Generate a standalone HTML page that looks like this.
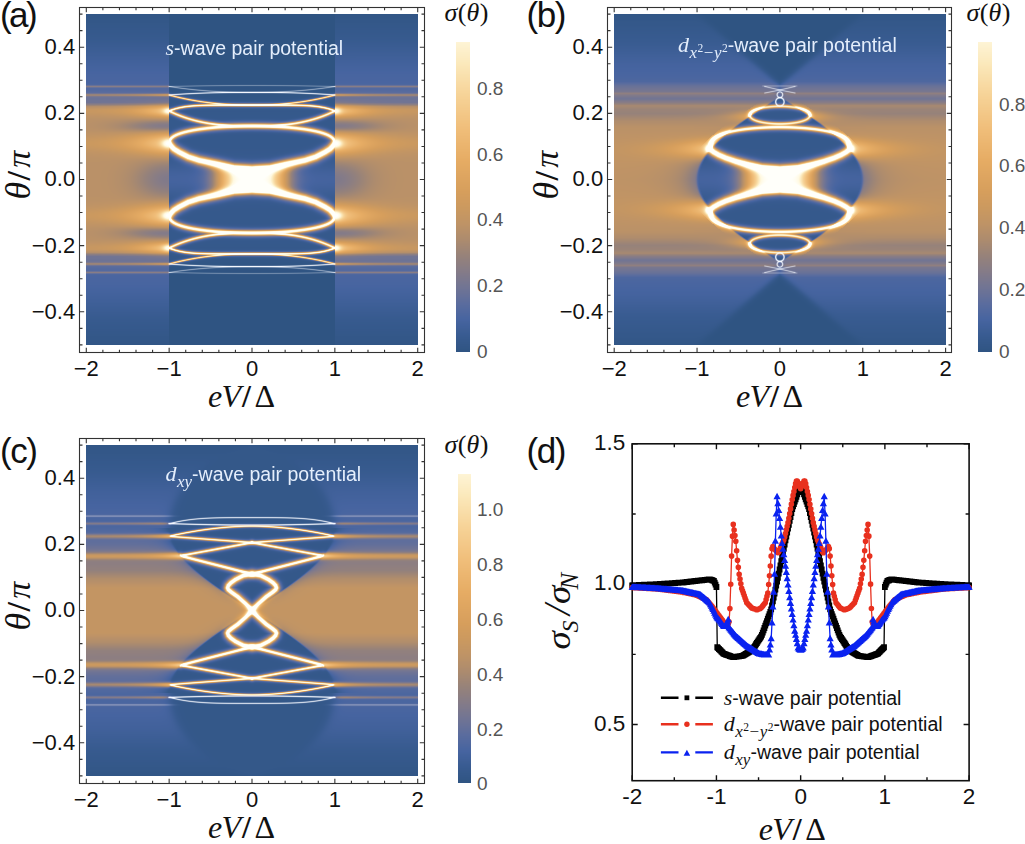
<!DOCTYPE html>
<html><head><meta charset="utf-8"><style>
html,body{margin:0;padding:0;background:#fff;}
body{width:1025px;height:844px;overflow:hidden;position:relative;}
svg{position:absolute;left:0;top:0;}
canvas{position:absolute;}
.fb{position:absolute;}
.tl{font-family:"Liberation Sans", sans-serif;font-size:22px;fill:#111;}
.tl2{font-family:"Liberation Sans", sans-serif;font-size:22.5px;fill:#111;}
.lg{font-family:"Liberation Sans", sans-serif;font-size:19.5px;fill:#111;}
.ax{font-family:"Liberation Serif", serif;fill:#111;}
.pl{font-family:"Liberation Sans", sans-serif;font-size:35px;fill:#111;letter-spacing:-1.4px;}
.cl{font-family:"Liberation Sans", sans-serif;font-size:19px;fill:#555;}
.ct{font-family:"Liberation Serif", serif;font-size:26px;fill:#111;}
.pt{font-family:"Liberation Sans", sans-serif;font-size:19.5px;fill:#e4eefc;}
</style></head>
<body>
<svg width="1025" height="844" viewBox="0 0 1025 844">
<rect x="0" y="0" width="1025" height="844" fill="#fff"/>
<path fill="#335787" d="M86 14h332v5h-332zM86 19h332v5h-332zM86 24h332v5h-332zM86 29h332v5h-332zM86 34h332v5h-332zM86 39h332v5h-332zM187 94h127v5h-127zM194 259h116v5h-116zM86 314h332v5h-332zM86 319h332v5h-332zM86 324h332v5h-332zM86 329h332v5h-332zM86 334h332v5h-332zM86 339h332v5h-332zM86 344h332v1h-332zM614 14h332v5h-332zM614 19h332v5h-332zM614 24h332v5h-332zM614 29h332v5h-332zM762 64h45v5h-45zM767 69h35v5h-35zM762 289h44v5h-44zM614 324h332v5h-332zM614 329h332v5h-332zM614 334h332v5h-332zM614 339h332v5h-332zM614 344h332v1h-332zM86 445h332v5h-332zM86 450h332v5h-332zM86 765h332v5h-332zM86 770h332v5h-332zM86 775h332v1h-332z"/><path fill="#33578d" d="M86 44h332v5h-332zM86 309h332v5h-332zM614 34h332v5h-332zM719 214h121v5h-121zM614 319h332v5h-332zM86 455h332v5h-332zM86 460h332v5h-332zM173 705h164v5h-164zM86 755h332v5h-332zM86 760h332v5h-332z"/><path fill="#39578d" d="M86 49h332v5h-332zM169 99h15v5h-15zM320 99h15v5h-15zM86 304h332v5h-332zM614 39h332v5h-332zM720 139h119v5h-119zM614 314h332v5h-332zM86 465h332v5h-332zM86 750h332v5h-332z"/><path fill="#395d8d" d="M86 54h332v5h-332zM179 109h144v5h-144zM192 114h117v5h-117zM169 119h15v5h-15zM185 134h130v5h-130zM177 139h149v5h-149zM181 144h138v5h-138zM193 149h115v5h-115zM183 209h134v5h-134zM176 214h150v5h-150zM185 219h134v5h-134zM169 234h18v5h-18zM315 234h20v5h-20zM196 239h109v5h-109zM181 244h140v5h-140zM169 254h18v5h-18zM614 44h332v5h-332zM756 114h48v5h-48zM728 134h100v5h-100zM720 144h120v5h-120zM731 149h98v5h-98zM736 204h90v5h-90zM718 209h121v5h-121zM727 219h105v5h-105zM614 309h332v5h-332zM86 470h332v5h-332zM86 475h332v5h-332zM175 525h22v5h-22zM206 530h90v5h-90zM219 550h65v5h-65zM203 555h94v5h-94zM227 560h51v5h-51zM199 570h28v5h-28zM276 570h30v5h-30zM205 575h22v5h-22zM275 575h24v5h-24zM213 580h10v5h-10zM236 585h32v5h-32zM235 630h32v5h-32zM206 640h20v5h-20zM277 640h21v5h-21zM200 645h30v5h-30zM273 645h32v5h-32zM231 655h43v5h-43zM210 660h84v5h-84zM210 665h80v5h-80zM169 675h48v5h-48zM198 685h105v5h-105zM86 740h332v5h-332zM86 745h332v5h-332z"/><path fill="#3f6399" d="M86 59h83v5h-83zM335 59h83v5h-83zM169 159h12v5h-12zM313 164h22v5h-22zM169 194h14v5h-14zM86 299h83v5h-83zM335 299h83v5h-83zM703 159h12v5h-12zM700 164h25v5h-25zM702 194h15v5h-15z"/><path fill="#2d5781" d="M169 59h166v5h-166zM169 64h166v5h-166zM169 69h166v5h-166zM169 74h166v5h-166zM169 79h166v5h-166zM169 279h166v5h-166zM169 284h166v5h-166zM169 289h166v5h-166zM169 294h166v5h-166zM169 299h166v5h-166z"/><path fill="#45639f" d="M86 64h83v5h-83zM335 64h83v5h-83zM86 69h83v5h-83zM335 69h83v5h-83zM169 169h34v5h-34zM303 169h32v5h-32zM169 174h35v5h-35zM169 184h34v5h-34zM86 284h83v5h-83zM335 284h83v5h-83zM86 289h83v5h-83zM335 289h83v5h-83zM614 64h148v5h-148zM807 64h139v5h-139zM614 69h153v5h-153zM802 69h144v5h-144zM773 74h173v5h-173zM698 169h33v5h-33zM831 169h31v5h-31zM698 184h34v5h-34zM829 184h33v5h-33zM614 284h154v5h-154zM768 284h178v5h-178zM614 289h148v5h-148zM806 289h140v5h-140zM614 294h144v5h-144z"/><path fill="#4b639f" d="M86 74h83v5h-83zM335 74h83v5h-83zM86 79h83v5h-83zM335 79h83v5h-83zM169 179h35v5h-35zM296 184h39v5h-39zM86 279h83v5h-83zM335 279h83v5h-83zM614 74h159v5h-159zM697 174h35v5h-35zM697 179h35v5h-35zM614 279h160v5h-160zM774 279h172v5h-172z"/><path fill="#636f99" d="M86 84h100v5h-100zM306 164h7v5h-7zM86 269h109v5h-109zM715 159h3v5h-3zM860 189h1v5h-1zM771 254h4v5h-4zM86 530h90v5h-90zM234 585h2v5h-2zM268 585h2v5h-2zM230 645h3v5h-3zM341 675h77v5h-77z"/><path fill="#3f638d" d="M186 84h149v5h-149zM317 89h18v5h-18z"/><path fill="#696f99" d="M335 84h83v5h-83zM175 139h2v5h-2zM295 169h8v5h-8zM335 269h83v5h-83zM798 84h148v5h-148zM699 164h1v5h-1zM725 164h5v5h-5zM823 169h8v5h-8zM727 189h5v5h-5zM86 545h85v5h-85zM333 545h85v5h-85zM184 655h4v5h-4z"/><path fill="#5d6f99" d="M86 89h83v5h-83zM335 89h83v5h-83zM326 214h2v5h-2zM771 99h4v5h-4zM785 99h4v5h-4zM716 144h4v5h-4zM777 254h6v5h-6zM332 530h86v5h-86zM267 630h2v5h-2zM223 635h1v5h-1zM86 675h83v5h-83z"/><path fill="#3f5d8d" d="M169 89h17v5h-17zM318 119h17v5h-17zM314 254h21v5h-21zM299 545h34v5h-34zM280 580h13v5h-13zM212 635h11v5h-11z"/><path fill="#6f87ab" d="M186 89h131v5h-131z"/><path fill="#877b87" d="M86 94h83v5h-83zM335 94h83v5h-83zM184 159h2v5h-2zM181 209h2v5h-2zM718 159h3v5h-3zM858 159h1v5h-1zM819 179h6v5h-6zM700 194h1v5h-1zM842 209h2v5h-2zM250 600h4v5h-4zM233 645h2v5h-2zM86 680h84v5h-84zM334 680h84v5h-84z"/><path fill="#a59f9f" d="M169 94h14v5h-14zM321 94h12v5h-12zM186 114h3v5h-3zM326 114h2v5h-2zM193 234h4v5h-4zM722 219h1v5h-1zM199 655h4v5h-4z"/><path fill="#7b8799" d="M183 94h4v5h-4zM222 680h14v5h-14z"/><path fill="#5d6f8d" d="M314 94h4v5h-4zM330 104h3v5h-3zM321 244h3v5h-3zM189 259h5v5h-5zM310 259h5v5h-5zM292 565h6v5h-6zM274 655h5v5h-5zM294 660h4v5h-4z"/><path fill="#818d9f" d="M318 94h3v5h-3z"/><path fill="#8d93a5" d="M333 94h2v5h-2z"/><path fill="#757593" d="M86 99h83v5h-83zM335 99h83v5h-83zM328 139h1v5h-1zM696 174h1v5h-1zM696 184h2v5h-2z"/><path fill="#69758d" d="M184 99h5v5h-5zM173 129h2v5h-2zM333 249h2v5h-2zM275 535h14v5h-14zM206 540h13v5h-13zM213 550h6v5h-6zM272 570h4v5h-4zM307 655h4v5h-4zM290 665h6v5h-6zM199 670h6v5h-6zM235 670h6v5h-6zM299 670h6v5h-6z"/><path fill="#8d8d8d" d="M189 99h27v5h-27z"/><path fill="#51698d" d="M216 99h68v5h-68z"/><path fill="#87878d" d="M284 99h32v5h-32zM204 129h11v5h-11zM169 259h20v5h-20zM315 259h18v5h-18zM754 239h2v5h-2zM308 560h4v5h-4zM263 565h4v5h-4z"/><path fill="#636f8d" d="M316 99h4v5h-4zM309 114h4v5h-4zM305 239h4v5h-4zM187 254h4v5h-4zM801 239h3v5h-3zM800 244h2v5h-2zM296 530h7v5h-7zM218 535h14v5h-14zM287 540h14v5h-14zM204 545h6v5h-6zM284 550h6v5h-6zM208 565h4v5h-4zM227 570h4v5h-4zM203 640h3v5h-3zM305 645h3v5h-3zM212 650h4v5h-4zM205 660h5v5h-5z"/><path fill="#b78d69" d="M86 104h67v5h-67zM383 124h35v5h-35zM86 159h83v5h-83zM335 159h83v5h-83zM367 174h51v5h-51zM86 179h54v5h-54zM367 179h51v5h-51zM389 229h29v5h-29zM862 169h84v5h-84zM295 580h123v5h-123zM224 585h1v5h-1zM279 585h1v5h-1z"/><path fill="#d5a569" d="M153 104h16v5h-16zM845 144h1v5h-1z"/><path fill="#51638d" d="M169 104h4v5h-4zM839 139h1v5h-1zM210 580h3v5h-3z"/><path fill="#758193" d="M173 104h3v5h-3z"/><path fill="#aba5a5" d="M176 104h151v5h-151zM723 134h2v5h-2z"/><path fill="#818799" d="M327 104h3v5h-3z"/><path fill="#456393" d="M333 104h2v5h-2zM169 239h6v5h-6zM329 239h6v5h-6zM760 109h37v5h-37zM745 119h5v5h-5zM241 580h21v5h-21zM246 595h11v5h-11z"/><path fill="#bd9369" d="M335 104h83v5h-83zM173 139h1v5h-1zM330 139h1v5h-1zM214 174h5v5h-5zM214 179h5v5h-5zM213 184h4v5h-4zM287 184h4v5h-4zM86 199h83v5h-83zM335 199h83v5h-83zM86 224h83v5h-83zM335 224h83v5h-83zM614 129h104v5h-104zM840 129h106v5h-106zM614 159h85v5h-85zM859 159h87v5h-87zM614 164h76v5h-76zM614 169h71v5h-71zM814 174h4v5h-4zM741 184h4v5h-4zM614 189h74v5h-74zM614 194h83v5h-83zM859 194h87v5h-87zM614 224h102v5h-102zM845 224h101v5h-101zM614 229h115v5h-115zM824 229h122v5h-122zM736 244h11v5h-11z"/><path fill="#cf9f63" d="M86 109h65v5h-65zM335 134h83v5h-83zM335 149h83v5h-83zM86 219h72v5h-72zM86 244h66v5h-66zM614 149h80v5h-80zM614 204h83v5h-83z"/><path fill="#edb76f" d="M151 109h10v5h-10zM152 244h10v5h-10z"/><path fill="#f3cf93" d="M161 109h3v5h-3zM223 184h3v5h-3zM162 244h2v5h-2zM703 144h2v5h-2zM751 184h3v5h-3zM713 209h1v5h-1zM751 239h1v5h-1z"/><path fill="#f9e7bd" d="M164 109h2v5h-2zM338 109h2v5h-2zM162 214h2v5h-2zM808 114h1v5h-1zM705 144h1v5h-1zM851 214h1v5h-1z"/><path fill="#fff9db" d="M166 109h3v5h-3zM335 109h3v5h-3z"/><path fill="#e7cfb1" d="M169 109h2v5h-2zM195 199h6v5h-6zM234 575h3v5h-3zM232 635h2v5h-2zM270 635h2v5h-2z"/><path fill="#f9e7c3" d="M171 109h2v5h-2zM171 139h1v5h-1zM332 139h1v5h-1zM225 169h3v5h-3zM753 169h3v5h-3zM708 214h1v5h-1zM246 605h1v5h-1zM257 605h1v5h-1z"/><path fill="#e7cfa5" d="M173 109h2v5h-2zM746 229h66v5h-66zM263 570h3v5h-3zM228 580h1v5h-1zM275 580h1v5h-1z"/><path fill="#c9ab93" d="M175 109h1v5h-1zM328 109h1v5h-1z"/><path fill="#b19981" d="M176 109h1v5h-1zM327 109h1v5h-1zM177 144h2v5h-2zM179 199h2v5h-2zM717 139h1v5h-1z"/><path fill="#938781" d="M177 109h1v5h-1zM326 109h1v5h-1zM317 159h2v5h-2zM190 204h3v5h-3zM841 139h1v5h-1zM722 149h3v5h-3zM736 154h4v5h-4z"/><path fill="#7b7b87" d="M178 109h1v5h-1zM325 109h1v5h-1zM328 129h2v5h-2zM323 219h2v5h-2zM172 224h2v5h-2zM833 149h3v5h-3zM701 159h1v5h-1zM772 194h23v5h-23zM239 580h2v5h-2zM293 635h2v5h-2z"/><path fill="#5d6f93" d="M323 109h2v5h-2zM315 134h5v5h-5zM804 114h1v5h-1zM828 134h4v5h-4zM702 159h1v5h-1zM744 199h10v5h-10zM826 204h5v5h-5zM839 209h3v5h-3zM832 219h3v5h-3z"/><path fill="#edd5ab" d="M329 109h3v5h-3zM291 124h7v5h-7zM200 229h19v5h-19zM311 555h6v5h-6z"/><path fill="#f3e1bd" d="M332 109h2v5h-2zM282 194h6v5h-6zM175 204h2v5h-2zM327 204h2v5h-2zM170 219h4v5h-4zM832 129h4v5h-4zM713 134h2v5h-2zM841 154h2v5h-2z"/><path fill="#e1c3ab" d="M334 109h1v5h-1z"/><path fill="#d59f63" d="M340 109h78v5h-78zM86 139h67v5h-67zM86 144h68v5h-68zM86 209h68v5h-68zM86 214h66v5h-66zM335 219h83v5h-83zM342 244h76v5h-76zM855 144h91v5h-91zM855 149h91v5h-91zM854 204h92v5h-92zM858 209h88v5h-88z"/><path fill="#c99963" d="M86 114h81v5h-81zM335 114h83v5h-83zM284 179h5v5h-5zM729 114h18v5h-18zM614 139h91v5h-91zM852 139h94v5h-94zM614 154h90v5h-90zM856 154h90v5h-90zM614 199h89v5h-89zM857 199h89v5h-89zM614 214h89v5h-89zM730 239h17v5h-17z"/><path fill="#dbab69" d="M167 114h2v5h-2zM151 249h13v5h-13zM747 244h1v5h-1z"/><path fill="#4b6393" d="M169 114h4v5h-4zM330 129h5v5h-5zM203 224h90v5h-90zM840 214h1v5h-1z"/><path fill="#75758d" d="M173 114h2v5h-2zM320 209h2v5h-2zM805 114h1v5h-1zM749 129h56v5h-56zM843 144h1v5h-1zM849 154h2v5h-2zM698 189h1v5h-1zM710 199h2v5h-2zM193 570h3v5h-3zM229 575h2v5h-2zM273 575h2v5h-2zM228 640h1v5h-1zM86 685h86v5h-86zM330 685h88v5h-88z"/><path fill="#939399" d="M175 114h2v5h-2zM288 119h8v5h-8zM836 219h1v5h-1zM290 550h6v5h-6zM315 550h10v5h-10z"/><path fill="#b7ab9f" d="M177 114h3v5h-3zM196 129h8v5h-8zM326 224h3v5h-3zM193 229h7v5h-7zM304 229h7v5h-7z"/><path fill="#cfb193" d="M180 114h6v5h-6zM317 149h3v5h-3zM177 209h2v5h-2zM317 239h6v5h-6zM839 149h2v5h-2z"/><path fill="#818193" d="M189 114h3v5h-3zM187 119h3v5h-3zM192 239h4v5h-4z"/><path fill="#8d8d93" d="M313 114h3v5h-3zM213 234h75v5h-75zM177 239h2v5h-2zM309 239h4v5h-4zM325 239h2v5h-2zM723 219h1v5h-1zM802 244h2v5h-2zM240 650h5v5h-5zM201 660h4v5h-4z"/><path fill="#b1a59f" d="M316 114h3v5h-3zM179 239h3v5h-3zM740 129h9v5h-9zM804 244h1v5h-1z"/><path fill="#c9b193" d="M319 114h7v5h-7zM194 119h12v5h-12zM182 239h7v5h-7zM236 590h1v5h-1zM237 625h2v5h-2zM265 625h2v5h-2z"/><path fill="#818793" d="M328 114h2v5h-2zM205 665h5v5h-5z"/><path fill="#5d698d" d="M330 114h3v5h-3zM184 119h3v5h-3zM187 234h3v5h-3zM221 560h6v5h-6zM278 560h4v5h-4zM202 575h3v5h-3zM299 575h3v5h-3zM291 635h2v5h-2zM298 640h2v5h-2zM225 655h6v5h-6z"/><path fill="#3f5d93" d="M333 114h2v5h-2zM169 124h18v5h-18zM315 124h20v5h-20zM216 154h70v5h-70zM220 199h62v5h-62zM169 229h14v5h-14zM321 229h14v5h-14zM614 54h332v5h-332zM757 59h189v5h-189zM747 154h66v5h-66zM754 199h55v5h-55zM756 239h45v5h-45zM758 244h42v5h-42zM614 299h332v5h-332zM86 495h332v5h-332zM86 500h332v5h-332zM86 505h332v5h-332zM86 510h332v5h-332zM170 515h20v5h-20zM232 535h43v5h-43zM169 540h37v5h-37zM301 540h40v5h-40zM191 565h17v5h-17zM298 565h15v5h-15zM239 635h24v5h-24zM280 635h11v5h-11zM192 650h20v5h-20zM291 650h21v5h-21zM172 670h27v5h-27zM305 670h26v5h-26zM282 675h59v5h-59zM86 710h332v5h-332zM86 715h332v5h-332zM86 720h332v5h-332zM86 725h332v5h-332z"/><path fill="#ab8d6f" d="M86 119h83v5h-83zM335 119h83v5h-83zM86 124h52v5h-52zM335 164h83v5h-83zM335 189h83v5h-83zM86 229h56v5h-56zM86 234h83v5h-83zM335 234h83v5h-83zM812 114h134v5h-134zM812 239h134v5h-134zM86 575h113v5h-113zM302 575h116v5h-116zM223 625h4v5h-4zM86 640h114v5h-114zM300 640h118v5h-118zM86 665h93v5h-93zM324 665h94v5h-94z"/><path fill="#ab9f9f" d="M190 119h4v5h-4zM189 239h3v5h-3zM326 244h2v5h-2zM310 249h20v5h-20zM286 560h4v5h-4z"/><path fill="#9f999f" d="M206 119h7v5h-7z"/><path fill="#696f8d" d="M213 119h75v5h-75zM187 124h6v5h-6zM331 224h2v5h-2zM183 229h5v5h-5zM316 229h5v5h-5zM797 109h3v5h-3zM750 119h1v5h-1zM718 214h1v5h-1zM724 219h3v5h-3z"/><path fill="#c3b199" d="M296 119h16v5h-16zM288 234h20v5h-20z"/><path fill="#999399" d="M312 119h3v5h-3zM308 234h4v5h-4zM177 244h2v5h-2zM766 119h27v5h-27zM176 530h23v5h-23zM303 530h24v5h-24zM283 650h4v5h-4zM200 690h37v5h-37z"/><path fill="#757b8d" d="M315 119h3v5h-3zM309 124h6v5h-6zM179 244h2v5h-2zM744 224h12v5h-12zM806 224h9v5h-9zM260 545h5v5h-5z"/><path fill="#8d8181" d="M138 124h31v5h-31zM175 154h2v5h-2zM141 174h28v5h-28zM290 174h5v5h-5zM335 174h32v5h-32zM140 179h29v5h-29zM335 179h32v5h-32zM143 184h26v5h-26zM291 184h5v5h-5zM201 189h4v5h-4zM186 194h4v5h-4zM177 199h2v5h-2zM730 164h3v5h-3zM827 164h3v5h-3zM86 560h98v5h-98zM320 560h98v5h-98zM86 565h102v5h-102zM313 565h105v5h-105zM225 580h1v5h-1zM278 580h1v5h-1zM233 585h1v5h-1zM270 585h1v5h-1zM288 585h2v5h-2zM240 625h1v5h-1zM263 625h1v5h-1zM200 640h3v5h-3zM86 650h103v5h-103zM312 650h106v5h-106zM86 655h98v5h-98zM318 655h100v5h-100z"/><path fill="#938d8d" d="M193 124h6v5h-6zM196 224h7v5h-7zM736 124h11v5h-11zM753 234h2v5h-2z"/><path fill="#bda599" d="M199 124h5v5h-5z"/><path fill="#e7c99f" d="M204 124h7v5h-7zM810 109h1v5h-1zM795 249h10v5h-10zM322 555h2v5h-2z"/><path fill="#f9e1c3" d="M211 124h70v5h-70zM705 149h6v5h-6zM825 194h3v5h-3zM719 199h3v5h-3zM717 204h2v5h-2zM749 244h1v5h-1zM229 580h1v5h-1zM274 580h1v5h-1zM241 620h1v5h-1zM262 620h1v5h-1zM228 635h1v5h-1zM275 635h1v5h-1z"/><path fill="#fff3db" d="M281 124h10v5h-10zM173 144h1v5h-1zM330 144h1v5h-1zM228 184h3v5h-3zM750 114h1v5h-1zM744 164h4v5h-4zM713 219h2v5h-2zM232 625h3v5h-3z"/><path fill="#c9b199" d="M298 124h5v5h-5zM197 234h16v5h-16zM801 194h7v5h-7zM235 580h2v5h-2z"/><path fill="#9f9393" d="M303 124h6v5h-6zM174 224h2v5h-2zM806 119h2v5h-2zM805 129h10v5h-10z"/><path fill="#93817b" d="M335 124h48v5h-48zM335 184h36v5h-36zM819 169h4v5h-4zM684 174h12v5h-12zM684 179h12v5h-12zM739 234h2v5h-2zM819 234h2v5h-2zM207 635h3v5h-3z"/><path fill="#b79369" d="M86 129h83v5h-83zM335 129h83v5h-83zM373 169h45v5h-45zM286 174h4v5h-4zM371 184h47v5h-47zM740 109h7v5h-7zM614 124h122v5h-122zM823 124h123v5h-123zM861 164h85v5h-85zM614 174h70v5h-70zM614 179h70v5h-70zM614 184h71v5h-71zM861 189h85v5h-85zM86 580h119v5h-119zM86 635h121v5h-121zM295 635h123v5h-123zM86 660h94v5h-94zM324 660h94v5h-94z"/><path fill="#4b6399" d="M169 129h4v5h-4zM169 154h4v5h-4zM304 189h31v5h-31zM169 199h6v5h-6zM333 224h2v5h-2zM808 234h9v5h-9zM304 525h114v5h-114zM281 585h5v5h-5zM247 620h9v5h-9zM86 690h108v5h-108z"/><path fill="#8d878d" d="M175 129h2v5h-2zM178 219h2v5h-2zM329 224h2v5h-2zM804 239h2v5h-2z"/><path fill="#b1a599" d="M177 129h3v5h-3zM228 540h5v5h-5z"/><path fill="#e1c9ab" d="M180 129h16v5h-16zM282 159h8v5h-8zM732 129h8v5h-8zM268 575h2v5h-2zM270 650h9v5h-9z"/><path fill="#576993" d="M215 129h71v5h-71zM809 119h2v5h-2zM728 204h8v5h-8zM297 555h4v5h-4zM196 570h3v5h-3zM197 645h3v5h-3z"/><path fill="#7b7b8d" d="M286 129h11v5h-11zM181 134h4v5h-4zM328 154h2v5h-2zM169 204h1v5h-1zM334 204h1v5h-1zM86 259h83v5h-83zM335 259h83v5h-83zM614 94h162v5h-162zM784 94h162v5h-162zM808 119h1v5h-1zM832 134h2v5h-2zM835 219h1v5h-1zM301 555h3v5h-3zM245 595h1v5h-1zM258 595h1v5h-1zM223 630h1v5h-1zM234 630h1v5h-1zM269 630h1v5h-1zM280 630h1v5h-1zM224 635h1v5h-1zM279 635h1v5h-1zM194 645h3v5h-3zM276 675h6v5h-6z"/><path fill="#a59999" d="M297 129h8v5h-8zM737 224h7v5h-7zM196 555h3v5h-3z"/><path fill="#cfbdab" d="M305 129h8v5h-8zM731 224h6v5h-6z"/><path fill="#e7cfab" d="M313 129h9v5h-9zM179 224h11v5h-11zM315 224h11v5h-11zM841 149h2v5h-2zM848 204h6v5h-6zM234 590h2v5h-2zM241 595h1v5h-1zM262 595h1v5h-1zM242 620h1v5h-1zM261 620h1v5h-1z"/><path fill="#c9b7a5" d="M322 129h3v5h-3zM176 224h3v5h-3zM799 124h12v5h-12zM815 129h8v5h-8zM838 219h1v5h-1zM193 555h3v5h-3z"/><path fill="#a59993" d="M325 129h3v5h-3z"/><path fill="#cf9963" d="M86 134h74v5h-74zM86 149h79v5h-79zM86 204h83v5h-83zM335 204h83v5h-83zM614 144h77v5h-77zM614 209h76v5h-76zM852 214h94v5h-94z"/><path fill="#e7b16f" d="M160 134h9v5h-9zM172 139h1v5h-1zM331 139h1v5h-1zM281 169h6v5h-6zM694 149h9v5h-9zM745 169h5v5h-5zM809 169h6v5h-6zM697 204h7v5h-7zM703 214h4v5h-4zM225 585h1v5h-1zM278 585h1v5h-1zM243 605h2v5h-2zM225 630h1v5h-1zM278 630h1v5h-1z"/><path fill="#b79f8d" d="M169 134h1v5h-1zM334 134h1v5h-1zM276 159h6v5h-6zM295 199h6v5h-6zM803 159h6v5h-6zM266 580h2v5h-2z"/><path fill="#dbc3ab" d="M170 134h2v5h-2zM290 560h14v5h-14zM203 655h14v5h-14z"/><path fill="#f3dbb7" d="M172 134h4v5h-4zM174 144h1v5h-1zM329 144h1v5h-1zM329 149h2v5h-2zM182 154h2v5h-2zM184 199h2v5h-2zM328 209h1v5h-1zM728 159h3v5h-3zM840 204h2v5h-2zM847 219h1v5h-1zM246 600h1v5h-1zM257 600h1v5h-1zM247 615h1v5h-1zM256 615h1v5h-1z"/><path fill="#cfbda5" d="M176 134h2v5h-2zM326 134h2v5h-2zM776 104h8v5h-8z"/><path fill="#ab9f99" d="M178 134h3v5h-3zM323 134h3v5h-3zM170 680h52v5h-52zM285 680h44v5h-44z"/><path fill="#81818d" d="M320 134h3v5h-3zM310 254h4v5h-4zM751 119h1v5h-1zM725 134h3v5h-3zM199 555h4v5h-4zM282 560h4v5h-4zM195 655h4v5h-4z"/><path fill="#edd5b1" d="M328 134h5v5h-5zM192 154h5v5h-5zM175 209h2v5h-2zM823 129h9v5h-9zM839 219h2v5h-2zM183 555h10v5h-10z"/><path fill="#cfbd9f" d="M333 134h1v5h-1z"/><path fill="#edbd7b" d="M153 139h7v5h-7zM154 144h7v5h-7zM158 219h11v5h-11zM245 610h1v5h-1z"/><path fill="#f9d59f" d="M160 139h3v5h-3zM161 144h3v5h-3zM277 184h3v5h-3zM162 209h4v5h-4zM160 214h2v5h-2z"/><path fill="#ffedc9" d="M163 139h3v5h-3zM274 184h3v5h-3zM758 174h2v5h-2zM705 209h1v5h-1zM226 630h1v5h-1zM277 630h1v5h-1z"/><path fill="#fff9ed" d="M166 139h5v5h-5zM333 139h6v5h-6zM176 149h4v5h-4zM220 189h29v5h-29zM711 149h4v5h-4zM845 149h4v5h-4zM820 159h8v5h-8zM750 189h27v5h-27zM735 194h10v5h-10zM844 204h4v5h-4zM715 219h3v5h-3zM843 219h3v5h-3zM247 605h4v5h-4zM242 645h20v5h-20z"/><path fill="#938181" d="M174 139h1v5h-1zM329 139h1v5h-1zM198 164h5v5h-5zM301 164h5v5h-5zM144 169h25v5h-25zM210 174h4v5h-4zM210 179h4v5h-4zM209 184h4v5h-4zM142 229h27v5h-27zM710 154h2v5h-2zM818 174h5v5h-5zM732 189h3v5h-3zM721 194h3v5h-3zM740 199h4v5h-4zM846 199h2v5h-2zM86 535h72v5h-72zM334 535h84v5h-84z"/><path fill="#57699f" d="M326 139h2v5h-2zM614 274h163v5h-163z"/><path fill="#ffedc3" d="M339 139h2v5h-2zM854 209h1v5h-1z"/><path fill="#f9d599" d="M341 139h4v5h-4z"/><path fill="#dba563" d="M345 139h73v5h-73zM342 144h76v5h-76zM280 174h6v5h-6zM344 214h74v5h-74zM808 179h7v5h-7z"/><path fill="#ffedcf" d="M164 144h6v5h-6zM334 144h5v5h-5zM275 169h3v5h-3zM167 244h2v5h-2zM714 139h1v5h-1zM803 169h3v5h-3zM247 610h1v5h-1zM256 610h1v5h-1z"/><path fill="#fffff3" d="M170 144h3v5h-3zM331 144h3v5h-3zM271 164h15v5h-15zM231 174h40v5h-40zM171 209h3v5h-3zM330 209h3v5h-3zM333 214h6v5h-6zM706 144h7v5h-7zM748 164h13v5h-13zM759 179h40v5h-40zM709 214h5v5h-5zM846 214h5v5h-5zM254 605h3v5h-3z"/><path fill="#dbbd93" d="M175 144h2v5h-2z"/><path fill="#8d8187" d="M179 144h2v5h-2zM294 154h6v5h-6zM271 159h5v5h-5zM299 189h5v5h-5zM289 199h6v5h-6zM310 204h4v5h-4zM819 124h4v5h-4zM819 154h4v5h-4zM798 159h5v5h-5zM815 199h4v5h-4zM725 204h3v5h-3zM717 214h1v5h-1zM264 580h2v5h-2z"/><path fill="#576999" d="M319 144h3v5h-3zM317 209h3v5h-3zM840 144h3v5h-3zM829 149h4v5h-4zM850 199h5v5h-5zM226 640h2v5h-2z"/><path fill="#7b758d" d="M322 144h2v5h-2zM189 149h4v5h-4zM614 259h162v5h-162zM784 259h162v5h-162z"/><path fill="#9f8d81" d="M324 144h2v5h-2zM324 199h2v5h-2zM847 154h2v5h-2zM795 194h6v5h-6zM236 635h1v5h-1zM267 635h1v5h-1z"/><path fill="#c9ab87" d="M326 144h2v5h-2z"/><path fill="#e7c999" d="M328 144h1v5h-1zM290 164h6v5h-6zM836 129h4v5h-4z"/><path fill="#f9dbab" d="M339 144h3v5h-3zM278 169h3v5h-3zM751 114h1v5h-1zM708 139h1v5h-1zM854 149h1v5h-1z"/><path fill="#e7b169" d="M165 149h4v5h-4zM691 144h12v5h-12zM747 179h7v5h-7zM690 209h12v5h-12z"/><path fill="#998781" d="M169 149h1v5h-1zM334 149h1v5h-1zM207 199h6v5h-6zM170 204h1v5h-1zM333 204h1v5h-1zM322 209h2v5h-2zM712 199h2v5h-2zM231 575h1v5h-1zM272 575h1v5h-1zM238 590h1v5h-1zM265 590h1v5h-1zM244 595h1v5h-1zM259 595h1v5h-1zM233 630h1v5h-1zM270 630h1v5h-1zM268 645h2v5h-2z"/><path fill="#b7937b" d="M170 149h1v5h-1zM333 149h1v5h-1z"/><path fill="#cfab81" d="M171 149h1v5h-1zM332 149h1v5h-1zM226 635h1v5h-1zM277 635h1v5h-1z"/><path fill="#e7c9a5" d="M172 149h2v5h-2zM182 149h3v5h-3zM180 555h3v5h-3zM227 635h1v5h-1zM276 635h1v5h-1z"/><path fill="#f9e7c9" d="M174 149h2v5h-2zM180 149h2v5h-2zM310 154h4v5h-4zM319 154h2v5h-2zM286 164h4v5h-4zM217 189h3v5h-3zM199 194h5v5h-5zM317 199h2v5h-2zM171 214h1v5h-1zM332 214h1v5h-1zM805 109h5v5h-5zM715 149h2v5h-2zM843 149h2v5h-2zM717 154h3v5h-3zM832 154h3v5h-3zM814 164h3v5h-3zM732 194h3v5h-3zM711 204h1v5h-1zM834 224h4v5h-4zM752 244h1v5h-1zM242 600h1v5h-1zM261 600h1v5h-1zM243 615h1v5h-1zM260 615h1v5h-1z"/><path fill="#c3ab8d" d="M185 149h2v5h-2zM754 119h12v5h-12zM793 119h13v5h-13zM767 249h10v5h-10z"/><path fill="#a58d81" d="M187 149h2v5h-2zM315 149h2v5h-2zM250 615h4v5h-4zM239 625h1v5h-1zM264 625h1v5h-1zM230 640h1v5h-1zM273 640h1v5h-1z"/><path fill="#636f93" d="M308 149h5v5h-5zM286 154h8v5h-8zM181 159h3v5h-3zM183 194h3v5h-3zM282 199h7v5h-7zM305 204h5v5h-5zM180 219h5v5h-5zM754 114h2v5h-2zM725 149h6v5h-6zM706 154h4v5h-4zM813 154h6v5h-6zM851 154h3v5h-3zM857 159h1v5h-1zM717 194h4v5h-4zM809 199h6v5h-6zM312 560h8v5h-8zM306 570h3v5h-3zM240 590h2v5h-2zM262 590h2v5h-2zM257 595h1v5h-1zM263 635h2v5h-2zM217 675h7v5h-7z"/><path fill="#817b87" d="M313 149h2v5h-2zM234 194h36v5h-36zM326 199h2v5h-2zM175 214h1v5h-1zM328 214h1v5h-1zM614 99h157v5h-157zM789 99h157v5h-157zM705 154h1v5h-1zM839 159h3v5h-3zM698 164h1v5h-1zM704 199h1v5h-1zM831 204h3v5h-3zM716 209h2v5h-2zM239 590h1v5h-1zM264 590h1v5h-1zM246 620h1v5h-1zM257 620h1v5h-1zM237 635h2v5h-2zM265 635h2v5h-2z"/><path fill="#edd5b7" d="M320 149h3v5h-3zM183 204h3v5h-3zM742 159h7v5h-7zM809 239h1v5h-1zM233 580h2v5h-2zM235 595h2v5h-2zM267 595h2v5h-2zM235 625h2v5h-2zM267 625h2v5h-2zM273 625h1v5h-1z"/><path fill="#fff3e1" d="M323 149h6v5h-6zM184 154h8v5h-8zM249 189h22v5h-22zM186 199h9v5h-9zM715 134h5v5h-5zM840 134h5v5h-5zM777 189h22v5h-22zM808 244h2v5h-2zM230 580h3v5h-3zM271 580h3v5h-3zM271 590h3v5h-3zM237 595h3v5h-3zM264 595h3v5h-3zM243 600h3v5h-3zM244 615h3v5h-3zM257 615h3v5h-3zM238 620h3v5h-3zM263 620h3v5h-3zM229 635h3v5h-3z"/><path fill="#e1c399" d="M331 149h1v5h-1zM754 249h13v5h-13zM235 620h2v5h-2zM267 620h2v5h-2z"/><path fill="#c39363" d="M86 154h83v5h-83zM335 154h83v5h-83zM213 169h4v5h-4zM287 169h4v5h-4zM86 239h83v5h-83zM335 239h83v5h-83zM86 249h65v5h-65zM614 134h97v5h-97zM848 134h98v5h-98zM741 169h4v5h-4zM815 169h4v5h-4zM742 174h5v5h-5zM742 179h5v5h-5zM815 184h3v5h-3zM614 219h96v5h-96zM86 585h127v5h-127zM290 585h128v5h-128zM86 590h135v5h-135zM279 590h139v5h-139zM86 595h147v5h-147zM271 595h147v5h-147zM86 600h153v5h-153zM264 600h154v5h-154zM86 605h157v5h-157zM86 610h157v5h-157zM86 615h153v5h-153zM263 615h155v5h-155zM86 620h149v5h-149zM269 620h149v5h-149zM86 625h137v5h-137zM278 625h140v5h-140zM86 630h128v5h-128zM288 630h130v5h-130z"/><path fill="#696f93" d="M173 154h2v5h-2zM230 159h41v5h-41zM740 154h7v5h-7zM760 159h38v5h-38zM701 194h1v5h-1zM785 254h5v5h-5zM86 520h82v5h-82zM335 520h83v5h-83zM184 560h9v5h-9zM188 565h3v5h-3zM224 580h1v5h-1zM279 580h1v5h-1zM256 620h1v5h-1zM241 625h2v5h-2zM261 625h2v5h-2zM275 640h2v5h-2zM189 650h3v5h-3zM86 695h82v5h-82z"/><path fill="#b19381" d="M177 154h2v5h-2zM311 194h4v5h-4zM721 159h3v5h-3z"/><path fill="#d5b799" d="M179 154h3v5h-3zM832 159h4v5h-4zM837 204h3v5h-3zM243 620h1v5h-1zM260 620h1v5h-1z"/><path fill="#c3ab93" d="M197 154h5v5h-5zM201 199h6v5h-6zM749 159h6v5h-6zM755 234h49v5h-49zM234 635h2v5h-2zM268 635h2v5h-2zM231 640h2v5h-2z"/><path fill="#998d81" d="M202 154h6v5h-6zM755 159h5v5h-5z"/><path fill="#6f758d" d="M208 154h8v5h-8zM213 199h7v5h-7zM293 224h9v5h-9zM312 234h3v5h-3zM175 239h2v5h-2zM327 239h2v5h-2zM240 545h6v5h-6zM293 545h6v5h-6zM262 580h2v5h-2zM287 650h4v5h-4zM264 670h5v5h-5z"/><path fill="#b79f87" d="M300 154h5v5h-5zM313 159h4v5h-4zM190 194h4v5h-4zM733 154h3v5h-3zM823 154h4v5h-4zM736 199h4v5h-4zM722 204h3v5h-3zM747 239h1v5h-1zM237 590h1v5h-1zM266 590h1v5h-1zM244 620h1v5h-1zM259 620h1v5h-1z"/><path fill="#dbc3a5" d="M305 154h5v5h-5zM241 640h3v5h-3zM260 640h3v5h-3z"/><path fill="#fff9e7" d="M314 154h5v5h-5zM199 159h12v5h-12zM297 159h8v5h-8zM204 194h12v5h-12zM288 194h13v5h-13zM310 199h7v5h-7zM720 154h5v5h-5zM835 154h6v5h-6zM814 194h11v5h-11zM722 199h6v5h-6zM832 199h6v5h-6zM712 204h5v5h-5zM750 244h2v5h-2zM259 600h2v5h-2zM273 635h2v5h-2z"/><path fill="#e1c9a5" d="M321 154h3v5h-3zM194 194h5v5h-5zM319 199h3v5h-3zM809 159h6v5h-6zM268 580h2v5h-2zM228 590h1v5h-1zM275 590h1v5h-1z"/><path fill="#c3a587" d="M324 154h2v5h-2zM322 199h2v5h-2zM845 154h2v5h-2zM832 194h3v5h-3z"/><path fill="#9f8781" d="M326 154h2v5h-2zM835 194h3v5h-3zM245 620h1v5h-1zM258 620h1v5h-1z"/><path fill="#516999" d="M330 154h5v5h-5zM705 199h5v5h-5zM227 575h2v5h-2zM311 655h7v5h-7z"/><path fill="#ab9381" d="M186 159h4v5h-4zM179 209h2v5h-2zM836 159h3v5h-3zM834 204h3v5h-3z"/><path fill="#dbbd9f" d="M190 159h5v5h-5zM301 199h5v5h-5zM729 154h4v5h-4z"/><path fill="#f3e1c3" d="M195 159h4v5h-4zM305 159h4v5h-4zM233 164h38v5h-38zM301 194h5v5h-5zM306 199h4v5h-4zM849 149h5v5h-5zM725 154h4v5h-4zM728 199h4v5h-4zM828 199h4v5h-4zM838 199h3v5h-3zM722 224h9v5h-9zM270 580h1v5h-1zM269 590h2v5h-2zM240 595h1v5h-1zM263 595h1v5h-1zM230 625h2v5h-2z"/><path fill="#eddbbd" d="M211 159h8v5h-8zM720 134h2v5h-2zM838 134h2v5h-2zM745 194h7v5h-7zM808 194h6v5h-6zM828 224h6v5h-6z"/><path fill="#cfb199" d="M219 159h6v5h-6z"/><path fill="#a59387" d="M225 159h5v5h-5zM237 580h2v5h-2z"/><path fill="#f9edd5" d="M290 159h7v5h-7zM283 189h3v5h-3zM842 204h2v5h-2zM258 600h1v5h-1zM272 635h1v5h-1z"/><path fill="#e1c39f" d="M309 159h4v5h-4zM326 209h2v5h-2zM717 149h3v5h-3zM843 154h2v5h-2zM828 194h4v5h-4zM716 199h3v5h-3zM247 600h1v5h-1zM256 600h1v5h-1zM248 615h1v5h-1zM255 615h1v5h-1zM229 625h1v5h-1zM274 625h1v5h-1z"/><path fill="#6f7593" d="M319 159h3v5h-3zM203 169h6v5h-6zM204 174h6v5h-6zM204 179h6v5h-6zM175 199h2v5h-2zM86 264h85v5h-85zM336 264h82v5h-82zM860 164h1v5h-1zM697 169h1v5h-1zM731 169h6v5h-6zM732 174h6v5h-6zM696 179h1v5h-1zM732 179h6v5h-6zM732 184h6v5h-6zM822 184h7v5h-7zM827 189h5v5h-5zM838 194h4v5h-4zM858 194h1v5h-1zM848 199h2v5h-2zM751 234h2v5h-2zM270 645h3v5h-3zM86 670h86v5h-86zM331 670h87v5h-87z"/><path fill="#456399" d="M322 159h13v5h-13zM169 164h24v5h-24zM169 189h26v5h-26zM318 194h17v5h-17zM86 294h83v5h-83zM335 294h83v5h-83zM614 59h143v5h-143zM777 99h5v5h-5zM842 159h15v5h-15zM830 164h30v5h-30zM699 189h28v5h-28zM832 189h28v5h-28zM842 194h16v5h-16zM743 234h8v5h-8zM311 690h107v5h-107z"/><path fill="#b18d69" d="M86 164h67v5h-67zM86 169h58v5h-58zM86 174h55v5h-55zM86 184h57v5h-57zM86 189h64v5h-64zM86 194h83v5h-83zM335 194h83v5h-83zM815 179h4v5h-4zM862 184h84v5h-84zM614 234h125v5h-125zM821 234h125v5h-125z"/><path fill="#99817b" d="M153 164h16v5h-16zM209 169h4v5h-4zM291 169h4v5h-4zM335 169h38v5h-38zM289 179h5v5h-5zM150 189h19v5h-19zM715 144h1v5h-1zM685 169h12v5h-12zM737 169h4v5h-4zM738 174h4v5h-4zM738 179h4v5h-4zM685 184h11v5h-11zM738 184h3v5h-3zM818 184h4v5h-4zM688 189h10v5h-10zM86 570h107v5h-107zM309 570h109v5h-109zM205 580h3v5h-3z"/><path fill="#697593" d="M193 164h5v5h-5zM195 189h6v5h-6zM193 204h5v5h-5zM335 695h83v5h-83z"/><path fill="#bd9f7b" d="M203 164h5v5h-5zM296 164h5v5h-5zM266 645h2v5h-2z"/><path fill="#e7c393" d="M208 164h5v5h-5zM172 244h3v5h-3zM239 645h1v5h-1z"/><path fill="#f9e1bd" d="M213 164h4v5h-4zM725 129h7v5h-7zM845 214h1v5h-1zM712 219h1v5h-1zM718 219h2v5h-2z"/><path fill="#fff9f3" d="M217 164h16v5h-16zM798 164h16v5h-16z"/><path fill="#e1b169" d="M217 169h5v5h-5zM280 184h7v5h-7z"/><path fill="#f3cf99" d="M222 169h3v5h-3zM750 169h3v5h-3zM707 214h1v5h-1zM230 585h1v5h-1zM273 585h1v5h-1zM245 605h1v5h-1zM258 605h1v5h-1z"/><path fill="#fffff9" d="M228 169h47v5h-47zM233 179h38v5h-38zM231 184h43v5h-43zM271 189h12v5h-12zM710 139h4v5h-4zM846 139h4v5h-4zM847 144h6v5h-6zM756 169h47v5h-47zM760 174h39v5h-39zM756 184h46v5h-46zM799 189h12v5h-12zM706 209h7v5h-7zM847 209h7v5h-7zM227 585h2v5h-2zM275 585h2v5h-2zM248 610h8v5h-8zM227 630h2v5h-2zM275 630h2v5h-2z"/><path fill="#e7ab69" d="M219 174h7v5h-7zM747 174h6v5h-6z"/><path fill="#f3c98d" d="M226 174h3v5h-3zM226 179h3v5h-3zM713 144h1v5h-1zM803 174h4v5h-4zM704 204h2v5h-2z"/><path fill="#f9e1b1" d="M229 174h2v5h-2zM273 174h2v5h-2zM334 209h6v5h-6zM854 144h1v5h-1zM801 174h2v5h-2zM757 179h2v5h-2zM801 179h2v5h-2zM804 184h2v5h-2z"/><path fill="#fff3cf" d="M271 174h2v5h-2zM231 179h2v5h-2zM271 179h2v5h-2zM339 214h2v5h-2zM799 179h2v5h-2z"/><path fill="#f3c381" d="M275 174h5v5h-5z"/><path fill="#4b699f" d="M295 174h40v5h-40zM294 179h41v5h-41zM86 274h83v5h-83zM335 274h83v5h-83zM823 174h40v5h-40zM825 179h38v5h-38zM86 525h89v5h-89z"/><path fill="#e1ab69" d="M219 179h7v5h-7zM217 184h6v5h-6zM745 184h6v5h-6zM809 184h6v5h-6zM239 615h2v5h-2z"/><path fill="#f9e1ab" d="M229 179h2v5h-2z"/><path fill="#f9dba5" d="M273 179h3v5h-3zM341 214h3v5h-3zM846 144h1v5h-1zM806 169h3v5h-3zM756 174h2v5h-2zM704 209h1v5h-1zM846 209h1v5h-1z"/><path fill="#e7b76f" d="M276 179h8v5h-8z"/><path fill="#697599" d="M203 184h6v5h-6zM614 84h150v5h-150z"/><path fill="#f9e1b7" d="M226 184h2v5h-2zM166 209h4v5h-4zM164 244h3v5h-3zM754 184h2v5h-2z"/><path fill="#b19375" d="M205 189h4v5h-4zM295 189h4v5h-4zM824 164h3v5h-3z"/><path fill="#dbb181" d="M209 189h5v5h-5zM290 189h5v5h-5zM231 630h1v5h-1zM272 630h1v5h-1z"/><path fill="#f3cfa5" d="M214 189h3v5h-3z"/><path fill="#f3d5ab" d="M286 189h4v5h-4zM844 139h1v5h-1zM743 189h3v5h-3z"/><path fill="#f3dbbd" d="M216 194h7v5h-7zM319 204h2v5h-2zM845 134h2v5h-2zM828 159h4v5h-4zM750 239h1v5h-1zM810 244h1v5h-1zM229 590h1v5h-1zM274 590h1v5h-1zM237 620h1v5h-1zM266 620h1v5h-1z"/><path fill="#cfb799" d="M223 194h6v5h-6zM752 194h6v5h-6zM190 665h10v5h-10zM268 675h4v5h-4z"/><path fill="#ab9387" d="M229 194h5v5h-5zM270 194h5v5h-5z"/><path fill="#d5b79f" d="M275 194h7v5h-7z"/><path fill="#dbbd99" d="M306 194h5v5h-5zM316 204h3v5h-3zM724 159h4v5h-4z"/><path fill="#878187" d="M315 194h3v5h-3zM229 640h1v5h-1zM274 640h1v5h-1z"/><path fill="#d5bd99" d="M181 199h3v5h-3z"/><path fill="#4b6999" d="M328 199h7v5h-7z"/><path fill="#bd9f81" d="M171 204h2v5h-2zM331 204h2v5h-2zM714 199h2v5h-2zM843 214h1v5h-1z"/><path fill="#dbc399" d="M173 204h2v5h-2zM329 204h2v5h-2z"/><path fill="#fff3e7" d="M177 204h6v5h-6zM321 204h6v5h-6zM731 159h11v5h-11z"/><path fill="#d5b793" d="M186 204h2v5h-2zM328 244h2v5h-2z"/><path fill="#b79981" d="M188 204h2v5h-2zM314 204h2v5h-2zM712 154h2v5h-2zM844 199h2v5h-2zM716 214h1v5h-1z"/><path fill="#395d93" d="M198 204h107v5h-107zM614 49h332v5h-332zM614 304h332v5h-332zM86 480h332v5h-332zM86 485h332v5h-332zM86 490h332v5h-332zM171 545h33v5h-33zM242 590h20v5h-20zM243 625h18v5h-18zM86 730h332v5h-332zM86 735h332v5h-332z"/><path fill="#edbd75" d="M154 209h8v5h-8z"/><path fill="#ffedd5" d="M170 209h1v5h-1zM174 209h1v5h-1zM329 209h1v5h-1zM333 209h1v5h-1zM709 139h1v5h-1zM746 189h4v5h-4zM841 219h2v5h-2z"/><path fill="#bda587" d="M324 209h2v5h-2z"/><path fill="#d5a563" d="M340 209h78v5h-78z"/><path fill="#f3bd7b" d="M152 214h8v5h-8z"/><path fill="#ffffed" d="M164 214h7v5h-7z"/><path fill="#e7bd87" d="M172 214h1v5h-1zM331 214h1v5h-1z"/><path fill="#c99f6f" d="M173 214h1v5h-1zM330 214h1v5h-1z"/><path fill="#9f877b" d="M174 214h1v5h-1zM329 214h1v5h-1z"/><path fill="#d5bd9f" d="M169 219h1v5h-1zM334 219h1v5h-1zM823 199h5v5h-5zM267 590h2v5h-2zM232 675h5v5h-5z"/><path fill="#d5bda5" d="M174 219h2v5h-2z"/><path fill="#b19f93" d="M176 219h2v5h-2zM806 239h1v5h-1zM234 570h3v5h-3zM244 640h16v5h-16z"/><path fill="#5d6993" d="M319 219h4v5h-4zM240 565h23v5h-23zM218 630h5v5h-5zM281 630h5v5h-5z"/><path fill="#9f938d" d="M325 219h2v5h-2z"/><path fill="#c3b19f" d="M327 219h2v5h-2zM216 545h18v5h-18zM270 545h17v5h-17zM188 550h19v5h-19zM296 550h19v5h-19zM307 555h4v5h-4zM211 670h18v5h-18zM275 670h18v5h-18z"/><path fill="#eddbb7" d="M329 219h5v5h-5zM237 675h31v5h-31z"/><path fill="#516993" d="M169 224h3v5h-3zM756 224h50v5h-50zM217 585h6v5h-6zM188 655h7v5h-7z"/><path fill="#bdab9f" d="M190 224h6v5h-6z"/><path fill="#999393" d="M302 224h7v5h-7zM304 555h3v5h-3z"/><path fill="#c3b1a5" d="M309 224h6v5h-6zM747 124h12v5h-12zM721 219h1v5h-1zM301 665h20v5h-20z"/><path fill="#93878d" d="M188 229h5v5h-5zM311 229h5v5h-5z"/><path fill="#e1cfb7" d="M219 229h85v5h-85zM753 244h1v5h-1zM806 244h1v5h-1z"/><path fill="#99877b" d="M335 229h54v5h-54zM690 164h8v5h-8zM824 189h3v5h-3zM86 550h94v5h-94zM325 550h93v5h-93z"/><path fill="#7b818d" d="M190 234h3v5h-3z"/><path fill="#b7ab99" d="M313 239h4v5h-4z"/><path fill="#aba59f" d="M323 239h2v5h-2zM837 219h1v5h-1zM755 244h1v5h-1zM302 660h4v5h-4z"/><path fill="#cfc3b7" d="M169 244h3v5h-3z"/><path fill="#bdab99" d="M175 244h2v5h-2zM266 570h3v5h-3z"/><path fill="#878793" d="M324 244h2v5h-2zM191 254h3v5h-3zM756 244h2v5h-2zM221 655h4v5h-4zM279 655h4v5h-4z"/><path fill="#edc993" d="M330 244h2v5h-2zM240 600h1v5h-1zM263 600h1v5h-1zM241 615h1v5h-1zM262 615h1v5h-1z"/><path fill="#dbc9bd" d="M332 244h2v5h-2z"/><path fill="#c3b7b7" d="M334 244h1v5h-1z"/><path fill="#f9edc9" d="M335 244h4v5h-4zM241 645h1v5h-1zM262 645h1v5h-1z"/><path fill="#f3d599" d="M339 244h3v5h-3z"/><path fill="#edc38d" d="M164 249h5v5h-5z"/><path fill="#6f7b93" d="M169 249h3v5h-3zM199 530h7v5h-7zM194 690h6v5h-6zM304 690h7v5h-7z"/><path fill="#93999f" d="M172 249h3v5h-3zM204 525h9v5h-9z"/><path fill="#aba599" d="M175 249h19v5h-19z"/><path fill="#81879f" d="M194 249h116v5h-116z"/><path fill="#878d9f" d="M330 249h3v5h-3z"/><path fill="#edc387" d="M335 249h6v5h-6z"/><path fill="#c39963" d="M341 249h77v5h-77zM849 219h97v5h-97zM86 555h87v5h-87zM259 605h159v5h-159zM258 610h160v5h-160z"/><path fill="#817b8d" d="M86 254h83v5h-83zM335 254h83v5h-83zM614 89h161v5h-161zM783 89h163v5h-163zM806 234h2v5h-2zM614 264h162v5h-162zM783 264h163v5h-163zM223 585h1v5h-1zM280 585h1v5h-1z"/><path fill="#b19f8d" d="M194 254h22v5h-22z"/><path fill="#7b879f" d="M216 254h68v5h-68z"/><path fill="#ab9f93" d="M284 254h26v5h-26zM753 239h1v5h-1z"/><path fill="#697b99" d="M333 259h2v5h-2z"/><path fill="#6981a5" d="M171 264h165v5h-165z"/><path fill="#45638d" d="M195 269h140v5h-140z"/><path fill="#335781" d="M169 274h166v5h-166z"/><path fill="#51699f" d="M614 79h162v5h-162zM776 79h170v5h-170zM777 274h169v5h-169zM223 580h1v5h-1z"/><path fill="#818dab" d="M764 84h13v5h-13zM764 269h34v5h-34z"/><path fill="#6375a5" d="M777 84h8v5h-8z"/><path fill="#8187ab" d="M785 84h13v5h-13z"/><path fill="#9399ab" d="M775 89h2v5h-2z"/><path fill="#b1b7cf" d="M777 89h6v5h-6zM781 94h1v5h-1z"/><path fill="#9999b1" d="M776 94h1v5h-1zM776 264h1v5h-1z"/><path fill="#cfcfe1" d="M777 94h1v5h-1z"/><path fill="#a5b1c9" d="M778 94h1v5h-1z"/><path fill="#939fbd" d="M779 94h2v5h-2z"/><path fill="#c9cfe1" d="M782 94h1v5h-1zM783 254h1v5h-1z"/><path fill="#8d8da5" d="M783 94h1v5h-1z"/><path fill="#b7c3db" d="M775 99h2v5h-2z"/><path fill="#5d7ba5" d="M782 99h1v5h-1zM190 515h127v5h-127zM183 700h140v5h-140z"/><path fill="#c9cfe7" d="M783 99h1v5h-1z"/><path fill="#a5b1cf" d="M784 99h1v5h-1zM781 259h1v5h-1z"/><path fill="#9f8775" d="M614 104h139v5h-139zM811 109h135v5h-135zM844 144h1v5h-1zM699 159h2v5h-2zM812 244h134v5h-134zM213 585h2v5h-2zM221 590h5v5h-5z"/><path fill="#c9a57b" d="M753 104h5v5h-5zM752 114h1v5h-1z"/><path fill="#e7c399" d="M758 104h7v5h-7zM847 134h1v5h-1z"/><path fill="#cfb187" d="M765 104h11v5h-11zM784 104h10v5h-10z"/><path fill="#e1bd93" d="M794 104h10v5h-10z"/><path fill="#a58775" d="M804 104h142v5h-142zM614 114h115v5h-115zM697 194h3v5h-3zM614 249h137v5h-137zM810 249h136v5h-136zM214 630h2v5h-2z"/><path fill="#998775" d="M614 109h126v5h-126zM614 244h122v5h-122zM86 645h108v5h-108zM308 645h110v5h-110z"/><path fill="#d5ab6f" d="M747 109h2v5h-2z"/><path fill="#edcfa5" d="M749 109h1v5h-1zM721 129h4v5h-4zM711 219h1v5h-1zM838 224h3v5h-3z"/><path fill="#f3e7c9" d="M750 109h5v5h-5z"/><path fill="#cfc3b1" d="M755 109h1v5h-1zM837 134h1v5h-1z"/><path fill="#b1abab" d="M756 109h2v5h-2zM802 109h2v5h-2zM321 665h3v5h-3z"/><path fill="#878d99" d="M758 109h2v5h-2zM270 680h15v5h-15z"/><path fill="#8d8d9f" d="M800 109h2v5h-2zM276 540h11v5h-11z"/><path fill="#d5c9b7" d="M804 109h1v5h-1z"/><path fill="#d5b181" d="M747 114h1v5h-1zM820 164h4v5h-4z"/><path fill="#e7d5bd" d="M748 114h2v5h-2zM317 555h5v5h-5z"/><path fill="#8d8787" d="M753 114h1v5h-1z"/><path fill="#998d87" d="M806 114h1v5h-1z"/><path fill="#d5ab7b" d="M807 114h1v5h-1zM237 645h2v5h-2z"/><path fill="#f3e7cf" d="M809 114h2v5h-2z"/><path fill="#dbc9b1" d="M811 114h1v5h-1z"/><path fill="#b18d6f" d="M614 119h127v5h-127zM819 119h127v5h-127zM863 174h83v5h-83zM863 179h83v5h-83zM232 585h1v5h-1zM271 585h1v5h-1zM224 630h1v5h-1zM279 630h1v5h-1z"/><path fill="#877b7b" d="M741 119h2v5h-2z"/><path fill="#636f87" d="M743 119h2v5h-2zM815 119h2v5h-2zM293 580h2v5h-2z"/><path fill="#9f9993" d="M752 119h2v5h-2zM804 234h2v5h-2z"/><path fill="#3f6393" d="M811 119h4v5h-4zM317 515h21v5h-21zM172 700h11v5h-11z"/><path fill="#8d817b" d="M817 119h2v5h-2z"/><path fill="#f3d5b1" d="M759 124h40v5h-40z"/><path fill="#9f9999" d="M811 124h8v5h-8zM815 224h7v5h-7zM172 685h20v5h-20z"/><path fill="#e1b781" d="M718 129h3v5h-3zM739 189h4v5h-4zM817 189h4v5h-4zM710 219h1v5h-1zM716 224h3v5h-3z"/><path fill="#e1b787" d="M711 134h1v5h-1z"/><path fill="#edc99f" d="M712 134h1v5h-1zM848 219h1v5h-1z"/><path fill="#cfbdb1" d="M722 134h1v5h-1zM810 239h1v5h-1z"/><path fill="#99999f" d="M834 134h2v5h-2zM234 545h6v5h-6zM265 545h5v5h-5zM287 545h6v5h-6zM207 550h6v5h-6z"/><path fill="#b7b1ab" d="M836 134h1v5h-1zM299 655h4v5h-4z"/><path fill="#e7b775" d="M705 139h3v5h-3z"/><path fill="#f3d59f" d="M715 139h1v5h-1zM851 139h1v5h-1z"/><path fill="#d5b787" d="M716 139h1v5h-1zM807 239h1v5h-1z"/><path fill="#878181" d="M718 139h1v5h-1zM854 154h1v5h-1zM855 199h1v5h-1z"/><path fill="#696f87" d="M719 139h1v5h-1zM286 585h2v5h-2z"/><path fill="#6f7587" d="M840 139h1v5h-1zM841 214h1v5h-1zM741 234h2v5h-2zM817 234h2v5h-2z"/><path fill="#b79f81" d="M842 139h1v5h-1zM243 595h1v5h-1zM260 595h1v5h-1z"/><path fill="#dbb78d" d="M843 139h1v5h-1zM233 595h2v5h-2zM269 595h2v5h-2z"/><path fill="#fff3d5" d="M845 139h1v5h-1zM853 144h1v5h-1zM799 174h2v5h-2zM802 184h2v5h-2zM226 585h1v5h-1zM277 585h1v5h-1z"/><path fill="#f9edcf" d="M850 139h1v5h-1zM811 189h3v5h-3zM846 219h1v5h-1zM807 244h1v5h-1zM237 575h6v5h-6zM235 640h6v5h-6z"/><path fill="#cf9f69" d="M714 144h1v5h-1zM729 229h6v5h-6z"/><path fill="#f3cf8d" d="M703 149h2v5h-2zM754 179h3v5h-3zM806 184h3v5h-3zM855 209h3v5h-3z"/><path fill="#bd9f87" d="M720 149h2v5h-2zM724 194h4v5h-4z"/><path fill="#a59381" d="M836 149h3v5h-3z"/><path fill="#9f8d7b" d="M704 154h1v5h-1z"/><path fill="#dbc39f" d="M714 154h3v5h-3zM732 199h4v5h-4zM841 199h3v5h-3zM719 204h3v5h-3zM237 570h3v5h-3zM270 640h2v5h-2z"/><path fill="#e1c3a5" d="M827 154h5v5h-5z"/><path fill="#ab8d75" d="M855 154h1v5h-1zM856 199h1v5h-1z"/><path fill="#f9e7cf" d="M815 159h5v5h-5zM241 570h22v5h-22zM261 575h7v5h-7zM263 640h7v5h-7z"/><path fill="#b79975" d="M733 164h4v5h-4z"/><path fill="#e1bd87" d="M737 164h4v5h-4z"/><path fill="#f3dbb1" d="M741 164h3v5h-3zM240 570h1v5h-1zM241 600h1v5h-1zM262 600h1v5h-1z"/><path fill="#f3e1c9" d="M761 164h37v5h-37z"/><path fill="#edcf9f" d="M817 164h3v5h-3z"/><path fill="#f3c987" d="M753 174h3v5h-3zM702 209h2v5h-2z"/><path fill="#e1ab63" d="M807 174h7v5h-7zM243 610h2v5h-2z"/><path fill="#f3c387" d="M803 179h5v5h-5z"/><path fill="#b7936f" d="M735 189h4v5h-4z"/><path fill="#f3d5a5" d="M814 189h3v5h-3z"/><path fill="#bd936f" d="M821 189h3v5h-3zM277 590h2v5h-2z"/><path fill="#e1c99f" d="M728 194h4v5h-4z"/><path fill="#938787" d="M758 194h14v5h-14zM842 214h1v5h-1z"/><path fill="#a58d75" d="M703 199h1v5h-1zM225 635h1v5h-1zM278 635h1v5h-1z"/><path fill="#b19987" d="M819 199h4v5h-4z"/><path fill="#e7c9ab" d="M706 204h5v5h-5z"/><path fill="#cfa56f" d="M714 209h1v5h-1z"/><path fill="#a58d7b" d="M715 209h1v5h-1z"/><path fill="#b1937b" d="M844 209h1v5h-1zM226 580h1v5h-1zM277 580h1v5h-1z"/><path fill="#dbab75" d="M845 209h1v5h-1z"/><path fill="#f9dbb1" d="M714 214h1v5h-1z"/><path fill="#dbb787" d="M715 214h1v5h-1z"/><path fill="#e7c38d" d="M844 214h1v5h-1zM811 244h1v5h-1z"/><path fill="#dbc9ab" d="M720 219h1v5h-1zM201 560h12v5h-12zM220 565h12v5h-12zM271 565h13v5h-13zM224 650h12v5h-12zM287 655h12v5h-12zM183 660h14v5h-14zM306 660h15v5h-15z"/><path fill="#edcfab" d="M719 224h3v5h-3z"/><path fill="#c9b7ab" d="M822 224h6v5h-6z"/><path fill="#dbb17b" d="M841 224h4v5h-4z"/><path fill="#b7a599" d="M735 229h11v5h-11z"/><path fill="#bdb1a5" d="M812 229h8v5h-8zM811 239h1v5h-1z"/><path fill="#ab9993" d="M820 229h4v5h-4z"/><path fill="#a5876f" d="M614 239h116v5h-116z"/><path fill="#bdb1ab" d="M748 239h1v5h-1zM170 535h7v5h-7zM279 650h4v5h-4zM180 665h10v5h-10z"/><path fill="#d5c3b1" d="M749 239h1v5h-1z"/><path fill="#cfb18d" d="M752 239h1v5h-1zM227 580h1v5h-1zM276 580h1v5h-1zM180 660h3v5h-3zM321 660h3v5h-3z"/><path fill="#f9d5a5" d="M808 239h1v5h-1zM246 610h1v5h-1zM257 610h1v5h-1z"/><path fill="#edc999" d="M748 244h1v5h-1z"/><path fill="#c3b7ab" d="M754 244h1v5h-1zM265 650h5v5h-5z"/><path fill="#c9bdab" d="M805 244h1v5h-1z"/><path fill="#c99f75" d="M751 249h3v5h-3zM805 249h5v5h-5zM275 625h3v5h-3z"/><path fill="#b7aba5" d="M777 249h7v5h-7zM197 560h4v5h-4zM232 565h4v5h-4zM220 650h4v5h-4zM236 650h4v5h-4zM197 660h4v5h-4z"/><path fill="#c9ab8d" d="M784 249h11v5h-11zM249 615h1v5h-1zM254 615h1v5h-1z"/><path fill="#8d7b81" d="M614 254h157v5h-157zM790 254h156v5h-156z"/><path fill="#bdc3d5" d="M775 254h2v5h-2z"/><path fill="#abb1c9" d="M784 254h1v5h-1zM777 264h2v5h-2z"/><path fill="#a5a5bd" d="M776 259h1v5h-1z"/><path fill="#bdc9db" d="M777 259h1v5h-1zM782 259h1v5h-1z"/><path fill="#939fc3" d="M778 259h3v5h-3z"/><path fill="#999fb7" d="M783 259h1v5h-1z"/><path fill="#99a5bd" d="M779 264h3v5h-3z"/><path fill="#b7bdcf" d="M782 264h1v5h-1z"/><path fill="#6f7599" d="M614 269h150v5h-150zM798 269h148v5h-148z"/><path fill="#3f5d99" d="M758 294h188v5h-188z"/><path fill="#5d75a5" d="M86 515h84v5h-84zM338 515h80v5h-80z"/><path fill="#879fbd" d="M168 520h21v5h-21zM314 520h21v5h-21z"/><path fill="#57759f" d="M189 520h125v5h-125z"/><path fill="#637593" d="M197 525h7v5h-7zM303 685h6v5h-6z"/><path fill="#a5a5a5" d="M213 525h84v5h-84zM200 665h5v5h-5z"/><path fill="#7b8199" d="M297 525h7v5h-7z"/><path fill="#697b93" d="M327 530h5v5h-5z"/><path fill="#b18d75" d="M158 535h12v5h-12z"/><path fill="#b1a593" d="M177 535h28v5h-28z"/><path fill="#8d8d99" d="M205 535h13v5h-13z"/><path fill="#999999" d="M289 535h17v5h-17zM261 650h4v5h-4z"/><path fill="#b7a593" d="M306 535h23v5h-23zM270 540h6v5h-6z"/><path fill="#bdb7b1" d="M329 535h5v5h-5z"/><path fill="#5d6f9f" d="M86 540h83v5h-83zM341 540h77v5h-77z"/><path fill="#8d939f" d="M219 540h9v5h-9zM309 685h6v5h-6z"/><path fill="#e1bd8d" d="M233 540h7v5h-7zM264 540h6v5h-6zM264 645h2v5h-2z"/><path fill="#e7d5b7" d="M240 540h24v5h-24z"/><path fill="#93939f" d="M210 545h6v5h-6zM296 665h5v5h-5zM205 670h6v5h-6zM229 670h6v5h-6zM269 670h6v5h-6zM293 670h6v5h-6zM329 680h5v5h-5z"/><path fill="#516393" d="M246 545h14v5h-14z"/><path fill="#8d9399" d="M180 550h8v5h-8z"/><path fill="#dbab6f" d="M173 555h7v5h-7z"/><path fill="#c39969" d="M324 555h94v5h-94z"/><path fill="#938d93" d="M193 560h4v5h-4zM236 565h4v5h-4zM303 655h4v5h-4z"/><path fill="#b1aba5" d="M213 560h4v5h-4zM216 565h4v5h-4zM284 565h4v5h-4zM217 655h4v5h-4zM283 655h4v5h-4z"/><path fill="#8d8793" d="M217 560h4v5h-4zM212 565h4v5h-4zM288 565h4v5h-4zM216 650h4v5h-4z"/><path fill="#b1a5a5" d="M304 560h4v5h-4zM267 565h4v5h-4z"/><path fill="#87818d" d="M231 570h3v5h-3zM298 660h4v5h-4zM224 675h4v5h-4z"/><path fill="#998d93" d="M269 570h3v5h-3z"/><path fill="#877b81" d="M199 575h3v5h-3zM216 630h2v5h-2zM286 630h2v5h-2z"/><path fill="#bda58d" d="M232 575h2v5h-2zM270 575h2v5h-2zM272 640h1v5h-1z"/><path fill="#d5bdab" d="M243 575h18v5h-18z"/><path fill="#757587" d="M208 580h2v5h-2zM245 650h16v5h-16z"/><path fill="#7b7581" d="M215 585h2v5h-2z"/><path fill="#fff9e1" d="M229 585h1v5h-1zM274 585h1v5h-1zM229 630h1v5h-1zM274 630h1v5h-1z"/><path fill="#d5a56f" d="M231 585h1v5h-1zM272 585h1v5h-1z"/><path fill="#c39f75" d="M226 590h1v5h-1z"/><path fill="#d5b18d" d="M227 590h1v5h-1zM276 590h1v5h-1z"/><path fill="#f9eddb" d="M230 590h4v5h-4zM251 605h3v5h-3zM269 625h4v5h-4z"/><path fill="#cfb793" d="M242 595h1v5h-1zM261 595h1v5h-1z"/><path fill="#e1b775" d="M239 600h1v5h-1z"/><path fill="#c3ab87" d="M248 600h1v5h-1zM255 600h1v5h-1z"/><path fill="#ab937b" d="M249 600h1v5h-1zM254 600h1v5h-1z"/><path fill="#f3dbab" d="M242 615h1v5h-1zM261 615h1v5h-1zM240 645h1v5h-1zM263 645h1v5h-1z"/><path fill="#cfab7b" d="M227 625h2v5h-2z"/><path fill="#f3cf9f" d="M230 630h1v5h-1zM273 630h1v5h-1z"/><path fill="#b7997b" d="M232 630h1v5h-1zM271 630h1v5h-1z"/><path fill="#6f6f87" d="M210 635h2v5h-2z"/><path fill="#e7d5b1" d="M233 640h2v5h-2z"/><path fill="#ab8d7b" d="M235 645h2v5h-2z"/><path fill="#ab998d" d="M179 665h1v5h-1zM228 675h4v5h-4zM272 675h4v5h-4z"/><path fill="#455d93" d="M241 670h23v5h-23z"/><path fill="#57698d" d="M236 680h34v5h-34z"/><path fill="#758199" d="M192 685h6v5h-6z"/><path fill="#a59f99" d="M315 685h15v5h-15z"/><path fill="#758799" d="M237 690h35v5h-35z"/><path fill="#999993" d="M272 690h32v5h-32z"/><path fill="#8799bd" d="M168 695h15v5h-15z"/><path fill="#6981ab" d="M183 695h140v5h-140z"/><path fill="#879fc3" d="M323 695h12v5h-12z"/><path fill="#576fa5" d="M86 700h86v5h-86z"/><path fill="#516fa5" d="M323 700h95v5h-95z"/><path fill="#5169a5" d="M86 705h87v5h-87zM337 705h81v5h-81z"/>
<rect x="79.5" y="7.5" width="345" height="345" fill="none" stroke="#333" stroke-width="1.1"/>
<path d="M86.3 7.5v4.7M86.3 352.5v-4.7M102.87 7.5v2.8M102.87 352.5v-2.8M119.44 7.5v2.8M119.44 352.5v-2.8M136.01 7.5v2.8M136.01 352.5v-2.8M152.58 7.5v2.8M152.58 352.5v-2.8M169.15 7.5v4.7M169.15 352.5v-4.7M185.72 7.5v2.8M185.72 352.5v-2.8M202.29 7.5v2.8M202.29 352.5v-2.8M218.86 7.5v2.8M218.86 352.5v-2.8M235.43 7.5v2.8M235.43 352.5v-2.8M252 7.5v4.7M252 352.5v-4.7M268.57 7.5v2.8M268.57 352.5v-2.8M285.14 7.5v2.8M285.14 352.5v-2.8M301.71 7.5v2.8M301.71 352.5v-2.8M318.28 7.5v2.8M318.28 352.5v-2.8M334.85 7.5v4.7M334.85 352.5v-4.7M351.42 7.5v2.8M351.42 352.5v-2.8M367.99 7.5v2.8M367.99 352.5v-2.8M384.56 7.5v2.8M384.56 352.5v-2.8M401.13 7.5v2.8M401.13 352.5v-2.8M417.7 7.5v4.7M417.7 352.5v-4.7M79.5 344.88h3M424.5 344.88h-3M79.5 328.34h3M424.5 328.34h-3M79.5 311.8h4.7M424.5 311.8h-4.7M79.5 295.26h3M424.5 295.26h-3M79.5 278.73h3M424.5 278.73h-3M79.5 262.19h3M424.5 262.19h-3M79.5 245.65h4.7M424.5 245.65h-4.7M79.5 229.11h3M424.5 229.11h-3M79.5 212.57h3M424.5 212.57h-3M79.5 196.04h3M424.5 196.04h-3M79.5 179.5h4.7M424.5 179.5h-4.7M79.5 162.96h3M424.5 162.96h-3M79.5 146.43h3M424.5 146.43h-3M79.5 129.89h3M424.5 129.89h-3M79.5 113.35h4.7M424.5 113.35h-4.7M79.5 96.81h3M424.5 96.81h-3M79.5 80.27h3M424.5 80.27h-3M79.5 63.74h3M424.5 63.74h-3M79.5 47.2h4.7M424.5 47.2h-4.7M79.5 30.66h3M424.5 30.66h-3M79.5 14.12h3M424.5 14.12h-3" stroke="#333" stroke-width="1.1" fill="none"/>
<text x="75.2" y="54.1" text-anchor="end" class="tl">0.4</text>
<text x="75.2" y="120.25" text-anchor="end" class="tl">0.2</text>
<text x="75.2" y="186.4" text-anchor="end" class="tl">0.0</text>
<text x="75.2" y="252.55" text-anchor="end" class="tl">−0.2</text>
<text x="75.2" y="318.7" text-anchor="end" class="tl">−0.4</text>
<text x="86.3" y="375.5" text-anchor="middle" class="tl">−2</text>
<text x="169.15" y="375.5" text-anchor="middle" class="tl">−1</text>
<text x="252" y="375.5" text-anchor="middle" class="tl">0</text>
<text x="334.85" y="375.5" text-anchor="middle" class="tl">1</text>
<text x="417.7" y="375.5" text-anchor="middle" class="tl">2</text>
<text y="407.4" class="ax" font-size="32"><tspan x="208" font-style="italic">e</tspan><tspan x="221.5" font-style="italic">V</tspan><tspan x="242" font-weight="bold">/</tspan><tspan x="254.5">Δ</tspan></text>
<text transform="translate(29.8 199.6) rotate(-90)" class="ax" font-size="36" font-style="italic">θ</text><text transform="translate(29.8 180.4) rotate(-90)" class="ax" font-size="34" font-weight="bold">/</text><text transform="translate(29.8 167.8) rotate(-90)" class="ax" font-size="34" font-style="italic">π</text>
<rect x="607.5" y="7.5" width="344" height="345" fill="none" stroke="#333" stroke-width="1.1"/>
<path d="M614.2 7.5v4.7M614.2 352.5v-4.7M630.77 7.5v2.8M630.77 352.5v-2.8M647.34 7.5v2.8M647.34 352.5v-2.8M663.91 7.5v2.8M663.91 352.5v-2.8M680.48 7.5v2.8M680.48 352.5v-2.8M697.05 7.5v4.7M697.05 352.5v-4.7M713.62 7.5v2.8M713.62 352.5v-2.8M730.19 7.5v2.8M730.19 352.5v-2.8M746.76 7.5v2.8M746.76 352.5v-2.8M763.33 7.5v2.8M763.33 352.5v-2.8M779.9 7.5v4.7M779.9 352.5v-4.7M796.47 7.5v2.8M796.47 352.5v-2.8M813.04 7.5v2.8M813.04 352.5v-2.8M829.61 7.5v2.8M829.61 352.5v-2.8M846.18 7.5v2.8M846.18 352.5v-2.8M862.75 7.5v4.7M862.75 352.5v-4.7M879.32 7.5v2.8M879.32 352.5v-2.8M895.89 7.5v2.8M895.89 352.5v-2.8M912.46 7.5v2.8M912.46 352.5v-2.8M929.03 7.5v2.8M929.03 352.5v-2.8M945.6 7.5v4.7M945.6 352.5v-4.7M607.5 344.88h3M951.5 344.88h-3M607.5 328.34h3M951.5 328.34h-3M607.5 311.8h4.7M951.5 311.8h-4.7M607.5 295.26h3M951.5 295.26h-3M607.5 278.73h3M951.5 278.73h-3M607.5 262.19h3M951.5 262.19h-3M607.5 245.65h4.7M951.5 245.65h-4.7M607.5 229.11h3M951.5 229.11h-3M607.5 212.57h3M951.5 212.57h-3M607.5 196.04h3M951.5 196.04h-3M607.5 179.5h4.7M951.5 179.5h-4.7M607.5 162.96h3M951.5 162.96h-3M607.5 146.43h3M951.5 146.43h-3M607.5 129.89h3M951.5 129.89h-3M607.5 113.35h4.7M951.5 113.35h-4.7M607.5 96.81h3M951.5 96.81h-3M607.5 80.27h3M951.5 80.27h-3M607.5 63.74h3M951.5 63.74h-3M607.5 47.2h4.7M951.5 47.2h-4.7M607.5 30.66h3M951.5 30.66h-3M607.5 14.12h3M951.5 14.12h-3" stroke="#333" stroke-width="1.1" fill="none"/>
<text x="603.2" y="54.1" text-anchor="end" class="tl">0.4</text>
<text x="603.2" y="120.25" text-anchor="end" class="tl">0.2</text>
<text x="603.2" y="186.4" text-anchor="end" class="tl">0.0</text>
<text x="603.2" y="252.55" text-anchor="end" class="tl">−0.2</text>
<text x="603.2" y="318.7" text-anchor="end" class="tl">−0.4</text>
<text x="614.2" y="375.5" text-anchor="middle" class="tl">−2</text>
<text x="697.05" y="375.5" text-anchor="middle" class="tl">−1</text>
<text x="779.9" y="375.5" text-anchor="middle" class="tl">0</text>
<text x="862.75" y="375.5" text-anchor="middle" class="tl">1</text>
<text x="945.6" y="375.5" text-anchor="middle" class="tl">2</text>
<text y="407.4" class="ax" font-size="32"><tspan x="735.9" font-style="italic">e</tspan><tspan x="749.4" font-style="italic">V</tspan><tspan x="769.9" font-weight="bold">/</tspan><tspan x="782.4">Δ</tspan></text>
<text transform="translate(557.7 199.6) rotate(-90)" class="ax" font-size="36" font-style="italic">θ</text><text transform="translate(557.7 180.4) rotate(-90)" class="ax" font-size="34" font-weight="bold">/</text><text transform="translate(557.7 167.8) rotate(-90)" class="ax" font-size="34" font-style="italic">π</text>
<rect x="79.5" y="438.5" width="345" height="345" fill="none" stroke="#333" stroke-width="1.1"/>
<path d="M86.3 438.5v4.7M86.3 783.5v-4.7M102.87 438.5v2.8M102.87 783.5v-2.8M119.44 438.5v2.8M119.44 783.5v-2.8M136.01 438.5v2.8M136.01 783.5v-2.8M152.58 438.5v2.8M152.58 783.5v-2.8M169.15 438.5v4.7M169.15 783.5v-4.7M185.72 438.5v2.8M185.72 783.5v-2.8M202.29 438.5v2.8M202.29 783.5v-2.8M218.86 438.5v2.8M218.86 783.5v-2.8M235.43 438.5v2.8M235.43 783.5v-2.8M252 438.5v4.7M252 783.5v-4.7M268.57 438.5v2.8M268.57 783.5v-2.8M285.14 438.5v2.8M285.14 783.5v-2.8M301.71 438.5v2.8M301.71 783.5v-2.8M318.28 438.5v2.8M318.28 783.5v-2.8M334.85 438.5v4.7M334.85 783.5v-4.7M351.42 438.5v2.8M351.42 783.5v-2.8M367.99 438.5v2.8M367.99 783.5v-2.8M384.56 438.5v2.8M384.56 783.5v-2.8M401.13 438.5v2.8M401.13 783.5v-2.8M417.7 438.5v4.7M417.7 783.5v-4.7M79.5 775.88h3M424.5 775.88h-3M79.5 759.34h3M424.5 759.34h-3M79.5 742.8h4.7M424.5 742.8h-4.7M79.5 726.26h3M424.5 726.26h-3M79.5 709.73h3M424.5 709.73h-3M79.5 693.19h3M424.5 693.19h-3M79.5 676.65h4.7M424.5 676.65h-4.7M79.5 660.11h3M424.5 660.11h-3M79.5 643.58h3M424.5 643.58h-3M79.5 627.04h3M424.5 627.04h-3M79.5 610.5h4.7M424.5 610.5h-4.7M79.5 593.96h3M424.5 593.96h-3M79.5 577.42h3M424.5 577.42h-3M79.5 560.89h3M424.5 560.89h-3M79.5 544.35h4.7M424.5 544.35h-4.7M79.5 527.81h3M424.5 527.81h-3M79.5 511.27h3M424.5 511.27h-3M79.5 494.74h3M424.5 494.74h-3M79.5 478.2h4.7M424.5 478.2h-4.7M79.5 461.66h3M424.5 461.66h-3M79.5 445.12h3M424.5 445.12h-3" stroke="#333" stroke-width="1.1" fill="none"/>
<text x="75.2" y="485.1" text-anchor="end" class="tl">0.4</text>
<text x="75.2" y="551.25" text-anchor="end" class="tl">0.2</text>
<text x="75.2" y="617.4" text-anchor="end" class="tl">0.0</text>
<text x="75.2" y="683.55" text-anchor="end" class="tl">−0.2</text>
<text x="75.2" y="749.7" text-anchor="end" class="tl">−0.4</text>
<text x="86.3" y="806.5" text-anchor="middle" class="tl">−2</text>
<text x="169.15" y="806.5" text-anchor="middle" class="tl">−1</text>
<text x="252" y="806.5" text-anchor="middle" class="tl">0</text>
<text x="334.85" y="806.5" text-anchor="middle" class="tl">1</text>
<text x="417.7" y="806.5" text-anchor="middle" class="tl">2</text>
<text y="838.4" class="ax" font-size="32"><tspan x="208" font-style="italic">e</tspan><tspan x="221.5" font-style="italic">V</tspan><tspan x="242" font-weight="bold">/</tspan><tspan x="254.5">Δ</tspan></text>
<text transform="translate(29.8 630.6) rotate(-90)" class="ax" font-size="36" font-style="italic">θ</text><text transform="translate(29.8 611.4) rotate(-90)" class="ax" font-size="34" font-weight="bold">/</text><text transform="translate(29.8 598.8) rotate(-90)" class="ax" font-size="34" font-style="italic">π</text>
<text x="0" y="26.6" class="pl" style="letter-spacing:-2.6px">(a)</text>
<text x="526.4" y="26.6" class="pl">(b)</text>
<text x="0" y="462.9" class="pl">(c)</text>
<text x="526.4" y="462.9" class="pl">(d)</text>
<text x="477" y="358" class="cl">0</text>
<text x="477" y="292.2" class="cl">0.2</text>
<text x="477" y="226.4" class="cl">0.4</text>
<text x="477" y="160.6" class="cl">0.6</text>
<text x="477" y="94.8" class="cl">0.8</text>
<text x="444.5" y="20.6" class="ct"><tspan font-style="italic">σ</tspan><tspan dx="0.5">(</tspan><tspan font-style="italic" dx="0">θ</tspan><tspan dx="0.5">)</tspan></text>
<text x="999" y="357.7" class="cl">0</text>
<text x="999" y="295.9" class="cl">0.2</text>
<text x="999" y="234.1" class="cl">0.4</text>
<text x="999" y="172.3" class="cl">0.6</text>
<text x="999" y="110.5" class="cl">0.8</text>
<text x="966.5" y="20.6" class="ct"><tspan font-style="italic">σ</tspan><tspan dx="0.5">(</tspan><tspan font-style="italic" dx="0">θ</tspan><tspan dx="0.5">)</tspan></text>
<text x="477" y="790.4" class="cl">0</text>
<text x="477" y="735.6" class="cl">0.2</text>
<text x="477" y="680.8" class="cl">0.4</text>
<text x="477" y="626" class="cl">0.6</text>
<text x="477" y="571.2" class="cl">0.8</text>
<text x="477" y="516.4" class="cl">1.0</text>
<text x="444.5" y="453" class="ct"><tspan font-style="italic">σ</tspan><tspan dx="0.5">(</tspan><tspan font-style="italic" dx="0">θ</tspan><tspan dx="0.5">)</tspan></text>
<rect x="632.2" y="443.8" width="336.9" height="336.9" fill="none" stroke="#111" stroke-width="1.6"/>
<path d="M632.2 780.7v-5.5M632.2 443.8v5.5M674.31 780.7v-3.5M674.31 443.8v3.5M716.43 780.7v-5.5M716.43 443.8v5.5M758.54 780.7v-3.5M758.54 443.8v3.5M800.65 780.7v-5.5M800.65 443.8v5.5M842.76 780.7v-3.5M842.76 443.8v3.5M884.88 780.7v-5.5M884.88 443.8v5.5M926.99 780.7v-3.5M926.99 443.8v3.5M969.1 780.7v-5.5M969.1 443.8v5.5M632.2 724.55h5.5M969.1 724.55h-5.5M632.2 654.36h3.5M969.1 654.36h-3.5M632.2 584.18h5.5M969.1 584.18h-5.5M632.2 513.99h3.5M969.1 513.99h-3.5M632.2 443.8h5.5M969.1 443.8h-5.5" stroke="#111" stroke-width="1.4" fill="none"/>
<text x="625.4" y="450.1" text-anchor="end" class="tl2">1.5</text>
<text x="625.4" y="590.48" text-anchor="end" class="tl2">1.0</text>
<text x="625.4" y="730.85" text-anchor="end" class="tl2">0.5</text>
<text x="632.2" y="804.1" text-anchor="middle" class="tl2">-2</text>
<text x="716.43" y="804.1" text-anchor="middle" class="tl2">-1</text>
<text x="800.65" y="804.1" text-anchor="middle" class="tl2">0</text>
<text x="884.88" y="804.1" text-anchor="middle" class="tl2">1</text>
<text x="969.1" y="804.1" text-anchor="middle" class="tl2">2</text>
<path d="M632.2 585.3 633.04 585.26 633.88 585.22 634.73 585.19 635.57 585.15 636.41 585.11 637.25 585.07 638.1 585.04 638.94 585 639.78 584.96 640.62 584.92 641.46 584.89 642.31 584.85 643.15 584.81 643.99 584.77 644.83 584.74 645.68 584.7 646.52 584.66 647.36 584.62 648.2 584.59 649.05 584.55 649.89 584.51 650.73 584.47 651.57 584.44 652.41 584.4 653.26 584.36 654.1 584.32 654.94 584.29 655.78 584.25 656.63 584.21 657.47 584.18 658.31 584.12 659.15 584.06 659.99 584.01 660.84 583.95 661.68 583.89 662.52 583.84 663.36 583.78 664.21 583.73 665.05 583.67 665.89 583.61 666.73 583.56 667.57 583.5 668.42 583.45 669.26 583.39 670.1 583.33 670.94 583.28 671.79 583.22 672.63 583.16 673.47 583.11 674.31 583.05 675.15 583 676 582.94 676.84 582.88 677.68 582.83 678.52 582.77 679.37 582.72 680.21 582.66 681.05 582.6 681.89 582.55 682.74 582.49 683.58 582.39 684.42 582.29 685.26 582.2 686.1 582.1 686.95 582 687.79 581.9 688.63 581.8 689.47 581.7 690.32 581.61 691.16 581.51 692 581.41 692.84 581.31 693.68 581.21 694.53 581.11 695.37 581.02 696.21 580.92 697.05 580.82 697.9 580.72 698.74 580.62 699.58 580.53 700.42 580.43 701.26 580.34 702.11 580.24 702.95 580.15 703.79 580.06 704.63 579.96 705.48 579.87 706.32 579.78 707.16 579.68 708 579.59 708.84 579.5 709.69 579.4 710.53 579.68 711.37 579.96 712.21 580.24 713.06 580.53 713.9 580.81 714.74 582.68 715.58 584.64 716.43 586.98 717.27 647.27 718.11 648.13 718.95 648.99 719.79 649.85 720.64 650.71 721.48 651.57 722.32 652.43 723.16 653.29 724.01 653.92 724.85 654.21 725.69 654.51 726.53 654.81 727.37 655.1 728.22 655.4 729.06 655.69 729.9 655.99 730.74 656.28 731.59 656.58 732.43 656.87 733.27 657.17 734.11 657.04 734.95 656.92 735.8 656.79 736.64 656.67 737.48 656.54 738.32 656.42 739.17 656.29 740.01 656.17 740.85 656.04 741.69 655.92 742.53 655.79 743.38 655.37 744.22 654.86 745.06 654.36 745.9 653.86 746.75 653.36 747.59 652.86 748.43 652.36 749.27 651.86 750.12 651.35 750.96 650.85 751.8 650.35 752.64 649.38 753.48 648.11 754.33 646.83 755.17 645.55 756.01 644.27 756.85 642.99 757.7 641.71 758.54 640.44 759.38 639.16 760.22 637.88 761.06 636.6 761.91 634.91 762.75 632.6 763.59 630.29 764.43 627.98 765.28 625.67 766.12 623.36 766.96 621.05 767.8 618.73 768.64 616.42 769.49 614.11 770.33 611.8 771.17 609.33 772.01 605.38 772.86 601.44 773.7 597.5 774.54 593.55 775.38 589.61 776.22 585.67 777.07 581.72 777.91 577.78 778.75 573.68 779.59 569.52 780.44 565.36 781.28 561.2 782.12 557.03 782.96 552.87 783.81 548.71 784.65 544.55 785.49 540.44 786.33 536.53 787.17 532.62 788.02 528.71 788.86 524.8 789.7 520.89 790.54 516.98 791.39 513.07 792.23 509.15 793.07 506.45 793.91 504.04 794.75 501.63 795.6 499.23 796.44 496.82 797.28 494.42 798.12 492.01 798.97 491.13 799.81 490.63 800.65 490.12 801.49 490.63 802.33 491.13 803.18 492.01 804.02 494.42 804.86 496.82 805.7 499.23 806.55 501.63 807.39 504.04 808.23 506.45 809.07 509.15 809.91 513.07 810.76 516.98 811.6 520.89 812.44 524.8 813.28 528.71 814.13 532.62 814.97 536.53 815.81 540.44 816.65 544.55 817.5 548.71 818.34 552.87 819.18 557.03 820.02 561.2 820.86 565.36 821.71 569.52 822.55 573.68 823.39 577.78 824.23 581.72 825.08 585.67 825.92 589.61 826.76 593.55 827.6 597.5 828.44 601.44 829.29 605.38 830.13 609.33 830.97 611.8 831.81 614.11 832.66 616.42 833.5 618.73 834.34 621.05 835.18 623.36 836.02 625.67 836.87 627.98 837.71 630.29 838.55 632.6 839.39 634.91 840.24 636.6 841.08 637.88 841.92 639.16 842.76 640.44 843.6 641.71 844.45 642.99 845.29 644.27 846.13 645.55 846.97 646.83 847.82 648.11 848.66 649.38 849.5 650.35 850.34 650.85 851.19 651.35 852.03 651.86 852.87 652.36 853.71 652.86 854.55 653.36 855.4 653.86 856.24 654.36 857.08 654.86 857.92 655.37 858.77 655.79 859.61 655.92 860.45 656.04 861.29 656.17 862.13 656.29 862.98 656.42 863.82 656.54 864.66 656.67 865.5 656.79 866.35 656.92 867.19 657.04 868.03 657.17 868.87 656.87 869.71 656.58 870.56 656.28 871.4 655.99 872.24 655.69 873.08 655.4 873.93 655.1 874.77 654.81 875.61 654.51 876.45 654.21 877.29 653.92 878.14 653.29 878.98 652.43 879.82 651.57 880.66 650.71 881.51 649.85 882.35 648.99 883.19 648.13 884.03 647.27 884.88 586.98 885.72 584.64 886.56 582.68 887.4 580.81 888.24 580.53 889.09 580.24 889.93 579.96 890.77 579.68 891.61 579.4 892.46 579.5 893.3 579.59 894.14 579.68 894.98 579.78 895.82 579.87 896.67 579.96 897.51 580.06 898.35 580.15 899.19 580.24 900.04 580.34 900.88 580.43 901.72 580.53 902.56 580.62 903.4 580.72 904.25 580.82 905.09 580.92 905.93 581.02 906.77 581.11 907.62 581.21 908.46 581.31 909.3 581.41 910.14 581.51 910.98 581.61 911.83 581.7 912.67 581.8 913.51 581.9 914.35 582 915.2 582.1 916.04 582.2 916.88 582.29 917.72 582.39 918.57 582.49 919.41 582.55 920.25 582.6 921.09 582.66 921.93 582.72 922.78 582.77 923.62 582.83 924.46 582.88 925.3 582.94 926.15 583 926.99 583.05 927.83 583.11 928.67 583.16 929.51 583.22 930.36 583.28 931.2 583.33 932.04 583.39 932.88 583.45 933.73 583.5 934.57 583.56 935.41 583.61 936.25 583.67 937.09 583.73 937.94 583.78 938.78 583.84 939.62 583.89 940.46 583.95 941.31 584.01 942.15 584.06 942.99 584.12 943.83 584.18 944.67 584.21 945.52 584.25 946.36 584.29 947.2 584.32 948.04 584.36 948.89 584.4 949.73 584.44 950.57 584.47 951.41 584.51 952.26 584.55 953.1 584.59 953.94 584.62 954.78 584.66 955.62 584.7 956.47 584.74 957.31 584.77 958.15 584.81 958.99 584.85 959.84 584.89 960.68 584.92 961.52 584.96 962.36 585 963.2 585.04 964.05 585.07 964.89 585.11 965.73 585.15 966.57 585.19 967.42 585.22 968.26 585.26 969.1 585.3" fill="none" stroke="#000" stroke-width="1.3"/>
<path d="M629.3 582.4h5.8v5.8h-5.8zM630.14 582.36h5.8v5.8h-5.8zM630.98 582.32h5.8v5.8h-5.8zM631.83 582.29h5.8v5.8h-5.8zM632.67 582.25h5.8v5.8h-5.8zM633.51 582.21h5.8v5.8h-5.8zM634.35 582.17h5.8v5.8h-5.8zM635.2 582.14h5.8v5.8h-5.8zM636.04 582.1h5.8v5.8h-5.8zM636.88 582.06h5.8v5.8h-5.8zM637.72 582.02h5.8v5.8h-5.8zM638.56 581.99h5.8v5.8h-5.8zM639.41 581.95h5.8v5.8h-5.8zM640.25 581.91h5.8v5.8h-5.8zM641.09 581.87h5.8v5.8h-5.8zM641.93 581.84h5.8v5.8h-5.8zM642.78 581.8h5.8v5.8h-5.8zM643.62 581.76h5.8v5.8h-5.8zM644.46 581.72h5.8v5.8h-5.8zM645.3 581.69h5.8v5.8h-5.8zM646.15 581.65h5.8v5.8h-5.8zM646.99 581.61h5.8v5.8h-5.8zM647.83 581.57h5.8v5.8h-5.8zM648.67 581.54h5.8v5.8h-5.8zM649.51 581.5h5.8v5.8h-5.8zM650.36 581.46h5.8v5.8h-5.8zM651.2 581.42h5.8v5.8h-5.8zM652.04 581.39h5.8v5.8h-5.8zM652.88 581.35h5.8v5.8h-5.8zM653.73 581.31h5.8v5.8h-5.8zM654.57 581.28h5.8v5.8h-5.8zM655.41 581.22h5.8v5.8h-5.8zM656.25 581.16h5.8v5.8h-5.8zM657.09 581.11h5.8v5.8h-5.8zM657.94 581.05h5.8v5.8h-5.8zM658.78 580.99h5.8v5.8h-5.8zM659.62 580.94h5.8v5.8h-5.8zM660.46 580.88h5.8v5.8h-5.8zM661.31 580.83h5.8v5.8h-5.8zM662.15 580.77h5.8v5.8h-5.8zM662.99 580.71h5.8v5.8h-5.8zM663.83 580.66h5.8v5.8h-5.8zM664.67 580.6h5.8v5.8h-5.8zM665.52 580.55h5.8v5.8h-5.8zM666.36 580.49h5.8v5.8h-5.8zM667.2 580.43h5.8v5.8h-5.8zM668.04 580.38h5.8v5.8h-5.8zM668.89 580.32h5.8v5.8h-5.8zM669.73 580.26h5.8v5.8h-5.8zM670.57 580.21h5.8v5.8h-5.8zM671.41 580.15h5.8v5.8h-5.8zM672.25 580.1h5.8v5.8h-5.8zM673.1 580.04h5.8v5.8h-5.8zM673.94 579.98h5.8v5.8h-5.8zM674.78 579.93h5.8v5.8h-5.8zM675.62 579.87h5.8v5.8h-5.8zM676.47 579.82h5.8v5.8h-5.8zM677.31 579.76h5.8v5.8h-5.8zM678.15 579.7h5.8v5.8h-5.8zM678.99 579.65h5.8v5.8h-5.8zM679.84 579.59h5.8v5.8h-5.8zM680.68 579.49h5.8v5.8h-5.8zM681.52 579.39h5.8v5.8h-5.8zM682.36 579.3h5.8v5.8h-5.8zM683.2 579.2h5.8v5.8h-5.8zM684.05 579.1h5.8v5.8h-5.8zM684.89 579h5.8v5.8h-5.8zM685.73 578.9h5.8v5.8h-5.8zM686.57 578.8h5.8v5.8h-5.8zM687.42 578.71h5.8v5.8h-5.8zM688.26 578.61h5.8v5.8h-5.8zM689.1 578.51h5.8v5.8h-5.8zM689.94 578.41h5.8v5.8h-5.8zM690.78 578.31h5.8v5.8h-5.8zM691.63 578.21h5.8v5.8h-5.8zM692.47 578.12h5.8v5.8h-5.8zM693.31 578.02h5.8v5.8h-5.8zM694.15 577.92h5.8v5.8h-5.8zM695 577.82h5.8v5.8h-5.8zM695.84 577.72h5.8v5.8h-5.8zM696.68 577.63h5.8v5.8h-5.8zM697.52 577.53h5.8v5.8h-5.8zM698.36 577.44h5.8v5.8h-5.8zM699.21 577.34h5.8v5.8h-5.8zM700.05 577.25h5.8v5.8h-5.8zM700.89 577.16h5.8v5.8h-5.8zM701.73 577.06h5.8v5.8h-5.8zM702.58 576.97h5.8v5.8h-5.8zM703.42 576.88h5.8v5.8h-5.8zM704.26 576.78h5.8v5.8h-5.8zM705.1 576.69h5.8v5.8h-5.8zM705.94 576.6h5.8v5.8h-5.8zM706.79 576.5h5.8v5.8h-5.8zM707.63 576.78h5.8v5.8h-5.8zM708.47 577.06h5.8v5.8h-5.8zM709.31 577.34h5.8v5.8h-5.8zM710.16 577.63h5.8v5.8h-5.8zM711 577.91h5.8v5.8h-5.8zM711.84 579.78h5.8v5.8h-5.8zM712.68 581.74h5.8v5.8h-5.8zM713.53 584.08h5.8v5.8h-5.8zM714.37 644.37h5.8v5.8h-5.8zM715.21 645.23h5.8v5.8h-5.8zM716.05 646.09h5.8v5.8h-5.8zM716.89 646.95h5.8v5.8h-5.8zM717.74 647.81h5.8v5.8h-5.8zM718.58 648.67h5.8v5.8h-5.8zM719.42 649.53h5.8v5.8h-5.8zM720.26 650.39h5.8v5.8h-5.8zM721.11 651.02h5.8v5.8h-5.8zM721.95 651.31h5.8v5.8h-5.8zM722.79 651.61h5.8v5.8h-5.8zM723.63 651.91h5.8v5.8h-5.8zM724.47 652.2h5.8v5.8h-5.8zM725.32 652.5h5.8v5.8h-5.8zM726.16 652.79h5.8v5.8h-5.8zM727 653.09h5.8v5.8h-5.8zM727.84 653.38h5.8v5.8h-5.8zM728.69 653.68h5.8v5.8h-5.8zM729.53 653.97h5.8v5.8h-5.8zM730.37 654.27h5.8v5.8h-5.8zM731.21 654.14h5.8v5.8h-5.8zM732.05 654.02h5.8v5.8h-5.8zM732.9 653.89h5.8v5.8h-5.8zM733.74 653.77h5.8v5.8h-5.8zM734.58 653.64h5.8v5.8h-5.8zM735.42 653.52h5.8v5.8h-5.8zM736.27 653.39h5.8v5.8h-5.8zM737.11 653.27h5.8v5.8h-5.8zM737.95 653.14h5.8v5.8h-5.8zM738.79 653.02h5.8v5.8h-5.8zM739.63 652.89h5.8v5.8h-5.8zM740.48 652.47h5.8v5.8h-5.8zM741.32 651.96h5.8v5.8h-5.8zM742.16 651.46h5.8v5.8h-5.8zM743 650.96h5.8v5.8h-5.8zM743.85 650.46h5.8v5.8h-5.8zM744.69 649.96h5.8v5.8h-5.8zM745.53 649.46h5.8v5.8h-5.8zM746.37 648.96h5.8v5.8h-5.8zM747.22 648.45h5.8v5.8h-5.8zM748.06 647.95h5.8v5.8h-5.8zM748.9 647.45h5.8v5.8h-5.8zM749.74 646.48h5.8v5.8h-5.8zM750.58 645.21h5.8v5.8h-5.8zM751.43 643.93h5.8v5.8h-5.8zM752.27 642.65h5.8v5.8h-5.8zM753.11 641.37h5.8v5.8h-5.8zM753.95 640.09h5.8v5.8h-5.8zM754.8 638.81h5.8v5.8h-5.8zM755.64 637.54h5.8v5.8h-5.8zM756.48 636.26h5.8v5.8h-5.8zM757.32 634.98h5.8v5.8h-5.8zM758.16 633.7h5.8v5.8h-5.8zM759.01 632.01h5.8v5.8h-5.8zM759.85 629.7h5.8v5.8h-5.8zM760.69 627.39h5.8v5.8h-5.8zM761.53 625.08h5.8v5.8h-5.8zM762.38 622.77h5.8v5.8h-5.8zM763.22 620.46h5.8v5.8h-5.8zM764.06 618.15h5.8v5.8h-5.8zM764.9 615.83h5.8v5.8h-5.8zM765.74 613.52h5.8v5.8h-5.8zM766.59 611.21h5.8v5.8h-5.8zM767.43 608.9h5.8v5.8h-5.8zM768.27 606.43h5.8v5.8h-5.8zM769.11 602.48h5.8v5.8h-5.8zM769.96 598.54h5.8v5.8h-5.8zM770.8 594.6h5.8v5.8h-5.8zM771.64 590.65h5.8v5.8h-5.8zM772.48 586.71h5.8v5.8h-5.8zM773.32 582.77h5.8v5.8h-5.8zM774.17 578.82h5.8v5.8h-5.8zM775.01 574.88h5.8v5.8h-5.8zM775.85 570.78h5.8v5.8h-5.8zM776.69 566.62h5.8v5.8h-5.8zM777.54 562.46h5.8v5.8h-5.8zM778.38 558.3h5.8v5.8h-5.8zM779.22 554.13h5.8v5.8h-5.8zM780.06 549.97h5.8v5.8h-5.8zM780.91 545.81h5.8v5.8h-5.8zM781.75 541.65h5.8v5.8h-5.8zM782.59 537.54h5.8v5.8h-5.8zM783.43 533.63h5.8v5.8h-5.8zM784.27 529.72h5.8v5.8h-5.8zM785.12 525.81h5.8v5.8h-5.8zM785.96 521.9h5.8v5.8h-5.8zM786.8 517.99h5.8v5.8h-5.8zM787.64 514.08h5.8v5.8h-5.8zM788.49 510.17h5.8v5.8h-5.8zM789.33 506.25h5.8v5.8h-5.8zM790.17 503.55h5.8v5.8h-5.8zM791.01 501.14h5.8v5.8h-5.8zM791.85 498.73h5.8v5.8h-5.8zM792.7 496.33h5.8v5.8h-5.8zM793.54 493.92h5.8v5.8h-5.8zM794.38 491.52h5.8v5.8h-5.8zM795.22 489.11h5.8v5.8h-5.8zM796.07 488.23h5.8v5.8h-5.8zM796.91 487.73h5.8v5.8h-5.8zM797.75 487.22h5.8v5.8h-5.8zM798.59 487.73h5.8v5.8h-5.8zM799.43 488.23h5.8v5.8h-5.8zM800.28 489.11h5.8v5.8h-5.8zM801.12 491.52h5.8v5.8h-5.8zM801.96 493.92h5.8v5.8h-5.8zM802.8 496.33h5.8v5.8h-5.8zM803.65 498.73h5.8v5.8h-5.8zM804.49 501.14h5.8v5.8h-5.8zM805.33 503.55h5.8v5.8h-5.8zM806.17 506.25h5.8v5.8h-5.8zM807.01 510.17h5.8v5.8h-5.8zM807.86 514.08h5.8v5.8h-5.8zM808.7 517.99h5.8v5.8h-5.8zM809.54 521.9h5.8v5.8h-5.8zM810.38 525.81h5.8v5.8h-5.8zM811.23 529.72h5.8v5.8h-5.8zM812.07 533.63h5.8v5.8h-5.8zM812.91 537.54h5.8v5.8h-5.8zM813.75 541.65h5.8v5.8h-5.8zM814.6 545.81h5.8v5.8h-5.8zM815.44 549.97h5.8v5.8h-5.8zM816.28 554.13h5.8v5.8h-5.8zM817.12 558.3h5.8v5.8h-5.8zM817.96 562.46h5.8v5.8h-5.8zM818.81 566.62h5.8v5.8h-5.8zM819.65 570.78h5.8v5.8h-5.8zM820.49 574.88h5.8v5.8h-5.8zM821.33 578.82h5.8v5.8h-5.8zM822.18 582.77h5.8v5.8h-5.8zM823.02 586.71h5.8v5.8h-5.8zM823.86 590.65h5.8v5.8h-5.8zM824.7 594.6h5.8v5.8h-5.8zM825.54 598.54h5.8v5.8h-5.8zM826.39 602.48h5.8v5.8h-5.8zM827.23 606.43h5.8v5.8h-5.8zM828.07 608.9h5.8v5.8h-5.8zM828.91 611.21h5.8v5.8h-5.8zM829.76 613.52h5.8v5.8h-5.8zM830.6 615.83h5.8v5.8h-5.8zM831.44 618.15h5.8v5.8h-5.8zM832.28 620.46h5.8v5.8h-5.8zM833.12 622.77h5.8v5.8h-5.8zM833.97 625.08h5.8v5.8h-5.8zM834.81 627.39h5.8v5.8h-5.8zM835.65 629.7h5.8v5.8h-5.8zM836.49 632.01h5.8v5.8h-5.8zM837.34 633.7h5.8v5.8h-5.8zM838.18 634.98h5.8v5.8h-5.8zM839.02 636.26h5.8v5.8h-5.8zM839.86 637.54h5.8v5.8h-5.8zM840.7 638.81h5.8v5.8h-5.8zM841.55 640.09h5.8v5.8h-5.8zM842.39 641.37h5.8v5.8h-5.8zM843.23 642.65h5.8v5.8h-5.8zM844.07 643.93h5.8v5.8h-5.8zM844.92 645.21h5.8v5.8h-5.8zM845.76 646.48h5.8v5.8h-5.8zM846.6 647.45h5.8v5.8h-5.8zM847.44 647.95h5.8v5.8h-5.8zM848.29 648.45h5.8v5.8h-5.8zM849.13 648.96h5.8v5.8h-5.8zM849.97 649.46h5.8v5.8h-5.8zM850.81 649.96h5.8v5.8h-5.8zM851.65 650.46h5.8v5.8h-5.8zM852.5 650.96h5.8v5.8h-5.8zM853.34 651.46h5.8v5.8h-5.8zM854.18 651.96h5.8v5.8h-5.8zM855.02 652.47h5.8v5.8h-5.8zM855.87 652.89h5.8v5.8h-5.8zM856.71 653.02h5.8v5.8h-5.8zM857.55 653.14h5.8v5.8h-5.8zM858.39 653.27h5.8v5.8h-5.8zM859.23 653.39h5.8v5.8h-5.8zM860.08 653.52h5.8v5.8h-5.8zM860.92 653.64h5.8v5.8h-5.8zM861.76 653.77h5.8v5.8h-5.8zM862.6 653.89h5.8v5.8h-5.8zM863.45 654.02h5.8v5.8h-5.8zM864.29 654.14h5.8v5.8h-5.8zM865.13 654.27h5.8v5.8h-5.8zM865.97 653.97h5.8v5.8h-5.8zM866.81 653.68h5.8v5.8h-5.8zM867.66 653.38h5.8v5.8h-5.8zM868.5 653.09h5.8v5.8h-5.8zM869.34 652.79h5.8v5.8h-5.8zM870.18 652.5h5.8v5.8h-5.8zM871.03 652.2h5.8v5.8h-5.8zM871.87 651.91h5.8v5.8h-5.8zM872.71 651.61h5.8v5.8h-5.8zM873.55 651.31h5.8v5.8h-5.8zM874.39 651.02h5.8v5.8h-5.8zM875.24 650.39h5.8v5.8h-5.8zM876.08 649.53h5.8v5.8h-5.8zM876.92 648.67h5.8v5.8h-5.8zM877.76 647.81h5.8v5.8h-5.8zM878.61 646.95h5.8v5.8h-5.8zM879.45 646.09h5.8v5.8h-5.8zM880.29 645.23h5.8v5.8h-5.8zM881.13 644.37h5.8v5.8h-5.8zM881.98 584.08h5.8v5.8h-5.8zM882.82 581.74h5.8v5.8h-5.8zM883.66 579.78h5.8v5.8h-5.8zM884.5 577.91h5.8v5.8h-5.8zM885.34 577.63h5.8v5.8h-5.8zM886.19 577.34h5.8v5.8h-5.8zM887.03 577.06h5.8v5.8h-5.8zM887.87 576.78h5.8v5.8h-5.8zM888.71 576.5h5.8v5.8h-5.8zM889.56 576.6h5.8v5.8h-5.8zM890.4 576.69h5.8v5.8h-5.8zM891.24 576.78h5.8v5.8h-5.8zM892.08 576.88h5.8v5.8h-5.8zM892.92 576.97h5.8v5.8h-5.8zM893.77 577.06h5.8v5.8h-5.8zM894.61 577.16h5.8v5.8h-5.8zM895.45 577.25h5.8v5.8h-5.8zM896.29 577.34h5.8v5.8h-5.8zM897.14 577.44h5.8v5.8h-5.8zM897.98 577.53h5.8v5.8h-5.8zM898.82 577.63h5.8v5.8h-5.8zM899.66 577.72h5.8v5.8h-5.8zM900.5 577.82h5.8v5.8h-5.8zM901.35 577.92h5.8v5.8h-5.8zM902.19 578.02h5.8v5.8h-5.8zM903.03 578.12h5.8v5.8h-5.8zM903.87 578.21h5.8v5.8h-5.8zM904.72 578.31h5.8v5.8h-5.8zM905.56 578.41h5.8v5.8h-5.8zM906.4 578.51h5.8v5.8h-5.8zM907.24 578.61h5.8v5.8h-5.8zM908.08 578.71h5.8v5.8h-5.8zM908.93 578.8h5.8v5.8h-5.8zM909.77 578.9h5.8v5.8h-5.8zM910.61 579h5.8v5.8h-5.8zM911.45 579.1h5.8v5.8h-5.8zM912.3 579.2h5.8v5.8h-5.8zM913.14 579.3h5.8v5.8h-5.8zM913.98 579.39h5.8v5.8h-5.8zM914.82 579.49h5.8v5.8h-5.8zM915.67 579.59h5.8v5.8h-5.8zM916.51 579.65h5.8v5.8h-5.8zM917.35 579.7h5.8v5.8h-5.8zM918.19 579.76h5.8v5.8h-5.8zM919.03 579.82h5.8v5.8h-5.8zM919.88 579.87h5.8v5.8h-5.8zM920.72 579.93h5.8v5.8h-5.8zM921.56 579.98h5.8v5.8h-5.8zM922.4 580.04h5.8v5.8h-5.8zM923.25 580.1h5.8v5.8h-5.8zM924.09 580.15h5.8v5.8h-5.8zM924.93 580.21h5.8v5.8h-5.8zM925.77 580.26h5.8v5.8h-5.8zM926.61 580.32h5.8v5.8h-5.8zM927.46 580.38h5.8v5.8h-5.8zM928.3 580.43h5.8v5.8h-5.8zM929.14 580.49h5.8v5.8h-5.8zM929.98 580.55h5.8v5.8h-5.8zM930.83 580.6h5.8v5.8h-5.8zM931.67 580.66h5.8v5.8h-5.8zM932.51 580.71h5.8v5.8h-5.8zM933.35 580.77h5.8v5.8h-5.8zM934.19 580.83h5.8v5.8h-5.8zM935.04 580.88h5.8v5.8h-5.8zM935.88 580.94h5.8v5.8h-5.8zM936.72 580.99h5.8v5.8h-5.8zM937.56 581.05h5.8v5.8h-5.8zM938.41 581.11h5.8v5.8h-5.8zM939.25 581.16h5.8v5.8h-5.8zM940.09 581.22h5.8v5.8h-5.8zM940.93 581.28h5.8v5.8h-5.8zM941.77 581.31h5.8v5.8h-5.8zM942.62 581.35h5.8v5.8h-5.8zM943.46 581.39h5.8v5.8h-5.8zM944.3 581.42h5.8v5.8h-5.8zM945.14 581.46h5.8v5.8h-5.8zM945.99 581.5h5.8v5.8h-5.8zM946.83 581.54h5.8v5.8h-5.8zM947.67 581.57h5.8v5.8h-5.8zM948.51 581.61h5.8v5.8h-5.8zM949.36 581.65h5.8v5.8h-5.8zM950.2 581.69h5.8v5.8h-5.8zM951.04 581.72h5.8v5.8h-5.8zM951.88 581.76h5.8v5.8h-5.8zM952.72 581.8h5.8v5.8h-5.8zM953.57 581.84h5.8v5.8h-5.8zM954.41 581.87h5.8v5.8h-5.8zM955.25 581.91h5.8v5.8h-5.8zM956.09 581.95h5.8v5.8h-5.8zM956.94 581.99h5.8v5.8h-5.8zM957.78 582.02h5.8v5.8h-5.8zM958.62 582.06h5.8v5.8h-5.8zM959.46 582.1h5.8v5.8h-5.8zM960.3 582.14h5.8v5.8h-5.8zM961.15 582.17h5.8v5.8h-5.8zM961.99 582.21h5.8v5.8h-5.8zM962.83 582.25h5.8v5.8h-5.8zM963.67 582.29h5.8v5.8h-5.8zM964.52 582.32h5.8v5.8h-5.8zM965.36 582.36h5.8v5.8h-5.8zM966.2 582.4h5.8v5.8h-5.8z" fill="#000"/>
<path d="M632.2 587.54 633.04 587.59 633.88 587.64 634.73 587.68 635.57 587.73 636.41 587.78 637.25 587.82 638.1 587.87 638.94 587.92 639.78 587.97 640.62 588.01 641.46 588.06 642.31 588.11 643.15 588.15 643.99 588.2 644.83 588.25 645.68 588.29 646.52 588.34 647.36 588.39 648.2 588.43 649.05 588.48 649.89 588.53 650.73 588.57 651.57 588.62 652.41 588.67 653.26 588.71 654.1 588.76 654.94 588.81 655.78 588.85 656.63 588.9 657.47 588.95 658.31 589.05 659.15 589.16 659.99 589.27 660.84 589.37 661.68 589.48 662.52 589.59 663.36 589.69 664.21 589.8 665.05 589.91 665.89 590.01 666.73 590.12 667.57 590.23 668.42 590.33 669.26 590.44 670.1 590.55 670.94 590.65 671.79 590.76 672.63 590.86 673.47 590.97 674.31 591.08 675.15 591.18 676 591.29 676.84 591.4 677.68 591.5 678.52 591.61 679.37 591.72 680.21 591.82 681.05 591.93 681.89 592.04 682.74 592.21 683.58 592.39 684.42 592.56 685.26 592.74 686.1 592.91 686.95 593.09 687.79 593.26 688.63 593.44 689.47 593.62 690.32 593.79 691.16 593.97 692 594.14 692.84 594.32 693.68 594.49 694.53 594.67 695.37 594.84 696.21 595.21 697.05 595.58 697.9 595.94 698.74 596.31 699.58 596.68 700.42 597.05 701.26 597.41 702.11 597.78 702.95 598.15 703.79 598.51 704.63 598.88 705.48 599.25 706.32 599.62 707.16 600.62 708 601.62 708.84 602.62 709.69 603.63 710.53 604.63 711.37 605.63 712.21 606.63 713.06 607.76 713.9 608.88 714.74 610 715.58 611.13 716.43 612.25 717.27 613.37 718.11 614.5 718.95 615.62 719.79 616.74 720.64 617.87 721.48 618.99 722.32 620.11 723.16 621.23 724.01 622.36 724.85 623.48 725.69 624.42 726.53 625.35 727.37 626.29 728.22 624.04 729.06 621.8 729.9 608.51 730.74 584.18 731.59 556.1 732.43 536.17 733.27 524.38 734.11 529.99 734.95 535.61 735.8 541.22 736.64 550.77 737.48 560.31 738.32 567.33 739.17 574.35 740.01 579.03 740.85 583.71 741.69 588.39 742.53 590.77 743.38 593.16 744.22 595.55 745.06 597.93 745.9 600.32 746.75 602.7 747.59 603.59 748.43 604.48 749.27 605.37 750.12 606.26 750.96 607.15 751.8 608.04 752.64 608.32 753.48 608.6 754.33 608.88 755.17 609.16 756.01 609.44 756.85 609.72 757.7 609.39 758.54 609.05 759.38 608.71 760.22 608.38 761.06 608.04 761.91 606.97 762.75 605.91 763.59 604.84 764.43 603.77 765.28 602.7 766.12 599.52 766.96 596.34 767.8 593.16 768.64 584.46 769.49 575.75 770.33 565.93 771.17 556.1 772.01 548.68 772.86 546.49 773.7 547.79 774.54 549.08 775.38 550 776.22 550.91 777.07 551.82 777.91 552.74 778.75 551.66 779.59 549.72 780.44 547.78 781.28 545.84 782.12 543.91 782.96 541.97 783.81 540.03 784.65 537.09 785.49 533.48 786.33 529.87 787.17 526.26 788.02 522.65 788.86 518.28 789.7 513.58 790.54 508.88 791.39 504.18 792.23 499.49 793.07 495.41 793.91 491.49 794.75 487.58 795.6 483.66 796.44 481 797.28 481.14 798.12 482.82 798.97 484.51 799.81 486.61 800.65 488.72 801.49 486.61 802.33 484.51 803.18 482.82 804.02 481.14 804.86 481 805.7 483.66 806.55 487.58 807.39 491.49 808.23 495.41 809.07 499.49 809.91 504.18 810.76 508.88 811.6 513.58 812.44 518.28 813.28 522.65 814.13 526.26 814.97 529.87 815.81 533.48 816.65 537.09 817.5 540.03 818.34 541.97 819.18 543.91 820.02 545.84 820.86 547.78 821.71 549.72 822.55 551.66 823.39 552.74 824.23 551.82 825.08 550.91 825.92 550 826.76 549.08 827.6 547.79 828.44 546.49 829.29 548.68 830.13 556.1 830.97 565.93 831.81 575.75 832.66 584.46 833.5 593.16 834.34 596.34 835.18 599.52 836.02 602.7 836.87 603.77 837.71 604.84 838.55 605.91 839.39 606.97 840.24 608.04 841.08 608.38 841.92 608.71 842.76 609.05 843.6 609.39 844.45 609.72 845.29 609.44 846.13 609.16 846.97 608.88 847.82 608.6 848.66 608.32 849.5 608.04 850.34 607.15 851.19 606.26 852.03 605.37 852.87 604.48 853.71 603.59 854.55 602.7 855.4 600.32 856.24 597.93 857.08 595.55 857.92 593.16 858.77 590.77 859.61 588.39 860.45 583.71 861.29 579.03 862.13 574.35 862.98 567.33 863.82 560.31 864.66 550.77 865.5 541.22 866.35 535.61 867.19 529.99 868.03 524.38 868.87 536.17 869.71 556.1 870.56 584.18 871.4 608.51 872.24 621.8 873.08 624.04 873.93 626.29 874.77 625.35 875.61 624.42 876.45 623.48 877.29 622.36 878.14 621.23 878.98 620.11 879.82 618.99 880.66 617.87 881.51 616.74 882.35 615.62 883.19 614.5 884.03 613.37 884.88 612.25 885.72 611.13 886.56 610 887.4 608.88 888.24 607.76 889.09 606.63 889.93 605.63 890.77 604.63 891.61 603.63 892.46 602.62 893.3 601.62 894.14 600.62 894.98 599.62 895.82 599.25 896.67 598.88 897.51 598.51 898.35 598.15 899.19 597.78 900.04 597.41 900.88 597.05 901.72 596.68 902.56 596.31 903.4 595.94 904.25 595.58 905.09 595.21 905.93 594.84 906.77 594.67 907.62 594.49 908.46 594.32 909.3 594.14 910.14 593.97 910.98 593.79 911.83 593.62 912.67 593.44 913.51 593.26 914.35 593.09 915.2 592.91 916.04 592.74 916.88 592.56 917.72 592.39 918.57 592.21 919.41 592.04 920.25 591.93 921.09 591.82 921.93 591.72 922.78 591.61 923.62 591.5 924.46 591.4 925.3 591.29 926.15 591.18 926.99 591.08 927.83 590.97 928.67 590.86 929.51 590.76 930.36 590.65 931.2 590.55 932.04 590.44 932.88 590.33 933.73 590.23 934.57 590.12 935.41 590.01 936.25 589.91 937.09 589.8 937.94 589.69 938.78 589.59 939.62 589.48 940.46 589.37 941.31 589.27 942.15 589.16 942.99 589.05 943.83 588.95 944.67 588.9 945.52 588.85 946.36 588.81 947.2 588.76 948.04 588.71 948.89 588.67 949.73 588.62 950.57 588.57 951.41 588.53 952.26 588.48 953.1 588.43 953.94 588.39 954.78 588.34 955.62 588.29 956.47 588.25 957.31 588.2 958.15 588.15 958.99 588.11 959.84 588.06 960.68 588.01 961.52 587.97 962.36 587.92 963.2 587.87 964.05 587.82 964.89 587.78 965.73 587.73 966.57 587.68 967.42 587.64 968.26 587.59 969.1 587.54" fill="none" stroke="#e8301e" stroke-width="1.3"/>
<path d="M629.4 587.54a2.8 2.8 0 1 0 5.6 0a2.8 2.8 0 1 0 -5.6 0zM630.24 587.59a2.8 2.8 0 1 0 5.6 0a2.8 2.8 0 1 0 -5.6 0zM631.08 587.64a2.8 2.8 0 1 0 5.6 0a2.8 2.8 0 1 0 -5.6 0zM631.93 587.68a2.8 2.8 0 1 0 5.6 0a2.8 2.8 0 1 0 -5.6 0zM632.77 587.73a2.8 2.8 0 1 0 5.6 0a2.8 2.8 0 1 0 -5.6 0zM633.61 587.78a2.8 2.8 0 1 0 5.6 0a2.8 2.8 0 1 0 -5.6 0zM634.45 587.82a2.8 2.8 0 1 0 5.6 0a2.8 2.8 0 1 0 -5.6 0zM635.3 587.87a2.8 2.8 0 1 0 5.6 0a2.8 2.8 0 1 0 -5.6 0zM636.14 587.92a2.8 2.8 0 1 0 5.6 0a2.8 2.8 0 1 0 -5.6 0zM636.98 587.97a2.8 2.8 0 1 0 5.6 0a2.8 2.8 0 1 0 -5.6 0zM637.82 588.01a2.8 2.8 0 1 0 5.6 0a2.8 2.8 0 1 0 -5.6 0zM638.66 588.06a2.8 2.8 0 1 0 5.6 0a2.8 2.8 0 1 0 -5.6 0zM639.51 588.11a2.8 2.8 0 1 0 5.6 0a2.8 2.8 0 1 0 -5.6 0zM640.35 588.15a2.8 2.8 0 1 0 5.6 0a2.8 2.8 0 1 0 -5.6 0zM641.19 588.2a2.8 2.8 0 1 0 5.6 0a2.8 2.8 0 1 0 -5.6 0zM642.03 588.25a2.8 2.8 0 1 0 5.6 0a2.8 2.8 0 1 0 -5.6 0zM642.88 588.29a2.8 2.8 0 1 0 5.6 0a2.8 2.8 0 1 0 -5.6 0zM643.72 588.34a2.8 2.8 0 1 0 5.6 0a2.8 2.8 0 1 0 -5.6 0zM644.56 588.39a2.8 2.8 0 1 0 5.6 0a2.8 2.8 0 1 0 -5.6 0zM645.4 588.43a2.8 2.8 0 1 0 5.6 0a2.8 2.8 0 1 0 -5.6 0zM646.25 588.48a2.8 2.8 0 1 0 5.6 0a2.8 2.8 0 1 0 -5.6 0zM647.09 588.53a2.8 2.8 0 1 0 5.6 0a2.8 2.8 0 1 0 -5.6 0zM647.93 588.57a2.8 2.8 0 1 0 5.6 0a2.8 2.8 0 1 0 -5.6 0zM648.77 588.62a2.8 2.8 0 1 0 5.6 0a2.8 2.8 0 1 0 -5.6 0zM649.61 588.67a2.8 2.8 0 1 0 5.6 0a2.8 2.8 0 1 0 -5.6 0zM650.46 588.71a2.8 2.8 0 1 0 5.6 0a2.8 2.8 0 1 0 -5.6 0zM651.3 588.76a2.8 2.8 0 1 0 5.6 0a2.8 2.8 0 1 0 -5.6 0zM652.14 588.81a2.8 2.8 0 1 0 5.6 0a2.8 2.8 0 1 0 -5.6 0zM652.98 588.85a2.8 2.8 0 1 0 5.6 0a2.8 2.8 0 1 0 -5.6 0zM653.83 588.9a2.8 2.8 0 1 0 5.6 0a2.8 2.8 0 1 0 -5.6 0zM654.67 588.95a2.8 2.8 0 1 0 5.6 0a2.8 2.8 0 1 0 -5.6 0zM655.51 589.05a2.8 2.8 0 1 0 5.6 0a2.8 2.8 0 1 0 -5.6 0zM656.35 589.16a2.8 2.8 0 1 0 5.6 0a2.8 2.8 0 1 0 -5.6 0zM657.19 589.27a2.8 2.8 0 1 0 5.6 0a2.8 2.8 0 1 0 -5.6 0zM658.04 589.37a2.8 2.8 0 1 0 5.6 0a2.8 2.8 0 1 0 -5.6 0zM658.88 589.48a2.8 2.8 0 1 0 5.6 0a2.8 2.8 0 1 0 -5.6 0zM659.72 589.59a2.8 2.8 0 1 0 5.6 0a2.8 2.8 0 1 0 -5.6 0zM660.56 589.69a2.8 2.8 0 1 0 5.6 0a2.8 2.8 0 1 0 -5.6 0zM661.41 589.8a2.8 2.8 0 1 0 5.6 0a2.8 2.8 0 1 0 -5.6 0zM662.25 589.91a2.8 2.8 0 1 0 5.6 0a2.8 2.8 0 1 0 -5.6 0zM663.09 590.01a2.8 2.8 0 1 0 5.6 0a2.8 2.8 0 1 0 -5.6 0zM663.93 590.12a2.8 2.8 0 1 0 5.6 0a2.8 2.8 0 1 0 -5.6 0zM664.77 590.23a2.8 2.8 0 1 0 5.6 0a2.8 2.8 0 1 0 -5.6 0zM665.62 590.33a2.8 2.8 0 1 0 5.6 0a2.8 2.8 0 1 0 -5.6 0zM666.46 590.44a2.8 2.8 0 1 0 5.6 0a2.8 2.8 0 1 0 -5.6 0zM667.3 590.55a2.8 2.8 0 1 0 5.6 0a2.8 2.8 0 1 0 -5.6 0zM668.14 590.65a2.8 2.8 0 1 0 5.6 0a2.8 2.8 0 1 0 -5.6 0zM668.99 590.76a2.8 2.8 0 1 0 5.6 0a2.8 2.8 0 1 0 -5.6 0zM669.83 590.86a2.8 2.8 0 1 0 5.6 0a2.8 2.8 0 1 0 -5.6 0zM670.67 590.97a2.8 2.8 0 1 0 5.6 0a2.8 2.8 0 1 0 -5.6 0zM671.51 591.08a2.8 2.8 0 1 0 5.6 0a2.8 2.8 0 1 0 -5.6 0zM672.35 591.18a2.8 2.8 0 1 0 5.6 0a2.8 2.8 0 1 0 -5.6 0zM673.2 591.29a2.8 2.8 0 1 0 5.6 0a2.8 2.8 0 1 0 -5.6 0zM674.04 591.4a2.8 2.8 0 1 0 5.6 0a2.8 2.8 0 1 0 -5.6 0zM674.88 591.5a2.8 2.8 0 1 0 5.6 0a2.8 2.8 0 1 0 -5.6 0zM675.72 591.61a2.8 2.8 0 1 0 5.6 0a2.8 2.8 0 1 0 -5.6 0zM676.57 591.72a2.8 2.8 0 1 0 5.6 0a2.8 2.8 0 1 0 -5.6 0zM677.41 591.82a2.8 2.8 0 1 0 5.6 0a2.8 2.8 0 1 0 -5.6 0zM678.25 591.93a2.8 2.8 0 1 0 5.6 0a2.8 2.8 0 1 0 -5.6 0zM679.09 592.04a2.8 2.8 0 1 0 5.6 0a2.8 2.8 0 1 0 -5.6 0zM679.94 592.21a2.8 2.8 0 1 0 5.6 0a2.8 2.8 0 1 0 -5.6 0zM680.78 592.39a2.8 2.8 0 1 0 5.6 0a2.8 2.8 0 1 0 -5.6 0zM681.62 592.56a2.8 2.8 0 1 0 5.6 0a2.8 2.8 0 1 0 -5.6 0zM682.46 592.74a2.8 2.8 0 1 0 5.6 0a2.8 2.8 0 1 0 -5.6 0zM683.3 592.91a2.8 2.8 0 1 0 5.6 0a2.8 2.8 0 1 0 -5.6 0zM684.15 593.09a2.8 2.8 0 1 0 5.6 0a2.8 2.8 0 1 0 -5.6 0zM684.99 593.26a2.8 2.8 0 1 0 5.6 0a2.8 2.8 0 1 0 -5.6 0zM685.83 593.44a2.8 2.8 0 1 0 5.6 0a2.8 2.8 0 1 0 -5.6 0zM686.67 593.62a2.8 2.8 0 1 0 5.6 0a2.8 2.8 0 1 0 -5.6 0zM687.52 593.79a2.8 2.8 0 1 0 5.6 0a2.8 2.8 0 1 0 -5.6 0zM688.36 593.97a2.8 2.8 0 1 0 5.6 0a2.8 2.8 0 1 0 -5.6 0zM689.2 594.14a2.8 2.8 0 1 0 5.6 0a2.8 2.8 0 1 0 -5.6 0zM690.04 594.32a2.8 2.8 0 1 0 5.6 0a2.8 2.8 0 1 0 -5.6 0zM690.88 594.49a2.8 2.8 0 1 0 5.6 0a2.8 2.8 0 1 0 -5.6 0zM691.73 594.67a2.8 2.8 0 1 0 5.6 0a2.8 2.8 0 1 0 -5.6 0zM692.57 594.84a2.8 2.8 0 1 0 5.6 0a2.8 2.8 0 1 0 -5.6 0zM693.41 595.21a2.8 2.8 0 1 0 5.6 0a2.8 2.8 0 1 0 -5.6 0zM694.25 595.58a2.8 2.8 0 1 0 5.6 0a2.8 2.8 0 1 0 -5.6 0zM695.1 595.94a2.8 2.8 0 1 0 5.6 0a2.8 2.8 0 1 0 -5.6 0zM695.94 596.31a2.8 2.8 0 1 0 5.6 0a2.8 2.8 0 1 0 -5.6 0zM696.78 596.68a2.8 2.8 0 1 0 5.6 0a2.8 2.8 0 1 0 -5.6 0zM697.62 597.05a2.8 2.8 0 1 0 5.6 0a2.8 2.8 0 1 0 -5.6 0zM698.46 597.41a2.8 2.8 0 1 0 5.6 0a2.8 2.8 0 1 0 -5.6 0zM699.31 597.78a2.8 2.8 0 1 0 5.6 0a2.8 2.8 0 1 0 -5.6 0zM700.15 598.15a2.8 2.8 0 1 0 5.6 0a2.8 2.8 0 1 0 -5.6 0zM700.99 598.51a2.8 2.8 0 1 0 5.6 0a2.8 2.8 0 1 0 -5.6 0zM701.83 598.88a2.8 2.8 0 1 0 5.6 0a2.8 2.8 0 1 0 -5.6 0zM702.68 599.25a2.8 2.8 0 1 0 5.6 0a2.8 2.8 0 1 0 -5.6 0zM703.52 599.62a2.8 2.8 0 1 0 5.6 0a2.8 2.8 0 1 0 -5.6 0zM704.36 600.62a2.8 2.8 0 1 0 5.6 0a2.8 2.8 0 1 0 -5.6 0zM705.2 601.62a2.8 2.8 0 1 0 5.6 0a2.8 2.8 0 1 0 -5.6 0zM706.04 602.62a2.8 2.8 0 1 0 5.6 0a2.8 2.8 0 1 0 -5.6 0zM706.89 603.63a2.8 2.8 0 1 0 5.6 0a2.8 2.8 0 1 0 -5.6 0zM707.73 604.63a2.8 2.8 0 1 0 5.6 0a2.8 2.8 0 1 0 -5.6 0zM708.57 605.63a2.8 2.8 0 1 0 5.6 0a2.8 2.8 0 1 0 -5.6 0zM709.41 606.63a2.8 2.8 0 1 0 5.6 0a2.8 2.8 0 1 0 -5.6 0zM710.26 607.76a2.8 2.8 0 1 0 5.6 0a2.8 2.8 0 1 0 -5.6 0zM711.1 608.88a2.8 2.8 0 1 0 5.6 0a2.8 2.8 0 1 0 -5.6 0zM711.94 610a2.8 2.8 0 1 0 5.6 0a2.8 2.8 0 1 0 -5.6 0zM712.78 611.13a2.8 2.8 0 1 0 5.6 0a2.8 2.8 0 1 0 -5.6 0zM713.63 612.25a2.8 2.8 0 1 0 5.6 0a2.8 2.8 0 1 0 -5.6 0zM714.47 613.37a2.8 2.8 0 1 0 5.6 0a2.8 2.8 0 1 0 -5.6 0zM715.31 614.5a2.8 2.8 0 1 0 5.6 0a2.8 2.8 0 1 0 -5.6 0zM716.15 615.62a2.8 2.8 0 1 0 5.6 0a2.8 2.8 0 1 0 -5.6 0zM716.99 616.74a2.8 2.8 0 1 0 5.6 0a2.8 2.8 0 1 0 -5.6 0zM717.84 617.87a2.8 2.8 0 1 0 5.6 0a2.8 2.8 0 1 0 -5.6 0zM718.68 618.99a2.8 2.8 0 1 0 5.6 0a2.8 2.8 0 1 0 -5.6 0zM719.52 620.11a2.8 2.8 0 1 0 5.6 0a2.8 2.8 0 1 0 -5.6 0zM720.36 621.23a2.8 2.8 0 1 0 5.6 0a2.8 2.8 0 1 0 -5.6 0zM721.21 622.36a2.8 2.8 0 1 0 5.6 0a2.8 2.8 0 1 0 -5.6 0zM722.05 623.48a2.8 2.8 0 1 0 5.6 0a2.8 2.8 0 1 0 -5.6 0zM722.89 624.42a2.8 2.8 0 1 0 5.6 0a2.8 2.8 0 1 0 -5.6 0zM723.73 625.35a2.8 2.8 0 1 0 5.6 0a2.8 2.8 0 1 0 -5.6 0zM724.57 626.29a2.8 2.8 0 1 0 5.6 0a2.8 2.8 0 1 0 -5.6 0zM725.42 624.04a2.8 2.8 0 1 0 5.6 0a2.8 2.8 0 1 0 -5.6 0zM726.26 621.8a2.8 2.8 0 1 0 5.6 0a2.8 2.8 0 1 0 -5.6 0zM727.1 608.51a2.8 2.8 0 1 0 5.6 0a2.8 2.8 0 1 0 -5.6 0zM727.94 584.18a2.8 2.8 0 1 0 5.6 0a2.8 2.8 0 1 0 -5.6 0zM728.79 556.1a2.8 2.8 0 1 0 5.6 0a2.8 2.8 0 1 0 -5.6 0zM729.63 536.17a2.8 2.8 0 1 0 5.6 0a2.8 2.8 0 1 0 -5.6 0zM730.47 524.38a2.8 2.8 0 1 0 5.6 0a2.8 2.8 0 1 0 -5.6 0zM731.31 529.99a2.8 2.8 0 1 0 5.6 0a2.8 2.8 0 1 0 -5.6 0zM732.15 535.61a2.8 2.8 0 1 0 5.6 0a2.8 2.8 0 1 0 -5.6 0zM733 541.22a2.8 2.8 0 1 0 5.6 0a2.8 2.8 0 1 0 -5.6 0zM733.84 550.77a2.8 2.8 0 1 0 5.6 0a2.8 2.8 0 1 0 -5.6 0zM734.68 560.31a2.8 2.8 0 1 0 5.6 0a2.8 2.8 0 1 0 -5.6 0zM735.52 567.33a2.8 2.8 0 1 0 5.6 0a2.8 2.8 0 1 0 -5.6 0zM736.37 574.35a2.8 2.8 0 1 0 5.6 0a2.8 2.8 0 1 0 -5.6 0zM737.21 579.03a2.8 2.8 0 1 0 5.6 0a2.8 2.8 0 1 0 -5.6 0zM738.05 583.71a2.8 2.8 0 1 0 5.6 0a2.8 2.8 0 1 0 -5.6 0zM738.89 588.39a2.8 2.8 0 1 0 5.6 0a2.8 2.8 0 1 0 -5.6 0zM739.73 590.77a2.8 2.8 0 1 0 5.6 0a2.8 2.8 0 1 0 -5.6 0zM740.58 593.16a2.8 2.8 0 1 0 5.6 0a2.8 2.8 0 1 0 -5.6 0zM741.42 595.55a2.8 2.8 0 1 0 5.6 0a2.8 2.8 0 1 0 -5.6 0zM742.26 597.93a2.8 2.8 0 1 0 5.6 0a2.8 2.8 0 1 0 -5.6 0zM743.1 600.32a2.8 2.8 0 1 0 5.6 0a2.8 2.8 0 1 0 -5.6 0zM743.95 602.7a2.8 2.8 0 1 0 5.6 0a2.8 2.8 0 1 0 -5.6 0zM744.79 603.59a2.8 2.8 0 1 0 5.6 0a2.8 2.8 0 1 0 -5.6 0zM745.63 604.48a2.8 2.8 0 1 0 5.6 0a2.8 2.8 0 1 0 -5.6 0zM746.47 605.37a2.8 2.8 0 1 0 5.6 0a2.8 2.8 0 1 0 -5.6 0zM747.32 606.26a2.8 2.8 0 1 0 5.6 0a2.8 2.8 0 1 0 -5.6 0zM748.16 607.15a2.8 2.8 0 1 0 5.6 0a2.8 2.8 0 1 0 -5.6 0zM749 608.04a2.8 2.8 0 1 0 5.6 0a2.8 2.8 0 1 0 -5.6 0zM749.84 608.32a2.8 2.8 0 1 0 5.6 0a2.8 2.8 0 1 0 -5.6 0zM750.68 608.6a2.8 2.8 0 1 0 5.6 0a2.8 2.8 0 1 0 -5.6 0zM751.53 608.88a2.8 2.8 0 1 0 5.6 0a2.8 2.8 0 1 0 -5.6 0zM752.37 609.16a2.8 2.8 0 1 0 5.6 0a2.8 2.8 0 1 0 -5.6 0zM753.21 609.44a2.8 2.8 0 1 0 5.6 0a2.8 2.8 0 1 0 -5.6 0zM754.05 609.72a2.8 2.8 0 1 0 5.6 0a2.8 2.8 0 1 0 -5.6 0zM754.9 609.39a2.8 2.8 0 1 0 5.6 0a2.8 2.8 0 1 0 -5.6 0zM755.74 609.05a2.8 2.8 0 1 0 5.6 0a2.8 2.8 0 1 0 -5.6 0zM756.58 608.71a2.8 2.8 0 1 0 5.6 0a2.8 2.8 0 1 0 -5.6 0zM757.42 608.38a2.8 2.8 0 1 0 5.6 0a2.8 2.8 0 1 0 -5.6 0zM758.26 608.04a2.8 2.8 0 1 0 5.6 0a2.8 2.8 0 1 0 -5.6 0zM759.11 606.97a2.8 2.8 0 1 0 5.6 0a2.8 2.8 0 1 0 -5.6 0zM759.95 605.91a2.8 2.8 0 1 0 5.6 0a2.8 2.8 0 1 0 -5.6 0zM760.79 604.84a2.8 2.8 0 1 0 5.6 0a2.8 2.8 0 1 0 -5.6 0zM761.63 603.77a2.8 2.8 0 1 0 5.6 0a2.8 2.8 0 1 0 -5.6 0zM762.48 602.7a2.8 2.8 0 1 0 5.6 0a2.8 2.8 0 1 0 -5.6 0zM763.32 599.52a2.8 2.8 0 1 0 5.6 0a2.8 2.8 0 1 0 -5.6 0zM764.16 596.34a2.8 2.8 0 1 0 5.6 0a2.8 2.8 0 1 0 -5.6 0zM765 593.16a2.8 2.8 0 1 0 5.6 0a2.8 2.8 0 1 0 -5.6 0zM765.84 584.46a2.8 2.8 0 1 0 5.6 0a2.8 2.8 0 1 0 -5.6 0zM766.69 575.75a2.8 2.8 0 1 0 5.6 0a2.8 2.8 0 1 0 -5.6 0zM767.53 565.93a2.8 2.8 0 1 0 5.6 0a2.8 2.8 0 1 0 -5.6 0zM768.37 556.1a2.8 2.8 0 1 0 5.6 0a2.8 2.8 0 1 0 -5.6 0zM769.21 548.68a2.8 2.8 0 1 0 5.6 0a2.8 2.8 0 1 0 -5.6 0zM770.06 546.49a2.8 2.8 0 1 0 5.6 0a2.8 2.8 0 1 0 -5.6 0zM770.9 547.79a2.8 2.8 0 1 0 5.6 0a2.8 2.8 0 1 0 -5.6 0zM771.74 549.08a2.8 2.8 0 1 0 5.6 0a2.8 2.8 0 1 0 -5.6 0zM772.58 550a2.8 2.8 0 1 0 5.6 0a2.8 2.8 0 1 0 -5.6 0zM773.42 550.91a2.8 2.8 0 1 0 5.6 0a2.8 2.8 0 1 0 -5.6 0zM774.27 551.82a2.8 2.8 0 1 0 5.6 0a2.8 2.8 0 1 0 -5.6 0zM775.11 552.74a2.8 2.8 0 1 0 5.6 0a2.8 2.8 0 1 0 -5.6 0zM775.95 551.66a2.8 2.8 0 1 0 5.6 0a2.8 2.8 0 1 0 -5.6 0zM776.79 549.72a2.8 2.8 0 1 0 5.6 0a2.8 2.8 0 1 0 -5.6 0zM777.64 547.78a2.8 2.8 0 1 0 5.6 0a2.8 2.8 0 1 0 -5.6 0zM778.48 545.84a2.8 2.8 0 1 0 5.6 0a2.8 2.8 0 1 0 -5.6 0zM779.32 543.91a2.8 2.8 0 1 0 5.6 0a2.8 2.8 0 1 0 -5.6 0zM780.16 541.97a2.8 2.8 0 1 0 5.6 0a2.8 2.8 0 1 0 -5.6 0zM781.01 540.03a2.8 2.8 0 1 0 5.6 0a2.8 2.8 0 1 0 -5.6 0zM781.85 537.09a2.8 2.8 0 1 0 5.6 0a2.8 2.8 0 1 0 -5.6 0zM782.69 533.48a2.8 2.8 0 1 0 5.6 0a2.8 2.8 0 1 0 -5.6 0zM783.53 529.87a2.8 2.8 0 1 0 5.6 0a2.8 2.8 0 1 0 -5.6 0zM784.37 526.26a2.8 2.8 0 1 0 5.6 0a2.8 2.8 0 1 0 -5.6 0zM785.22 522.65a2.8 2.8 0 1 0 5.6 0a2.8 2.8 0 1 0 -5.6 0zM786.06 518.28a2.8 2.8 0 1 0 5.6 0a2.8 2.8 0 1 0 -5.6 0zM786.9 513.58a2.8 2.8 0 1 0 5.6 0a2.8 2.8 0 1 0 -5.6 0zM787.74 508.88a2.8 2.8 0 1 0 5.6 0a2.8 2.8 0 1 0 -5.6 0zM788.59 504.18a2.8 2.8 0 1 0 5.6 0a2.8 2.8 0 1 0 -5.6 0zM789.43 499.49a2.8 2.8 0 1 0 5.6 0a2.8 2.8 0 1 0 -5.6 0zM790.27 495.41a2.8 2.8 0 1 0 5.6 0a2.8 2.8 0 1 0 -5.6 0zM791.11 491.49a2.8 2.8 0 1 0 5.6 0a2.8 2.8 0 1 0 -5.6 0zM791.95 487.58a2.8 2.8 0 1 0 5.6 0a2.8 2.8 0 1 0 -5.6 0zM792.8 483.66a2.8 2.8 0 1 0 5.6 0a2.8 2.8 0 1 0 -5.6 0zM793.64 481a2.8 2.8 0 1 0 5.6 0a2.8 2.8 0 1 0 -5.6 0zM794.48 481.14a2.8 2.8 0 1 0 5.6 0a2.8 2.8 0 1 0 -5.6 0zM795.32 482.82a2.8 2.8 0 1 0 5.6 0a2.8 2.8 0 1 0 -5.6 0zM796.17 484.51a2.8 2.8 0 1 0 5.6 0a2.8 2.8 0 1 0 -5.6 0zM797.01 486.61a2.8 2.8 0 1 0 5.6 0a2.8 2.8 0 1 0 -5.6 0zM797.85 488.72a2.8 2.8 0 1 0 5.6 0a2.8 2.8 0 1 0 -5.6 0zM798.69 486.61a2.8 2.8 0 1 0 5.6 0a2.8 2.8 0 1 0 -5.6 0zM799.53 484.51a2.8 2.8 0 1 0 5.6 0a2.8 2.8 0 1 0 -5.6 0zM800.38 482.82a2.8 2.8 0 1 0 5.6 0a2.8 2.8 0 1 0 -5.6 0zM801.22 481.14a2.8 2.8 0 1 0 5.6 0a2.8 2.8 0 1 0 -5.6 0zM802.06 481a2.8 2.8 0 1 0 5.6 0a2.8 2.8 0 1 0 -5.6 0zM802.9 483.66a2.8 2.8 0 1 0 5.6 0a2.8 2.8 0 1 0 -5.6 0zM803.75 487.58a2.8 2.8 0 1 0 5.6 0a2.8 2.8 0 1 0 -5.6 0zM804.59 491.49a2.8 2.8 0 1 0 5.6 0a2.8 2.8 0 1 0 -5.6 0zM805.43 495.41a2.8 2.8 0 1 0 5.6 0a2.8 2.8 0 1 0 -5.6 0zM806.27 499.49a2.8 2.8 0 1 0 5.6 0a2.8 2.8 0 1 0 -5.6 0zM807.11 504.18a2.8 2.8 0 1 0 5.6 0a2.8 2.8 0 1 0 -5.6 0zM807.96 508.88a2.8 2.8 0 1 0 5.6 0a2.8 2.8 0 1 0 -5.6 0zM808.8 513.58a2.8 2.8 0 1 0 5.6 0a2.8 2.8 0 1 0 -5.6 0zM809.64 518.28a2.8 2.8 0 1 0 5.6 0a2.8 2.8 0 1 0 -5.6 0zM810.48 522.65a2.8 2.8 0 1 0 5.6 0a2.8 2.8 0 1 0 -5.6 0zM811.33 526.26a2.8 2.8 0 1 0 5.6 0a2.8 2.8 0 1 0 -5.6 0zM812.17 529.87a2.8 2.8 0 1 0 5.6 0a2.8 2.8 0 1 0 -5.6 0zM813.01 533.48a2.8 2.8 0 1 0 5.6 0a2.8 2.8 0 1 0 -5.6 0zM813.85 537.09a2.8 2.8 0 1 0 5.6 0a2.8 2.8 0 1 0 -5.6 0zM814.7 540.03a2.8 2.8 0 1 0 5.6 0a2.8 2.8 0 1 0 -5.6 0zM815.54 541.97a2.8 2.8 0 1 0 5.6 0a2.8 2.8 0 1 0 -5.6 0zM816.38 543.91a2.8 2.8 0 1 0 5.6 0a2.8 2.8 0 1 0 -5.6 0zM817.22 545.84a2.8 2.8 0 1 0 5.6 0a2.8 2.8 0 1 0 -5.6 0zM818.06 547.78a2.8 2.8 0 1 0 5.6 0a2.8 2.8 0 1 0 -5.6 0zM818.91 549.72a2.8 2.8 0 1 0 5.6 0a2.8 2.8 0 1 0 -5.6 0zM819.75 551.66a2.8 2.8 0 1 0 5.6 0a2.8 2.8 0 1 0 -5.6 0zM820.59 552.74a2.8 2.8 0 1 0 5.6 0a2.8 2.8 0 1 0 -5.6 0zM821.43 551.82a2.8 2.8 0 1 0 5.6 0a2.8 2.8 0 1 0 -5.6 0zM822.28 550.91a2.8 2.8 0 1 0 5.6 0a2.8 2.8 0 1 0 -5.6 0zM823.12 550a2.8 2.8 0 1 0 5.6 0a2.8 2.8 0 1 0 -5.6 0zM823.96 549.08a2.8 2.8 0 1 0 5.6 0a2.8 2.8 0 1 0 -5.6 0zM824.8 547.79a2.8 2.8 0 1 0 5.6 0a2.8 2.8 0 1 0 -5.6 0zM825.64 546.49a2.8 2.8 0 1 0 5.6 0a2.8 2.8 0 1 0 -5.6 0zM826.49 548.68a2.8 2.8 0 1 0 5.6 0a2.8 2.8 0 1 0 -5.6 0zM827.33 556.1a2.8 2.8 0 1 0 5.6 0a2.8 2.8 0 1 0 -5.6 0zM828.17 565.93a2.8 2.8 0 1 0 5.6 0a2.8 2.8 0 1 0 -5.6 0zM829.01 575.75a2.8 2.8 0 1 0 5.6 0a2.8 2.8 0 1 0 -5.6 0zM829.86 584.46a2.8 2.8 0 1 0 5.6 0a2.8 2.8 0 1 0 -5.6 0zM830.7 593.16a2.8 2.8 0 1 0 5.6 0a2.8 2.8 0 1 0 -5.6 0zM831.54 596.34a2.8 2.8 0 1 0 5.6 0a2.8 2.8 0 1 0 -5.6 0zM832.38 599.52a2.8 2.8 0 1 0 5.6 0a2.8 2.8 0 1 0 -5.6 0zM833.22 602.7a2.8 2.8 0 1 0 5.6 0a2.8 2.8 0 1 0 -5.6 0zM834.07 603.77a2.8 2.8 0 1 0 5.6 0a2.8 2.8 0 1 0 -5.6 0zM834.91 604.84a2.8 2.8 0 1 0 5.6 0a2.8 2.8 0 1 0 -5.6 0zM835.75 605.91a2.8 2.8 0 1 0 5.6 0a2.8 2.8 0 1 0 -5.6 0zM836.59 606.97a2.8 2.8 0 1 0 5.6 0a2.8 2.8 0 1 0 -5.6 0zM837.44 608.04a2.8 2.8 0 1 0 5.6 0a2.8 2.8 0 1 0 -5.6 0zM838.28 608.38a2.8 2.8 0 1 0 5.6 0a2.8 2.8 0 1 0 -5.6 0zM839.12 608.71a2.8 2.8 0 1 0 5.6 0a2.8 2.8 0 1 0 -5.6 0zM839.96 609.05a2.8 2.8 0 1 0 5.6 0a2.8 2.8 0 1 0 -5.6 0zM840.8 609.39a2.8 2.8 0 1 0 5.6 0a2.8 2.8 0 1 0 -5.6 0zM841.65 609.72a2.8 2.8 0 1 0 5.6 0a2.8 2.8 0 1 0 -5.6 0zM842.49 609.44a2.8 2.8 0 1 0 5.6 0a2.8 2.8 0 1 0 -5.6 0zM843.33 609.16a2.8 2.8 0 1 0 5.6 0a2.8 2.8 0 1 0 -5.6 0zM844.17 608.88a2.8 2.8 0 1 0 5.6 0a2.8 2.8 0 1 0 -5.6 0zM845.02 608.6a2.8 2.8 0 1 0 5.6 0a2.8 2.8 0 1 0 -5.6 0zM845.86 608.32a2.8 2.8 0 1 0 5.6 0a2.8 2.8 0 1 0 -5.6 0zM846.7 608.04a2.8 2.8 0 1 0 5.6 0a2.8 2.8 0 1 0 -5.6 0zM847.54 607.15a2.8 2.8 0 1 0 5.6 0a2.8 2.8 0 1 0 -5.6 0zM848.39 606.26a2.8 2.8 0 1 0 5.6 0a2.8 2.8 0 1 0 -5.6 0zM849.23 605.37a2.8 2.8 0 1 0 5.6 0a2.8 2.8 0 1 0 -5.6 0zM850.07 604.48a2.8 2.8 0 1 0 5.6 0a2.8 2.8 0 1 0 -5.6 0zM850.91 603.59a2.8 2.8 0 1 0 5.6 0a2.8 2.8 0 1 0 -5.6 0zM851.75 602.7a2.8 2.8 0 1 0 5.6 0a2.8 2.8 0 1 0 -5.6 0zM852.6 600.32a2.8 2.8 0 1 0 5.6 0a2.8 2.8 0 1 0 -5.6 0zM853.44 597.93a2.8 2.8 0 1 0 5.6 0a2.8 2.8 0 1 0 -5.6 0zM854.28 595.55a2.8 2.8 0 1 0 5.6 0a2.8 2.8 0 1 0 -5.6 0zM855.12 593.16a2.8 2.8 0 1 0 5.6 0a2.8 2.8 0 1 0 -5.6 0zM855.97 590.77a2.8 2.8 0 1 0 5.6 0a2.8 2.8 0 1 0 -5.6 0zM856.81 588.39a2.8 2.8 0 1 0 5.6 0a2.8 2.8 0 1 0 -5.6 0zM857.65 583.71a2.8 2.8 0 1 0 5.6 0a2.8 2.8 0 1 0 -5.6 0zM858.49 579.03a2.8 2.8 0 1 0 5.6 0a2.8 2.8 0 1 0 -5.6 0zM859.33 574.35a2.8 2.8 0 1 0 5.6 0a2.8 2.8 0 1 0 -5.6 0zM860.18 567.33a2.8 2.8 0 1 0 5.6 0a2.8 2.8 0 1 0 -5.6 0zM861.02 560.31a2.8 2.8 0 1 0 5.6 0a2.8 2.8 0 1 0 -5.6 0zM861.86 550.77a2.8 2.8 0 1 0 5.6 0a2.8 2.8 0 1 0 -5.6 0zM862.7 541.22a2.8 2.8 0 1 0 5.6 0a2.8 2.8 0 1 0 -5.6 0zM863.55 535.61a2.8 2.8 0 1 0 5.6 0a2.8 2.8 0 1 0 -5.6 0zM864.39 529.99a2.8 2.8 0 1 0 5.6 0a2.8 2.8 0 1 0 -5.6 0zM865.23 524.38a2.8 2.8 0 1 0 5.6 0a2.8 2.8 0 1 0 -5.6 0zM866.07 536.17a2.8 2.8 0 1 0 5.6 0a2.8 2.8 0 1 0 -5.6 0zM866.91 556.1a2.8 2.8 0 1 0 5.6 0a2.8 2.8 0 1 0 -5.6 0zM867.76 584.18a2.8 2.8 0 1 0 5.6 0a2.8 2.8 0 1 0 -5.6 0zM868.6 608.51a2.8 2.8 0 1 0 5.6 0a2.8 2.8 0 1 0 -5.6 0zM869.44 621.8a2.8 2.8 0 1 0 5.6 0a2.8 2.8 0 1 0 -5.6 0zM870.28 624.04a2.8 2.8 0 1 0 5.6 0a2.8 2.8 0 1 0 -5.6 0zM871.13 626.29a2.8 2.8 0 1 0 5.6 0a2.8 2.8 0 1 0 -5.6 0zM871.97 625.35a2.8 2.8 0 1 0 5.6 0a2.8 2.8 0 1 0 -5.6 0zM872.81 624.42a2.8 2.8 0 1 0 5.6 0a2.8 2.8 0 1 0 -5.6 0zM873.65 623.48a2.8 2.8 0 1 0 5.6 0a2.8 2.8 0 1 0 -5.6 0zM874.49 622.36a2.8 2.8 0 1 0 5.6 0a2.8 2.8 0 1 0 -5.6 0zM875.34 621.23a2.8 2.8 0 1 0 5.6 0a2.8 2.8 0 1 0 -5.6 0zM876.18 620.11a2.8 2.8 0 1 0 5.6 0a2.8 2.8 0 1 0 -5.6 0zM877.02 618.99a2.8 2.8 0 1 0 5.6 0a2.8 2.8 0 1 0 -5.6 0zM877.86 617.87a2.8 2.8 0 1 0 5.6 0a2.8 2.8 0 1 0 -5.6 0zM878.71 616.74a2.8 2.8 0 1 0 5.6 0a2.8 2.8 0 1 0 -5.6 0zM879.55 615.62a2.8 2.8 0 1 0 5.6 0a2.8 2.8 0 1 0 -5.6 0zM880.39 614.5a2.8 2.8 0 1 0 5.6 0a2.8 2.8 0 1 0 -5.6 0zM881.23 613.37a2.8 2.8 0 1 0 5.6 0a2.8 2.8 0 1 0 -5.6 0zM882.08 612.25a2.8 2.8 0 1 0 5.6 0a2.8 2.8 0 1 0 -5.6 0zM882.92 611.13a2.8 2.8 0 1 0 5.6 0a2.8 2.8 0 1 0 -5.6 0zM883.76 610a2.8 2.8 0 1 0 5.6 0a2.8 2.8 0 1 0 -5.6 0zM884.6 608.88a2.8 2.8 0 1 0 5.6 0a2.8 2.8 0 1 0 -5.6 0zM885.44 607.76a2.8 2.8 0 1 0 5.6 0a2.8 2.8 0 1 0 -5.6 0zM886.29 606.63a2.8 2.8 0 1 0 5.6 0a2.8 2.8 0 1 0 -5.6 0zM887.13 605.63a2.8 2.8 0 1 0 5.6 0a2.8 2.8 0 1 0 -5.6 0zM887.97 604.63a2.8 2.8 0 1 0 5.6 0a2.8 2.8 0 1 0 -5.6 0zM888.81 603.63a2.8 2.8 0 1 0 5.6 0a2.8 2.8 0 1 0 -5.6 0zM889.66 602.62a2.8 2.8 0 1 0 5.6 0a2.8 2.8 0 1 0 -5.6 0zM890.5 601.62a2.8 2.8 0 1 0 5.6 0a2.8 2.8 0 1 0 -5.6 0zM891.34 600.62a2.8 2.8 0 1 0 5.6 0a2.8 2.8 0 1 0 -5.6 0zM892.18 599.62a2.8 2.8 0 1 0 5.6 0a2.8 2.8 0 1 0 -5.6 0zM893.02 599.25a2.8 2.8 0 1 0 5.6 0a2.8 2.8 0 1 0 -5.6 0zM893.87 598.88a2.8 2.8 0 1 0 5.6 0a2.8 2.8 0 1 0 -5.6 0zM894.71 598.51a2.8 2.8 0 1 0 5.6 0a2.8 2.8 0 1 0 -5.6 0zM895.55 598.15a2.8 2.8 0 1 0 5.6 0a2.8 2.8 0 1 0 -5.6 0zM896.39 597.78a2.8 2.8 0 1 0 5.6 0a2.8 2.8 0 1 0 -5.6 0zM897.24 597.41a2.8 2.8 0 1 0 5.6 0a2.8 2.8 0 1 0 -5.6 0zM898.08 597.05a2.8 2.8 0 1 0 5.6 0a2.8 2.8 0 1 0 -5.6 0zM898.92 596.68a2.8 2.8 0 1 0 5.6 0a2.8 2.8 0 1 0 -5.6 0zM899.76 596.31a2.8 2.8 0 1 0 5.6 0a2.8 2.8 0 1 0 -5.6 0zM900.6 595.94a2.8 2.8 0 1 0 5.6 0a2.8 2.8 0 1 0 -5.6 0zM901.45 595.58a2.8 2.8 0 1 0 5.6 0a2.8 2.8 0 1 0 -5.6 0zM902.29 595.21a2.8 2.8 0 1 0 5.6 0a2.8 2.8 0 1 0 -5.6 0zM903.13 594.84a2.8 2.8 0 1 0 5.6 0a2.8 2.8 0 1 0 -5.6 0zM903.97 594.67a2.8 2.8 0 1 0 5.6 0a2.8 2.8 0 1 0 -5.6 0zM904.82 594.49a2.8 2.8 0 1 0 5.6 0a2.8 2.8 0 1 0 -5.6 0zM905.66 594.32a2.8 2.8 0 1 0 5.6 0a2.8 2.8 0 1 0 -5.6 0zM906.5 594.14a2.8 2.8 0 1 0 5.6 0a2.8 2.8 0 1 0 -5.6 0zM907.34 593.97a2.8 2.8 0 1 0 5.6 0a2.8 2.8 0 1 0 -5.6 0zM908.18 593.79a2.8 2.8 0 1 0 5.6 0a2.8 2.8 0 1 0 -5.6 0zM909.03 593.62a2.8 2.8 0 1 0 5.6 0a2.8 2.8 0 1 0 -5.6 0zM909.87 593.44a2.8 2.8 0 1 0 5.6 0a2.8 2.8 0 1 0 -5.6 0zM910.71 593.26a2.8 2.8 0 1 0 5.6 0a2.8 2.8 0 1 0 -5.6 0zM911.55 593.09a2.8 2.8 0 1 0 5.6 0a2.8 2.8 0 1 0 -5.6 0zM912.4 592.91a2.8 2.8 0 1 0 5.6 0a2.8 2.8 0 1 0 -5.6 0zM913.24 592.74a2.8 2.8 0 1 0 5.6 0a2.8 2.8 0 1 0 -5.6 0zM914.08 592.56a2.8 2.8 0 1 0 5.6 0a2.8 2.8 0 1 0 -5.6 0zM914.92 592.39a2.8 2.8 0 1 0 5.6 0a2.8 2.8 0 1 0 -5.6 0zM915.77 592.21a2.8 2.8 0 1 0 5.6 0a2.8 2.8 0 1 0 -5.6 0zM916.61 592.04a2.8 2.8 0 1 0 5.6 0a2.8 2.8 0 1 0 -5.6 0zM917.45 591.93a2.8 2.8 0 1 0 5.6 0a2.8 2.8 0 1 0 -5.6 0zM918.29 591.82a2.8 2.8 0 1 0 5.6 0a2.8 2.8 0 1 0 -5.6 0zM919.13 591.72a2.8 2.8 0 1 0 5.6 0a2.8 2.8 0 1 0 -5.6 0zM919.98 591.61a2.8 2.8 0 1 0 5.6 0a2.8 2.8 0 1 0 -5.6 0zM920.82 591.5a2.8 2.8 0 1 0 5.6 0a2.8 2.8 0 1 0 -5.6 0zM921.66 591.4a2.8 2.8 0 1 0 5.6 0a2.8 2.8 0 1 0 -5.6 0zM922.5 591.29a2.8 2.8 0 1 0 5.6 0a2.8 2.8 0 1 0 -5.6 0zM923.35 591.18a2.8 2.8 0 1 0 5.6 0a2.8 2.8 0 1 0 -5.6 0zM924.19 591.08a2.8 2.8 0 1 0 5.6 0a2.8 2.8 0 1 0 -5.6 0zM925.03 590.97a2.8 2.8 0 1 0 5.6 0a2.8 2.8 0 1 0 -5.6 0zM925.87 590.86a2.8 2.8 0 1 0 5.6 0a2.8 2.8 0 1 0 -5.6 0zM926.71 590.76a2.8 2.8 0 1 0 5.6 0a2.8 2.8 0 1 0 -5.6 0zM927.56 590.65a2.8 2.8 0 1 0 5.6 0a2.8 2.8 0 1 0 -5.6 0zM928.4 590.55a2.8 2.8 0 1 0 5.6 0a2.8 2.8 0 1 0 -5.6 0zM929.24 590.44a2.8 2.8 0 1 0 5.6 0a2.8 2.8 0 1 0 -5.6 0zM930.08 590.33a2.8 2.8 0 1 0 5.6 0a2.8 2.8 0 1 0 -5.6 0zM930.93 590.23a2.8 2.8 0 1 0 5.6 0a2.8 2.8 0 1 0 -5.6 0zM931.77 590.12a2.8 2.8 0 1 0 5.6 0a2.8 2.8 0 1 0 -5.6 0zM932.61 590.01a2.8 2.8 0 1 0 5.6 0a2.8 2.8 0 1 0 -5.6 0zM933.45 589.91a2.8 2.8 0 1 0 5.6 0a2.8 2.8 0 1 0 -5.6 0zM934.29 589.8a2.8 2.8 0 1 0 5.6 0a2.8 2.8 0 1 0 -5.6 0zM935.14 589.69a2.8 2.8 0 1 0 5.6 0a2.8 2.8 0 1 0 -5.6 0zM935.98 589.59a2.8 2.8 0 1 0 5.6 0a2.8 2.8 0 1 0 -5.6 0zM936.82 589.48a2.8 2.8 0 1 0 5.6 0a2.8 2.8 0 1 0 -5.6 0zM937.66 589.37a2.8 2.8 0 1 0 5.6 0a2.8 2.8 0 1 0 -5.6 0zM938.51 589.27a2.8 2.8 0 1 0 5.6 0a2.8 2.8 0 1 0 -5.6 0zM939.35 589.16a2.8 2.8 0 1 0 5.6 0a2.8 2.8 0 1 0 -5.6 0zM940.19 589.05a2.8 2.8 0 1 0 5.6 0a2.8 2.8 0 1 0 -5.6 0zM941.03 588.95a2.8 2.8 0 1 0 5.6 0a2.8 2.8 0 1 0 -5.6 0zM941.87 588.9a2.8 2.8 0 1 0 5.6 0a2.8 2.8 0 1 0 -5.6 0zM942.72 588.85a2.8 2.8 0 1 0 5.6 0a2.8 2.8 0 1 0 -5.6 0zM943.56 588.81a2.8 2.8 0 1 0 5.6 0a2.8 2.8 0 1 0 -5.6 0zM944.4 588.76a2.8 2.8 0 1 0 5.6 0a2.8 2.8 0 1 0 -5.6 0zM945.24 588.71a2.8 2.8 0 1 0 5.6 0a2.8 2.8 0 1 0 -5.6 0zM946.09 588.67a2.8 2.8 0 1 0 5.6 0a2.8 2.8 0 1 0 -5.6 0zM946.93 588.62a2.8 2.8 0 1 0 5.6 0a2.8 2.8 0 1 0 -5.6 0zM947.77 588.57a2.8 2.8 0 1 0 5.6 0a2.8 2.8 0 1 0 -5.6 0zM948.61 588.53a2.8 2.8 0 1 0 5.6 0a2.8 2.8 0 1 0 -5.6 0zM949.46 588.48a2.8 2.8 0 1 0 5.6 0a2.8 2.8 0 1 0 -5.6 0zM950.3 588.43a2.8 2.8 0 1 0 5.6 0a2.8 2.8 0 1 0 -5.6 0zM951.14 588.39a2.8 2.8 0 1 0 5.6 0a2.8 2.8 0 1 0 -5.6 0zM951.98 588.34a2.8 2.8 0 1 0 5.6 0a2.8 2.8 0 1 0 -5.6 0zM952.82 588.29a2.8 2.8 0 1 0 5.6 0a2.8 2.8 0 1 0 -5.6 0zM953.67 588.25a2.8 2.8 0 1 0 5.6 0a2.8 2.8 0 1 0 -5.6 0zM954.51 588.2a2.8 2.8 0 1 0 5.6 0a2.8 2.8 0 1 0 -5.6 0zM955.35 588.15a2.8 2.8 0 1 0 5.6 0a2.8 2.8 0 1 0 -5.6 0zM956.19 588.11a2.8 2.8 0 1 0 5.6 0a2.8 2.8 0 1 0 -5.6 0zM957.04 588.06a2.8 2.8 0 1 0 5.6 0a2.8 2.8 0 1 0 -5.6 0zM957.88 588.01a2.8 2.8 0 1 0 5.6 0a2.8 2.8 0 1 0 -5.6 0zM958.72 587.97a2.8 2.8 0 1 0 5.6 0a2.8 2.8 0 1 0 -5.6 0zM959.56 587.92a2.8 2.8 0 1 0 5.6 0a2.8 2.8 0 1 0 -5.6 0zM960.4 587.87a2.8 2.8 0 1 0 5.6 0a2.8 2.8 0 1 0 -5.6 0zM961.25 587.82a2.8 2.8 0 1 0 5.6 0a2.8 2.8 0 1 0 -5.6 0zM962.09 587.78a2.8 2.8 0 1 0 5.6 0a2.8 2.8 0 1 0 -5.6 0zM962.93 587.73a2.8 2.8 0 1 0 5.6 0a2.8 2.8 0 1 0 -5.6 0zM963.77 587.68a2.8 2.8 0 1 0 5.6 0a2.8 2.8 0 1 0 -5.6 0zM964.62 587.64a2.8 2.8 0 1 0 5.6 0a2.8 2.8 0 1 0 -5.6 0zM965.46 587.59a2.8 2.8 0 1 0 5.6 0a2.8 2.8 0 1 0 -5.6 0zM966.3 587.54a2.8 2.8 0 1 0 5.6 0a2.8 2.8 0 1 0 -5.6 0z" fill="#e8301e"/>
<path d="M632.2 587.26 633.04 587.31 633.88 587.36 634.73 587.4 635.57 587.45 636.41 587.5 637.25 587.54 638.1 587.59 638.94 587.64 639.78 587.68 640.62 587.73 641.46 587.78 642.31 587.82 643.15 587.87 643.99 587.92 644.83 587.97 645.68 588.01 646.52 588.06 647.36 588.11 648.2 588.15 649.05 588.2 649.89 588.25 650.73 588.29 651.57 588.34 652.41 588.39 653.26 588.43 654.1 588.48 654.94 588.53 655.78 588.57 656.63 588.62 657.47 588.67 658.31 588.74 659.15 588.82 659.99 588.89 660.84 588.97 661.68 589.04 662.52 589.12 663.36 589.19 664.21 589.27 665.05 589.34 665.89 589.42 666.73 589.49 667.57 589.57 668.42 589.64 669.26 589.72 670.1 589.79 670.94 589.86 671.79 589.94 672.63 590.01 673.47 590.09 674.31 590.16 675.15 590.24 676 590.31 676.84 590.39 677.68 590.46 678.52 590.54 679.37 590.61 680.21 590.69 681.05 590.76 681.89 590.84 682.74 590.91 683.58 591.1 684.42 591.29 685.26 591.47 686.1 591.66 686.95 591.85 687.79 592.04 688.63 592.22 689.47 592.41 690.32 592.6 691.16 592.78 692 592.97 692.84 593.16 693.68 593.35 694.53 593.53 695.37 593.72 696.21 593.91 697.05 594.09 697.9 594.28 698.74 594.47 699.58 594.66 700.42 594.84 701.26 595.57 702.11 596.3 702.95 597.03 703.79 597.75 704.63 598.48 705.48 599.21 706.32 599.94 707.16 600.67 708 601.39 708.84 602.12 709.69 603.03 710.53 604.63 711.37 606.23 712.21 607.84 713.06 609.44 713.9 611.25 714.74 613.05 715.58 614.86 716.43 616.66 717.27 617.79 718.11 618.75 718.95 619.71 719.79 620.67 720.64 621.89 721.48 623.11 722.32 624.33 723.16 625.56 724.01 626.29 724.85 626.29 725.69 626.29 726.53 626.29 727.37 621.82 728.22 619.67 729.06 627.69 729.9 628.75 730.74 629.81 731.59 630.86 732.43 631.92 733.27 632.98 734.11 634.04 734.95 635.09 735.8 636.06 736.64 636.82 737.48 637.57 738.32 638.33 739.17 639.09 740.01 639.84 740.85 640.6 741.69 641.36 742.53 642.11 743.38 642.87 744.22 643.63 745.06 644.38 745.9 645.14 746.75 645.9 747.59 646.61 748.43 647.13 749.27 647.65 750.12 648.17 750.96 648.69 751.8 649.21 752.64 649.73 753.48 650.26 754.33 650.78 755.17 651.3 756.01 651.82 756.85 652.34 757.7 652.86 758.54 653.38 759.38 653.84 760.22 654.02 761.06 654.2 761.91 654.38 762.75 654.56 763.59 654.74 764.43 654.92 765.28 654.92 766.12 654.92 766.96 654.92 767.8 654.92 768.64 654.92 769.49 649.89 770.33 644.86 771.17 638.73 772.01 622.79 772.86 606.85 773.7 592.23 774.54 574.26 775.38 541.22 776.22 513.99 777.07 496.71 777.91 503.62 778.75 510.53 779.59 518.38 780.44 527.16 781.28 535.95 782.12 543.47 782.96 549.08 783.81 554.7 784.65 560.31 785.49 566.07 786.33 572.38 787.17 578.7 788.02 585.02 788.86 591.33 789.7 597.65 790.54 603.49 791.39 609 792.23 614.52 793.07 620.03 793.91 625.55 794.75 631.06 795.6 635.27 796.44 639.48 797.28 643.69 798.12 647.91 798.97 649.15 799.81 649.65 800.65 650.15 801.49 649.65 802.33 649.15 803.18 647.91 804.02 643.69 804.86 639.48 805.7 635.27 806.55 631.06 807.39 625.55 808.23 620.03 809.07 614.52 809.91 609 810.76 603.49 811.6 597.65 812.44 591.33 813.28 585.02 814.13 578.7 814.97 572.38 815.81 566.07 816.65 560.31 817.5 554.7 818.34 549.08 819.18 543.47 820.02 535.95 820.86 527.16 821.71 518.38 822.55 510.53 823.39 503.62 824.23 496.71 825.08 513.99 825.92 541.22 826.76 574.26 827.6 592.23 828.44 606.85 829.29 622.79 830.13 638.73 830.97 644.86 831.81 649.89 832.66 654.92 833.5 654.92 834.34 654.92 835.18 654.92 836.02 654.92 836.87 654.92 837.71 654.74 838.55 654.56 839.39 654.38 840.24 654.2 841.08 654.02 841.92 653.84 842.76 653.38 843.6 652.86 844.45 652.34 845.29 651.82 846.13 651.3 846.97 650.78 847.82 650.26 848.66 649.73 849.5 649.21 850.34 648.69 851.19 648.17 852.03 647.65 852.87 647.13 853.71 646.61 854.55 645.9 855.4 645.14 856.24 644.38 857.08 643.63 857.92 642.87 858.77 642.11 859.61 641.36 860.45 640.6 861.29 639.84 862.13 639.09 862.98 638.33 863.82 637.57 864.66 636.82 865.5 636.06 866.35 635.09 867.19 634.04 868.03 632.98 868.87 631.92 869.71 630.86 870.56 629.81 871.4 628.75 872.24 627.69 873.08 619.67 873.93 621.82 874.77 626.29 875.61 626.29 876.45 626.29 877.29 626.29 878.14 625.56 878.98 624.33 879.82 623.11 880.66 621.89 881.51 620.67 882.35 619.71 883.19 618.75 884.03 617.79 884.88 616.66 885.72 614.86 886.56 613.05 887.4 611.25 888.24 609.44 889.09 607.84 889.93 606.23 890.77 604.63 891.61 603.03 892.46 602.12 893.3 601.39 894.14 600.67 894.98 599.94 895.82 599.21 896.67 598.48 897.51 597.75 898.35 597.03 899.19 596.3 900.04 595.57 900.88 594.84 901.72 594.66 902.56 594.47 903.4 594.28 904.25 594.09 905.09 593.91 905.93 593.72 906.77 593.53 907.62 593.35 908.46 593.16 909.3 592.97 910.14 592.78 910.98 592.6 911.83 592.41 912.67 592.22 913.51 592.04 914.35 591.85 915.2 591.66 916.04 591.47 916.88 591.29 917.72 591.1 918.57 590.91 919.41 590.84 920.25 590.76 921.09 590.69 921.93 590.61 922.78 590.54 923.62 590.46 924.46 590.39 925.3 590.31 926.15 590.24 926.99 590.16 927.83 590.09 928.67 590.01 929.51 589.94 930.36 589.86 931.2 589.79 932.04 589.72 932.88 589.64 933.73 589.57 934.57 589.49 935.41 589.42 936.25 589.34 937.09 589.27 937.94 589.19 938.78 589.12 939.62 589.04 940.46 588.97 941.31 588.89 942.15 588.82 942.99 588.74 943.83 588.67 944.67 588.62 945.52 588.57 946.36 588.53 947.2 588.48 948.04 588.43 948.89 588.39 949.73 588.34 950.57 588.29 951.41 588.25 952.26 588.2 953.1 588.15 953.94 588.11 954.78 588.06 955.62 588.01 956.47 587.97 957.31 587.92 958.15 587.87 958.99 587.82 959.84 587.78 960.68 587.73 961.52 587.68 962.36 587.64 963.2 587.59 964.05 587.54 964.89 587.5 965.73 587.45 966.57 587.4 967.42 587.36 968.26 587.31 969.1 587.26" fill="none" stroke="#0a22f0" stroke-width="1.3"/>
<path d="M632.2 583.38l3.6 6.48h-7.2zM633.04 583.42l3.6 6.48h-7.2zM633.88 583.47l3.6 6.48h-7.2zM634.73 583.52l3.6 6.48h-7.2zM635.57 583.56l3.6 6.48h-7.2zM636.41 583.61l3.6 6.48h-7.2zM637.25 583.66l3.6 6.48h-7.2zM638.1 583.7l3.6 6.48h-7.2zM638.94 583.75l3.6 6.48h-7.2zM639.78 583.8l3.6 6.48h-7.2zM640.62 583.84l3.6 6.48h-7.2zM641.46 583.89l3.6 6.48h-7.2zM642.31 583.94l3.6 6.48h-7.2zM643.15 583.98l3.6 6.48h-7.2zM643.99 584.03l3.6 6.48h-7.2zM644.83 584.08l3.6 6.48h-7.2zM645.68 584.12l3.6 6.48h-7.2zM646.52 584.17l3.6 6.48h-7.2zM647.36 584.22l3.6 6.48h-7.2zM648.2 584.26l3.6 6.48h-7.2zM649.05 584.31l3.6 6.48h-7.2zM649.89 584.36l3.6 6.48h-7.2zM650.73 584.4l3.6 6.48h-7.2zM651.57 584.45l3.6 6.48h-7.2zM652.41 584.5l3.6 6.48h-7.2zM653.26 584.55l3.6 6.48h-7.2zM654.1 584.59l3.6 6.48h-7.2zM654.94 584.64l3.6 6.48h-7.2zM655.78 584.69l3.6 6.48h-7.2zM656.63 584.73l3.6 6.48h-7.2zM657.47 584.78l3.6 6.48h-7.2zM658.31 584.85l3.6 6.48h-7.2zM659.15 584.93l3.6 6.48h-7.2zM659.99 585l3.6 6.48h-7.2zM660.84 585.08l3.6 6.48h-7.2zM661.68 585.15l3.6 6.48h-7.2zM662.52 585.23l3.6 6.48h-7.2zM663.36 585.3l3.6 6.48h-7.2zM664.21 585.38l3.6 6.48h-7.2zM665.05 585.45l3.6 6.48h-7.2zM665.89 585.53l3.6 6.48h-7.2zM666.73 585.6l3.6 6.48h-7.2zM667.57 585.68l3.6 6.48h-7.2zM668.42 585.75l3.6 6.48h-7.2zM669.26 585.83l3.6 6.48h-7.2zM670.1 585.9l3.6 6.48h-7.2zM670.94 585.98l3.6 6.48h-7.2zM671.79 586.05l3.6 6.48h-7.2zM672.63 586.13l3.6 6.48h-7.2zM673.47 586.2l3.6 6.48h-7.2zM674.31 586.28l3.6 6.48h-7.2zM675.15 586.35l3.6 6.48h-7.2zM676 586.43l3.6 6.48h-7.2zM676.84 586.5l3.6 6.48h-7.2zM677.68 586.58l3.6 6.48h-7.2zM678.52 586.65l3.6 6.48h-7.2zM679.37 586.73l3.6 6.48h-7.2zM680.21 586.8l3.6 6.48h-7.2zM681.05 586.88l3.6 6.48h-7.2zM681.89 586.95l3.6 6.48h-7.2zM682.74 587.02l3.6 6.48h-7.2zM683.58 587.21l3.6 6.48h-7.2zM684.42 587.4l3.6 6.48h-7.2zM685.26 587.59l3.6 6.48h-7.2zM686.1 587.77l3.6 6.48h-7.2zM686.95 587.96l3.6 6.48h-7.2zM687.79 588.15l3.6 6.48h-7.2zM688.63 588.34l3.6 6.48h-7.2zM689.47 588.52l3.6 6.48h-7.2zM690.32 588.71l3.6 6.48h-7.2zM691.16 588.9l3.6 6.48h-7.2zM692 589.08l3.6 6.48h-7.2zM692.84 589.27l3.6 6.48h-7.2zM693.68 589.46l3.6 6.48h-7.2zM694.53 589.65l3.6 6.48h-7.2zM695.37 589.83l3.6 6.48h-7.2zM696.21 590.02l3.6 6.48h-7.2zM697.05 590.21l3.6 6.48h-7.2zM697.9 590.39l3.6 6.48h-7.2zM698.74 590.58l3.6 6.48h-7.2zM699.58 590.77l3.6 6.48h-7.2zM700.42 590.96l3.6 6.48h-7.2zM701.26 591.68l3.6 6.48h-7.2zM702.11 592.41l3.6 6.48h-7.2zM702.95 593.14l3.6 6.48h-7.2zM703.79 593.87l3.6 6.48h-7.2zM704.63 594.59l3.6 6.48h-7.2zM705.48 595.32l3.6 6.48h-7.2zM706.32 596.05l3.6 6.48h-7.2zM707.16 596.78l3.6 6.48h-7.2zM708 597.51l3.6 6.48h-7.2zM708.84 598.23l3.6 6.48h-7.2zM709.69 599.14l3.6 6.48h-7.2zM710.53 600.74l3.6 6.48h-7.2zM711.37 602.35l3.6 6.48h-7.2zM712.21 603.95l3.6 6.48h-7.2zM713.06 605.55l3.6 6.48h-7.2zM713.9 607.36l3.6 6.48h-7.2zM714.74 609.16l3.6 6.48h-7.2zM715.58 610.97l3.6 6.48h-7.2zM716.43 612.77l3.6 6.48h-7.2zM717.27 613.9l3.6 6.48h-7.2zM718.11 614.86l3.6 6.48h-7.2zM718.95 615.82l3.6 6.48h-7.2zM719.79 616.78l3.6 6.48h-7.2zM720.64 618.01l3.6 6.48h-7.2zM721.48 619.23l3.6 6.48h-7.2zM722.32 620.45l3.6 6.48h-7.2zM723.16 621.67l3.6 6.48h-7.2zM724.01 622.4l3.6 6.48h-7.2zM724.85 622.4l3.6 6.48h-7.2zM725.69 622.4l3.6 6.48h-7.2zM726.53 622.4l3.6 6.48h-7.2zM727.37 617.93l3.6 6.48h-7.2zM728.22 615.78l3.6 6.48h-7.2zM729.06 623.8l3.6 6.48h-7.2zM729.9 624.86l3.6 6.48h-7.2zM730.74 625.92l3.6 6.48h-7.2zM731.59 626.98l3.6 6.48h-7.2zM732.43 628.03l3.6 6.48h-7.2zM733.27 629.09l3.6 6.48h-7.2zM734.11 630.15l3.6 6.48h-7.2zM734.95 631.2l3.6 6.48h-7.2zM735.8 632.17l3.6 6.48h-7.2zM736.64 632.93l3.6 6.48h-7.2zM737.48 633.69l3.6 6.48h-7.2zM738.32 634.44l3.6 6.48h-7.2zM739.17 635.2l3.6 6.48h-7.2zM740.01 635.96l3.6 6.48h-7.2zM740.85 636.71l3.6 6.48h-7.2zM741.69 637.47l3.6 6.48h-7.2zM742.53 638.23l3.6 6.48h-7.2zM743.38 638.98l3.6 6.48h-7.2zM744.22 639.74l3.6 6.48h-7.2zM745.06 640.49l3.6 6.48h-7.2zM745.9 641.25l3.6 6.48h-7.2zM746.75 642.01l3.6 6.48h-7.2zM747.59 642.72l3.6 6.48h-7.2zM748.43 643.24l3.6 6.48h-7.2zM749.27 643.76l3.6 6.48h-7.2zM750.12 644.28l3.6 6.48h-7.2zM750.96 644.8l3.6 6.48h-7.2zM751.8 645.32l3.6 6.48h-7.2zM752.64 645.85l3.6 6.48h-7.2zM753.48 646.37l3.6 6.48h-7.2zM754.33 646.89l3.6 6.48h-7.2zM755.17 647.41l3.6 6.48h-7.2zM756.01 647.93l3.6 6.48h-7.2zM756.85 648.45l3.6 6.48h-7.2zM757.7 648.97l3.6 6.48h-7.2zM758.54 649.5l3.6 6.48h-7.2zM759.38 649.95l3.6 6.48h-7.2zM760.22 650.13l3.6 6.48h-7.2zM761.06 650.31l3.6 6.48h-7.2zM761.91 650.49l3.6 6.48h-7.2zM762.75 650.67l3.6 6.48h-7.2zM763.59 650.85l3.6 6.48h-7.2zM764.43 651.04l3.6 6.48h-7.2zM765.28 651.04l3.6 6.48h-7.2zM766.12 651.04l3.6 6.48h-7.2zM766.96 651.04l3.6 6.48h-7.2zM767.8 651.04l3.6 6.48h-7.2zM768.64 651.04l3.6 6.48h-7.2zM769.49 646l3.6 6.48h-7.2zM770.33 640.97l3.6 6.48h-7.2zM771.17 634.84l3.6 6.48h-7.2zM772.01 618.9l3.6 6.48h-7.2zM772.86 602.96l3.6 6.48h-7.2zM773.7 588.34l3.6 6.48h-7.2zM774.54 570.37l3.6 6.48h-7.2zM775.38 537.33l3.6 6.48h-7.2zM776.22 510.1l3.6 6.48h-7.2zM777.07 492.82l3.6 6.48h-7.2zM777.91 499.73l3.6 6.48h-7.2zM778.75 506.64l3.6 6.48h-7.2zM779.59 514.49l3.6 6.48h-7.2zM780.44 523.28l3.6 6.48h-7.2zM781.28 532.06l3.6 6.48h-7.2zM782.12 539.58l3.6 6.48h-7.2zM782.96 545.19l3.6 6.48h-7.2zM783.81 550.81l3.6 6.48h-7.2zM784.65 556.42l3.6 6.48h-7.2zM785.49 562.18l3.6 6.48h-7.2zM786.33 568.5l3.6 6.48h-7.2zM787.17 574.81l3.6 6.48h-7.2zM788.02 581.13l3.6 6.48h-7.2zM788.86 587.45l3.6 6.48h-7.2zM789.7 593.76l3.6 6.48h-7.2zM790.54 599.6l3.6 6.48h-7.2zM791.39 605.11l3.6 6.48h-7.2zM792.23 610.63l3.6 6.48h-7.2zM793.07 616.14l3.6 6.48h-7.2zM793.91 621.66l3.6 6.48h-7.2zM794.75 627.17l3.6 6.48h-7.2zM795.6 631.38l3.6 6.48h-7.2zM796.44 635.59l3.6 6.48h-7.2zM797.28 639.81l3.6 6.48h-7.2zM798.12 644.02l3.6 6.48h-7.2zM798.97 645.26l3.6 6.48h-7.2zM799.81 645.76l3.6 6.48h-7.2zM800.65 646.26l3.6 6.48h-7.2zM801.49 645.76l3.6 6.48h-7.2zM802.33 645.26l3.6 6.48h-7.2zM803.18 644.02l3.6 6.48h-7.2zM804.02 639.81l3.6 6.48h-7.2zM804.86 635.59l3.6 6.48h-7.2zM805.7 631.38l3.6 6.48h-7.2zM806.55 627.17l3.6 6.48h-7.2zM807.39 621.66l3.6 6.48h-7.2zM808.23 616.14l3.6 6.48h-7.2zM809.07 610.63l3.6 6.48h-7.2zM809.91 605.11l3.6 6.48h-7.2zM810.76 599.6l3.6 6.48h-7.2zM811.6 593.76l3.6 6.48h-7.2zM812.44 587.45l3.6 6.48h-7.2zM813.28 581.13l3.6 6.48h-7.2zM814.13 574.81l3.6 6.48h-7.2zM814.97 568.5l3.6 6.48h-7.2zM815.81 562.18l3.6 6.48h-7.2zM816.65 556.42l3.6 6.48h-7.2zM817.5 550.81l3.6 6.48h-7.2zM818.34 545.19l3.6 6.48h-7.2zM819.18 539.58l3.6 6.48h-7.2zM820.02 532.06l3.6 6.48h-7.2zM820.86 523.28l3.6 6.48h-7.2zM821.71 514.49l3.6 6.48h-7.2zM822.55 506.64l3.6 6.48h-7.2zM823.39 499.73l3.6 6.48h-7.2zM824.23 492.82l3.6 6.48h-7.2zM825.08 510.1l3.6 6.48h-7.2zM825.92 537.33l3.6 6.48h-7.2zM826.76 570.37l3.6 6.48h-7.2zM827.6 588.34l3.6 6.48h-7.2zM828.44 602.96l3.6 6.48h-7.2zM829.29 618.9l3.6 6.48h-7.2zM830.13 634.84l3.6 6.48h-7.2zM830.97 640.97l3.6 6.48h-7.2zM831.81 646l3.6 6.48h-7.2zM832.66 651.04l3.6 6.48h-7.2zM833.5 651.04l3.6 6.48h-7.2zM834.34 651.04l3.6 6.48h-7.2zM835.18 651.04l3.6 6.48h-7.2zM836.02 651.04l3.6 6.48h-7.2zM836.87 651.04l3.6 6.48h-7.2zM837.71 650.85l3.6 6.48h-7.2zM838.55 650.67l3.6 6.48h-7.2zM839.39 650.49l3.6 6.48h-7.2zM840.24 650.31l3.6 6.48h-7.2zM841.08 650.13l3.6 6.48h-7.2zM841.92 649.95l3.6 6.48h-7.2zM842.76 649.5l3.6 6.48h-7.2zM843.6 648.97l3.6 6.48h-7.2zM844.45 648.45l3.6 6.48h-7.2zM845.29 647.93l3.6 6.48h-7.2zM846.13 647.41l3.6 6.48h-7.2zM846.97 646.89l3.6 6.48h-7.2zM847.82 646.37l3.6 6.48h-7.2zM848.66 645.85l3.6 6.48h-7.2zM849.5 645.32l3.6 6.48h-7.2zM850.34 644.8l3.6 6.48h-7.2zM851.19 644.28l3.6 6.48h-7.2zM852.03 643.76l3.6 6.48h-7.2zM852.87 643.24l3.6 6.48h-7.2zM853.71 642.72l3.6 6.48h-7.2zM854.55 642.01l3.6 6.48h-7.2zM855.4 641.25l3.6 6.48h-7.2zM856.24 640.49l3.6 6.48h-7.2zM857.08 639.74l3.6 6.48h-7.2zM857.92 638.98l3.6 6.48h-7.2zM858.77 638.23l3.6 6.48h-7.2zM859.61 637.47l3.6 6.48h-7.2zM860.45 636.71l3.6 6.48h-7.2zM861.29 635.96l3.6 6.48h-7.2zM862.13 635.2l3.6 6.48h-7.2zM862.98 634.44l3.6 6.48h-7.2zM863.82 633.69l3.6 6.48h-7.2zM864.66 632.93l3.6 6.48h-7.2zM865.5 632.17l3.6 6.48h-7.2zM866.35 631.2l3.6 6.48h-7.2zM867.19 630.15l3.6 6.48h-7.2zM868.03 629.09l3.6 6.48h-7.2zM868.87 628.03l3.6 6.48h-7.2zM869.71 626.98l3.6 6.48h-7.2zM870.56 625.92l3.6 6.48h-7.2zM871.4 624.86l3.6 6.48h-7.2zM872.24 623.8l3.6 6.48h-7.2zM873.08 615.78l3.6 6.48h-7.2zM873.93 617.93l3.6 6.48h-7.2zM874.77 622.4l3.6 6.48h-7.2zM875.61 622.4l3.6 6.48h-7.2zM876.45 622.4l3.6 6.48h-7.2zM877.29 622.4l3.6 6.48h-7.2zM878.14 621.67l3.6 6.48h-7.2zM878.98 620.45l3.6 6.48h-7.2zM879.82 619.23l3.6 6.48h-7.2zM880.66 618.01l3.6 6.48h-7.2zM881.51 616.78l3.6 6.48h-7.2zM882.35 615.82l3.6 6.48h-7.2zM883.19 614.86l3.6 6.48h-7.2zM884.03 613.9l3.6 6.48h-7.2zM884.88 612.77l3.6 6.48h-7.2zM885.72 610.97l3.6 6.48h-7.2zM886.56 609.16l3.6 6.48h-7.2zM887.4 607.36l3.6 6.48h-7.2zM888.24 605.55l3.6 6.48h-7.2zM889.09 603.95l3.6 6.48h-7.2zM889.93 602.35l3.6 6.48h-7.2zM890.77 600.74l3.6 6.48h-7.2zM891.61 599.14l3.6 6.48h-7.2zM892.46 598.23l3.6 6.48h-7.2zM893.3 597.51l3.6 6.48h-7.2zM894.14 596.78l3.6 6.48h-7.2zM894.98 596.05l3.6 6.48h-7.2zM895.82 595.32l3.6 6.48h-7.2zM896.67 594.59l3.6 6.48h-7.2zM897.51 593.87l3.6 6.48h-7.2zM898.35 593.14l3.6 6.48h-7.2zM899.19 592.41l3.6 6.48h-7.2zM900.04 591.68l3.6 6.48h-7.2zM900.88 590.96l3.6 6.48h-7.2zM901.72 590.77l3.6 6.48h-7.2zM902.56 590.58l3.6 6.48h-7.2zM903.4 590.39l3.6 6.48h-7.2zM904.25 590.21l3.6 6.48h-7.2zM905.09 590.02l3.6 6.48h-7.2zM905.93 589.83l3.6 6.48h-7.2zM906.77 589.65l3.6 6.48h-7.2zM907.62 589.46l3.6 6.48h-7.2zM908.46 589.27l3.6 6.48h-7.2zM909.3 589.08l3.6 6.48h-7.2zM910.14 588.9l3.6 6.48h-7.2zM910.98 588.71l3.6 6.48h-7.2zM911.83 588.52l3.6 6.48h-7.2zM912.67 588.34l3.6 6.48h-7.2zM913.51 588.15l3.6 6.48h-7.2zM914.35 587.96l3.6 6.48h-7.2zM915.2 587.77l3.6 6.48h-7.2zM916.04 587.59l3.6 6.48h-7.2zM916.88 587.4l3.6 6.48h-7.2zM917.72 587.21l3.6 6.48h-7.2zM918.57 587.02l3.6 6.48h-7.2zM919.41 586.95l3.6 6.48h-7.2zM920.25 586.88l3.6 6.48h-7.2zM921.09 586.8l3.6 6.48h-7.2zM921.93 586.73l3.6 6.48h-7.2zM922.78 586.65l3.6 6.48h-7.2zM923.62 586.58l3.6 6.48h-7.2zM924.46 586.5l3.6 6.48h-7.2zM925.3 586.43l3.6 6.48h-7.2zM926.15 586.35l3.6 6.48h-7.2zM926.99 586.28l3.6 6.48h-7.2zM927.83 586.2l3.6 6.48h-7.2zM928.67 586.13l3.6 6.48h-7.2zM929.51 586.05l3.6 6.48h-7.2zM930.36 585.98l3.6 6.48h-7.2zM931.2 585.9l3.6 6.48h-7.2zM932.04 585.83l3.6 6.48h-7.2zM932.88 585.75l3.6 6.48h-7.2zM933.73 585.68l3.6 6.48h-7.2zM934.57 585.6l3.6 6.48h-7.2zM935.41 585.53l3.6 6.48h-7.2zM936.25 585.45l3.6 6.48h-7.2zM937.09 585.38l3.6 6.48h-7.2zM937.94 585.3l3.6 6.48h-7.2zM938.78 585.23l3.6 6.48h-7.2zM939.62 585.15l3.6 6.48h-7.2zM940.46 585.08l3.6 6.48h-7.2zM941.31 585l3.6 6.48h-7.2zM942.15 584.93l3.6 6.48h-7.2zM942.99 584.85l3.6 6.48h-7.2zM943.83 584.78l3.6 6.48h-7.2zM944.67 584.73l3.6 6.48h-7.2zM945.52 584.69l3.6 6.48h-7.2zM946.36 584.64l3.6 6.48h-7.2zM947.2 584.59l3.6 6.48h-7.2zM948.04 584.55l3.6 6.48h-7.2zM948.89 584.5l3.6 6.48h-7.2zM949.73 584.45l3.6 6.48h-7.2zM950.57 584.4l3.6 6.48h-7.2zM951.41 584.36l3.6 6.48h-7.2zM952.26 584.31l3.6 6.48h-7.2zM953.1 584.26l3.6 6.48h-7.2zM953.94 584.22l3.6 6.48h-7.2zM954.78 584.17l3.6 6.48h-7.2zM955.62 584.12l3.6 6.48h-7.2zM956.47 584.08l3.6 6.48h-7.2zM957.31 584.03l3.6 6.48h-7.2zM958.15 583.98l3.6 6.48h-7.2zM958.99 583.94l3.6 6.48h-7.2zM959.84 583.89l3.6 6.48h-7.2zM960.68 583.84l3.6 6.48h-7.2zM961.52 583.8l3.6 6.48h-7.2zM962.36 583.75l3.6 6.48h-7.2zM963.2 583.7l3.6 6.48h-7.2zM964.05 583.66l3.6 6.48h-7.2zM964.89 583.61l3.6 6.48h-7.2zM965.73 583.56l3.6 6.48h-7.2zM966.57 583.52l3.6 6.48h-7.2zM967.42 583.47l3.6 6.48h-7.2zM968.26 583.42l3.6 6.48h-7.2zM969.1 583.38l3.6 6.48h-7.2z" fill="#0a22f0"/>
<path d="M660.9 697.8h17.6M695.3 697.8h17.6" stroke="#000" stroke-width="2.4"/>
<path d="M684.5 695.4h4.8v4.8h-4.8z" fill="#000"/>
<path d="M660.9 724.3h17.6M695.3 724.3h17.6" stroke="#e8301e" stroke-width="2.4"/>
<path d="M684.2 724.3a2.7 2.7 0 1 0 5.4 0a2.7 2.7 0 1 0 -5.4 0z" fill="#e8301e"/>
<path d="M660.9 752.4h17.6M695.3 752.4h17.6" stroke="#0a22f0" stroke-width="2.4"/>
<path d="M686.9 749.84l3.3 5.94h-6.6z" fill="#0a22f0"/>
<text x="723.8" y="704.5" class="lg"><tspan font-family="\"Liberation Serif\", serif" font-style="italic" font-size="22">s</tspan>-wave pair potential</text>
<text x="723.8" y="731" class="lg"><tspan font-family="\"Liberation Serif\", serif" font-style="italic" font-size="22">d</tspan><tspan font-family="\"Liberation Serif\", serif" font-style="italic" font-size="17" dy="6" dx="0.5">x</tspan><tspan font-family="\"Liberation Serif\", serif" font-size="11.5" dy="-6.5" dx="0.5">2</tspan><tspan font-family="\"Liberation Serif\", serif" font-size="17" dy="6.5" dx="0.5">−</tspan><tspan font-family="\"Liberation Serif\", serif" font-style="italic" font-size="17" dx="0.5">y</tspan><tspan font-family="\"Liberation Serif\", serif" font-size="11.5" dy="-6.5" dx="0.5">2</tspan><tspan dy="0.5">-wave pair potential</tspan></text>
<text x="723.8" y="759" class="lg"><tspan font-family="\"Liberation Serif\", serif" font-style="italic" font-size="22">d</tspan><tspan font-family="\"Liberation Serif\", serif" font-style="italic" font-size="17" dy="6" dx="0.5">xy</tspan><tspan dy="-6">-wave pair potential</tspan></text>
<text y="839.5" class="ax" font-size="32"><tspan x="758.65" font-style="italic">e</tspan><tspan x="772.15" font-style="italic">V</tspan><tspan x="792.65" font-weight="bold">/</tspan><tspan x="805.15">Δ</tspan></text>
<text transform="translate(570 649.5) rotate(-90) scale(1.12 1)" class="ax" font-size="33" font-style="italic">σ</text><text transform="translate(577.8 632.5) rotate(-90)" class="ax" font-size="24" font-style="italic">S</text><text transform="translate(569.6 615) rotate(-90)" class="ax" font-size="38" font-style="italic">/</text><text transform="translate(570 604) rotate(-90) scale(1.12 1)" class="ax" font-size="33" font-style="italic">σ</text><text transform="translate(577.8 589.5) rotate(-90)" class="ax" font-size="25" font-style="italic">N</text>
</svg>
<canvas id="cA" width="332" height="331" style="left:86px;top:14px"></canvas><canvas id="cB" width="332" height="331" style="left:614px;top:14px"></canvas><canvas id="cC" width="332" height="331" style="left:86px;top:445px"></canvas><div class="fb" style="left:456px;top:42px;width:14px;height:310px;background:linear-gradient(#fbf0c8,#f3c98e 20%,#dda060 45%,#c48e60 55%,#8a8288 70%,#5e6ea0 85%,#2f5484)"></div><div class="fb" style="left:978px;top:42px;width:14px;height:310px;background:linear-gradient(#fbf0c8,#f3c98e 20%,#dda060 45%,#c48e60 55%,#8a8288 70%,#5e6ea0 85%,#2f5484)"></div><div class="fb" style="left:458px;top:474px;width:13px;height:309px;background:linear-gradient(#fbf0c8,#f3c98e 20%,#dda060 45%,#c48e60 55%,#8a8288 70%,#5e6ea0 85%,#2f5484)"></div><canvas id="kA" width="14" height="310" style="left:456px;top:42px"></canvas><canvas id="kB" width="14" height="310" style="left:978px;top:42px"></canvas><canvas id="kC" width="13" height="309" style="left:458px;top:474px"></canvas>
<svg width="1025" height="844" viewBox="0 0 1025 844">
<text x="165.5" y="54.6" class="pt"><tspan font-family="\"Liberation Serif\", serif" font-style="italic" font-size="22">s</tspan>-wave pair potential</text>
<text x="678" y="52" class="pt"><tspan font-family="\"Liberation Serif\", serif" font-style="italic" font-size="22">d</tspan><tspan font-family="\"Liberation Serif\", serif" font-style="italic" font-size="17" dy="6" dx="0.5">x</tspan><tspan font-family="\"Liberation Serif\", serif" font-size="11.5" dy="-6.5" dx="0.5">2</tspan><tspan font-family="\"Liberation Serif\", serif" font-size="17" dy="6.5" dx="0.5">−</tspan><tspan font-family="\"Liberation Serif\", serif" font-style="italic" font-size="17" dx="0.5">y</tspan><tspan font-family="\"Liberation Serif\", serif" font-size="11.5" dy="-6.5" dx="0.5">2</tspan><tspan dy="0.5">-wave pair potential</tspan></text>
<text x="165.5" y="481" class="pt"><tspan font-family="\"Liberation Serif\", serif" font-style="italic" font-size="22">d</tspan><tspan font-family="\"Liberation Serif\", serif" font-style="italic" font-size="17" dy="6" dx="0.5">xy</tspan><tspan dy="-6">-wave pair potential</tspan></text>
</svg>
<script>
var GEO={A:{"xc": 252.0, "yc": 179.5, "ax": 82.85, "ay": 330.75, "g": [86, 14, 332, 331]},B:{"xc": 779.9, "yc": 179.5, "ax": 82.85, "ay": 330.75, "g": [614, 14, 332, 331]},C:{"xc": 252.0, "yc": 610.5, "ax": 82.85, "ay": 330.75, "g": [86, 445, 332, 331]}};
(function(){
var CM=[[0.00,47,84,130],[0.05,56,91,144],[0.10,70,100,160],[0.15,90,108,158],[0.20,112,116,148],[0.25,132,123,136],[0.30,150,130,122],[0.35,172,139,110],[0.40,190,147,102],[0.45,203,153,95],[0.50,214,158,92],[0.60,230,172,100],[0.70,240,190,122],[0.80,246,210,150],[0.90,251,232,186],[1.00,255,249,225],[1.15,255,255,250]];
function cmr(v){
  if(v<=CM[0][0]) return [CM[0][1],CM[0][2],CM[0][3]];
  for(var i=1;i<CM.length;i++){
    if(v<=CM[i][0]){var a=CM[i-1],b=CM[i],f=(v-a[0])/(b[0]-a[0]);
      return [a[1]+(b[1]-a[1])*f,a[2]+(b[2]-a[2])*f,a[3]+(b[3]-a[3])*f];}
  }
  var l=CM[CM.length-1];return [l[1],l[2],l[3]];
}
var LUT=[];for(var q=0;q<=1200;q++){LUT.push(cmr(q/1000));}
function cm(v){var k=Math.round(v*1000);if(k<0)k=0;if(k>1200)k=1200;return LUT[k];}
function G(x,w){return Math.exp(-(x*x)/(w*w));}
function sig(x){return 1/(1+Math.exp(-x));}
function mkCurve(pts,core,cw,halo,hw){
  var xmin=1e9,xmax=-1e9,ymin=1e9,ymax=-1e9;
  for(var i=0;i<pts.length;i++){var p=pts[i];if(p[0]<xmin)xmin=p[0];if(p[0]>xmax)xmax=p[0];if(p[1]<ymin)ymin=p[1];if(p[1]>ymax)ymax=p[1];}
  var m=Math.max(cw,hw)*3;
  return {p:pts,a:core,w:cw,b:halo,hw:hw,bb:[xmin-m,xmax+m,ymin-m,ymax+m]};
}
function dist2(c,X,D){
  var p=c.p,best=1e18;
  for(var i=0;i<p.length-1;i++){
    var ax=p[i][0],ay=p[i][1],bx=p[i+1][0],by=p[i+1][1];
    var dx=bx-ax,dy=by-ay,l=dx*dx+dy*dy,t=l>0?((X-ax)*dx+(D-ay)*dy)/l:0;
    if(t<0)t=0;else if(t>1)t=1;
    var ex=ax+t*dx-X,ey=ay+t*dy-D,d=ex*ex+ey*ey;
    if(d<best)best=d;
  }
  return best;
}
function curveSum(curves,X,D){
  var s=0,mx=0;
  for(var k=0;k<curves.length;k++){
    var c=curves[k],bb=c.bb;
    if(X<bb[0]||X>bb[1]||D<bb[2]||D>bb[3])continue;
    var d2=dist2(c,X,D);
    var v=c.a*Math.exp(-d2/(c.w*c.w))+c.b*Math.exp(-d2/(c.hw*c.hw));
    s+=v;if(v>mx)mx=v;
  }
  return mx+0.35*(s-mx);
}
// branch from (-xp,dp) via (0,dc) to (xp,dp). mode 0: ellipse (rounded, exponent k), mode 1: pointed 1-(|x|/xp)^k
function branch(xp,dp,dc,mode,k,n){
  var pts=[];n=n||60;
  for(var i=0;i<=n;i++){
    var x,f;
    if(mode===0){var phi=Math.PI*i/n;x=-xp*Math.cos(phi);f=Math.pow(Math.sin(phi),k);}
    else {x=-xp+2*xp*i/n;f=1-Math.pow(Math.abs(x)/xp,k);}
    pts.push([x,dp+(dc-dp)*f]);
  }
  return pts;
}
function circ(cx,cy,r,n){var pts=[];n=n||24;for(var i=0;i<=n;i++){var a=2*Math.PI*i/n;pts.push([cx+r*Math.cos(a),cy+r*Math.sin(a)]);}return pts;}
function mirrorD(pts){return pts.map(function(p){return [p[0],-p[1]];});}
function mirrorX(pts){return pts.map(function(p){return [-p[0],p[1]];});}
function addSym(list,pts,a,w,b,hw,mx){
  list.push(mkCurve(pts,a,w,b,hw));list.push(mkCurve(mirrorD(pts),a,w,b,hw));
  if(mx){list.push(mkCurve(mirrorX(pts),a,w,b,hw));list.push(mkCurve(mirrorX(mirrorD(pts)),a,w,b,hw));}
}
var WH=0;
function thinSum(lines,X,D){var s=0;for(var k=0;k<lines.length;k++){var c=lines[k],bb=c.bb;if(X<bb[0]||X>bb[1]||D<bb[2]||D>bb[3])continue;s+=c.a*Math.exp(-dist2(c,X,D)/(c.w*c.w));}return s;}
function render(id,P,field){
  var cv=document.getElementById(id);if(!cv)return;
  var g=P.g,ctx=cv.getContext('2d'),im=ctx.createImageData(g[2],g[3]),d=im.data;
  for(var j=0;j<g[3];j++){
    var y=g[1]+j+0.5, D=P.yc-y;
    for(var i=0;i<g[2];i++){
      var x=g[0]+i+0.5, X=x-P.xc;
      var o=(j*g[2]+i)*4;
      var u=X/P.ax, t=D/P.ay;
      if(u<-2.0||u>2.0||t>0.5||t<-0.5){d[o+3]=0;continue;}
      WH=0;
      var c=cm(field(X,D,u,t));
      if(WH>0){var a=WH>1?1:WH;d[o]=c[0]+(245-c[0])*a;d[o+1]=c[1]+(248-c[1])*a;d[o+2]=c[2]+(255-c[2])*a;}
      else {d[o]=c[0];d[o+1]=c[1];d[o+2]=c[2];}
      d[o+3]=255;
    }
  }
  ctx.putImageData(im,0,0);
}
function renderBar(id,vmax){
  var cv=document.getElementById(id);if(!cv)return;
  var ctx=cv.getContext('2d'),w=cv.width,h=cv.height,im=ctx.createImageData(w,h),d=im.data;
  for(var j=0;j<h;j++){var v=vmax*(1-(j+0.5)/h),c=cm(v);
    for(var i=0;i<w;i++){var o=(j*w+i)*4;d[o]=c[0];d[o+1]=c[1];d[o+2]=c[2];d[o+3]=255;}}
  ctx.putImageData(im,0,0);
}
var AX=82.85, AY=330.75;
// X-shaped central feature: arm polyline (ax->D), mirrored
function interpArm(arm,ax){
  if(ax<=arm[0][0])return arm[0][1];
  for(var i=1;i<arm.length;i++){if(ax<=arm[i][0]){var a=arm[i-1],b=arm[i];return a[1]+(b[1]-a[1])*(ax-a[0])/(b[0]-a[0]);}}
  return arm[arm.length-1][1];
}
function armPts(arm){var p=[];for(var i=arm.length-1;i>=0;i--)p.push([-arm[i][0],arm[i][1]]);for(var j=1;j<arm.length;j++)p.push([arm[j][0],arm[j][1]]);return p;}
function xfeat(ax,ad,arm,bw){
  var a=interpArm(arm,ax);
  var inside=sig((a-ad)/1.0);
  var core=Math.exp(-Math.pow(ax/bw,6));
  var v=1.05*inside*core;
  var side=Math.max(0,ax-bw*0.85);
  v+=0.75*inside*Math.exp(-Math.pow(side/20,2))*(1-core);
  return v;
}
// ---------- Panel A: s-wave ----------
var BANDA=[[0,0.39],[70,0.39],[73,0.35],[75,0.26],[77,0.2],[82,0.19],[86,0.15],[96,0.11],[105,0.105],[120,0.08],[140,0.045],[166,0.012]];
var curvesA=[],thinA=[];
var ARMA=[[0,10.5],[18,11.6],[35,15.5],[53,19.2],[63.6,22.6],[73,27.4],[78,30.5],[80.6,33.1],[82.3,35],[82.85,36]];
(function(){
  addSym(curvesA,armPts(ARMA),0.85,2.9,0.45,5.4);
  addSym(curvesA,branch(AX,36,53.5,0,0.8),0.75,1.8,0.35,3.8);
  addSym(curvesA,branch(AX,68.5,53.5,1,2.7),0.7,1.35,0.28,2.8);
  addSym(curvesA,branch(AX,68.5,74.4,1,6),0.85,1.1,0.2,2.4);
  addSym(curvesA,branch(AX,84.5,74.4,1,2.2),0.78,0.9,0.1,2.1);
  addSym(thinA,branch(AX,84.5,87.1,1,2.5),0.85,0.75,0,1);
  addSym(thinA,branch(AX,93,87.1,1,2.2),0.45,0.7,0,1);
  addSym(thinA,branch(AX,93,94,1,2),0.32,0.65,0,1);
})();
function fieldA(X,D,u,t){
  var ax=Math.abs(X),ad=Math.abs(D),v;
  if(ad>82&&ad<98&&ax<AX+2) WH=thinSum(thinA,X,D);
  if(ax<AX){
    v=0.035*sig((80-ad)/5)+0.06*G(D,16);
    v+=xfeat(ax,ad,ARMA,19.5);
    v+=curveSum(curvesA,X,D);
  } else {
    var s=(ax-AX);
    v=tabI(BANDA,ad);
    v+=0.3*G(ad-84.5,1.4)*(0.5+0.5*Math.exp(-s/25));
    v+=0.14*G(ad-93,1.1);
    v+=0.33*G(ad-36,11)*Math.exp(-Math.pow(s/34,1.5))+0.05*G(ad-36,8)+0.45*Math.exp(-Math.pow(s/7,2)-Math.pow((ad-36)/4.5,2));
    v+=0.3*G(ad-68.5,6)*Math.exp(-Math.pow(s/30,1.5))+0.04*G(ad-68.5,5)+0.4*Math.exp(-Math.pow(s/6,2)-Math.pow((ad-68.5)/3.5,2));
    v-=0.15*Math.exp(-Math.pow(s/34,2)-Math.pow(ad/20,2));
    v-=0.17*G(ad-53,6.5)*Math.exp(-Math.pow(s/45,2));
  }
  return v;
}
// ---------- Panel B: d_x2-y2 ----------
var curvesB=[],thinB=[];
var ARMB=[[0,10.5],[18,11.8],[32,15],[44,18.2],[54,21.5],[61,24.5],[66,27.3],[68.6,29.2],[69.6,30.4]];
(function(){
  addSym(curvesB,armPts(ARMB),0.85,2.9,0.45,5.4);
  var l1=[[0,52.1],[20,51.8],[37.2,50.3],[45,48.6],[53,45.9],[59,40.5],[64.5,35],[69.6,30.4]];
  var l1f=[];for(var i=l1.length-1;i>0;i--)l1f.push([-l1[i][0],l1[i][1]]);for(var j=0;j<l1.length;j++)l1f.push(l1[j]);
  addSym(curvesB,branch(69.6,31.5,52.3,0,0.7),0.75,1.7,0.35,3.6);
  addSym(curvesB,branch(30,64.4,55.6,0,0.9),0.65,1.4,0.25,3.0);
  addSym(curvesB,branch(30,64.4,73.2,0,0.9),0.65,1.4,0.25,3.0);
  addSym(thinB,circ(0,77.6,4.2),0.9,0.85,0,1);
  addSym(thinB,circ(0,84.8,2.8),0.8,0.75,0,1);
  addSym(thinB,[[-15,93],[0,89.5],[15,86.5]],0.55,0.7,0.0,1.5,true);
  addSym(thinB,[[-17,93.5],[17,93.5]],0.35,0.6,0.0,1.5);
})();
function gapB(t){return Math.abs(Math.cos(2*Math.PI*t))*AX;}
function tabI(tab,x){
  if(x<=tab[0][0])return tab[0][1];
  for(var i=1;i<tab.length;i++){if(x<=tab[i][0]){var a=tab[i-1],b=tab[i];return a[1]+(b[1]-a[1])*(x-a[0])/(b[0]-a[0]);}}
  return tab[tab.length-1][1];
}
var BANDB=[[0,0.40],[20,0.41],[40,0.40],[52,0.39],[58,0.36],[65.7,0.30],[70,0.31],[73.7,0.34],[77,0.26],[80.7,0.2],[84,0.24],[86,0.28],[88,0.22],[93.7,0.18],[98,0.12],[102,0.11],[115,0.095],[135,0.055],[166,0.015]];
function fieldB(X,D,u,t){
  var ax=Math.abs(X),ad=Math.abs(D),v;
  if(ad>70&&ad<100&&ax<25) WH=thinSum(thinB,X,D);
  if(ad<AY*0.25){
    var g=gapB(t), e=ax-g, vi=0, vo=0, cs=null;
    if(e<2){
      vi=0.035+0.06*G(D,16);
      vi+=xfeat(ax,ad,ARMB,20); cs=curveSum(curvesB,X,D); vi+=cs;
    }
    if(e>-2){
      var s=Math.max(0,e);
      vo=tabI(BANDB,ad);
      vo-=0.17*Math.exp(-s/16)*G(ad,33);
      vo+=0.45*Math.exp(-s/28)*G(ad-31.5,9);
      vo+=0.3*Math.exp(-s/15)*G(ad-64.4,5);
      if(s<12) vo+=(cs===null?curveSum(curvesB,X,D):cs);
    }
    if(e<=-2) v=vi; else if(e>=2) v=vo; else {var w=sig(e/0.6); v=w*vo+(1-w)*vi;}
  } else {
    var g2=ad>AY*0.285?AX*(Math.abs(t)-0.285)/0.215:-1;
    var w=sig((ax-g2)/2.5);
    v=w*tabI(BANDB,ad)+(1-w)*0.0;
    v+=curveSum(curvesB,X,D);
  }
  return v;
}
// ---------- Panel C: d_xy ----------
var curvesC=[],thinC=[];
(function(){
  var eyeRaw=[[0,0],[6.4,6.7],[14.2,13.7],[20.5,18.2],[23.6,20.8],[24.4,22.6],[23.6,25],[21.2,27.6],[16.6,30.9],[12.5,33.0],[8.8,34.8],[4.2,35.9],[0,36.4]];
  addSym(curvesC,eyeRaw,0.85,2.2,0.45,4.6,true);
  addSym(curvesC,[[0,36.4],[71.5,54.7]],0.8,1.55,0.36,3.4,true);
  addSym(curvesC,[[71.5,54.7],[0,67.9]],0.78,1.3,0.28,2.8,true);
  addSym(curvesC,[[0,67.9],[83,74.2]],0.78,1.15,0.2,2.5,true);
  addSym(curvesC,branch(83,74.2,84.4,1,1.85),0.85,1.0,0.14,2.2);
  addSym(thinC,branch(83,86.9,85.4,1,1.8),0.9,0.8,0,1);
  addSym(thinC,branch(82,86.9,92.9,1,3.8),0.8,0.75,0,1);
})();
function gapC(t){return Math.abs(Math.sin(2*Math.PI*t))*AX;}
var BASEC=[[0,0.42],[22,0.42],[32,0.36],[40,0.29],[48,0.27],[58,0.22],[66,0.17],[75,0.14],[85,0.11],[96,0.11],[105,0.1],[120,0.08],[140,0.045],[166,0.012]];
function outerC(ad,s){
  var v=tabI(BASEC,ad);
  v+=0.3*G(ad-54.4,3.2)*(0.7+0.3*Math.exp(-s/30));
  v+=0.3*G(ad-74.2,2.2)*(0.6+0.4*Math.exp(-s/30));
  v+=0.25*G(ad-86.9,1.4)*(0.5+0.5*Math.exp(-s/25));
  v+=0.04*G(ad-94.4,1.2);
  return v;
}
function fieldC(X,D,u,t){
  var ax=Math.abs(X),ad=Math.abs(D),v;
  if(ad>82&&ad<97&&ax<AX+2) WH=thinSum(thinC,X,D);
  if(ad<=AY*0.25){
    var g=gapC(t), e=ax-g, vi=0, vo=0, cs=null;
    if(e<2){ cs=curveSum(curvesC,X,D); vi=0.03+cs; }
    if(e>-2){
      var s=Math.max(0,e);
      vo=outerC(ad,s);
      vo-=0.1*Math.exp(-s/8)*sig((ad-8)/3);
      vo+=0.35*Math.exp(-s/12)*G(ad-54.6,3.5);
      if(ad<40) vo+=0.6*(cs===null?curveSum(curvesC,X,D):cs);
      vo+=0.3*Math.exp(-s/10)*G(ad-74.3,2.5);
      vo+=0.2*Math.exp(-s/8)*G(ad-86.9,1.8);
    }
    if(e<=-2) v=vi; else if(e>=2) v=vo; else {var w=sig(e/0.6); v=w*vo+(1-w)*vi;}
  } else {
    var g2=AX*Math.pow(Math.abs(Math.sin(2*Math.PI*t)),0.6);
    var w=sig((ax-g2)/3);
    v=w*outerC(ad,ax-g2)+(1-w)*0.025;
    if(ad>90&&ad<99) WH+=0.3*G(ad-94.4,0.8)*w;
    v+=curveSum(curvesC,X,D);
  }
  return v;
}
render('cA',GEO.A,fieldA);
render('cB',GEO.B,fieldB);
render('cC',GEO.C,fieldC);
renderBar('kA',0.97);
renderBar('kB',0.97);
renderBar('kC',0.97);
})();

</script>
</body></html>
